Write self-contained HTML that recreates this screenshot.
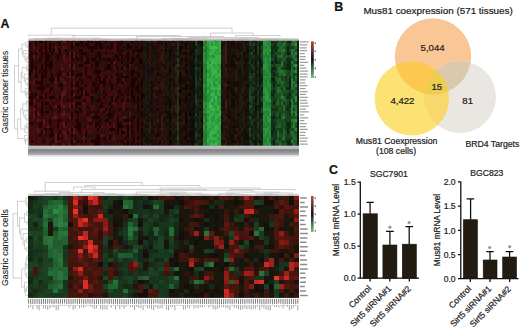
<!DOCTYPE html>
<html><head><meta charset="utf-8"><style>
html,body{margin:0;padding:0;background:#fff;}
body{width:520px;height:330px;overflow:hidden;position:relative;font-family:"Liberation Sans",sans-serif;}
svg{position:absolute;left:0;top:0;}
text{font-family:"Liberation Sans",sans-serif;stroke:#222;stroke-width:0.22px;}
</style></head><body>
<svg width="520" height="330" viewBox="0 0 520 330" font-family="Liberation Sans, sans-serif">
<rect width="520" height="330" fill="#fff"/>
<!-- panel labels -->
<text x="0.4" y="28" font-size="12.4" font-weight="bold" fill="#111">A</text>
<text x="334.3" y="11" font-size="12.4" font-weight="bold" fill="#111">B</text>
<text x="329" y="173.9" font-size="12.4" font-weight="bold" fill="#111">C</text>
<!-- side labels -->
<text transform="translate(7.5,92) rotate(-90)" text-anchor="middle" font-size="8.4" fill="#222" style="stroke-width:0.1px">Gastric cancer tissues</text>
<text transform="translate(7.5,247.6) rotate(-90)" text-anchor="middle" font-size="8.8" fill="#222" style="stroke-width:0.1px">Gastric cancer cells</text>
<!-- upper heatmap -->
<rect x="28.5" y="40.5" width="270.5" height="105" fill="#301512"/>
<clipPath id="cu"><rect x="28.5" y="40.5" width="270.5" height="105"/></clipPath>
<filter id="bl" x="0" y="0" width="1" height="1"><feGaussianBlur stdDeviation="0.7"/></filter>
<g clip-path="url(#cu)"><g shape-rendering="crispEdges" filter="url(#bl)">
<path fill="#340c0c" d="M28.5 40.50h2.0v2.97h-2.0zM28.5 63.83h2.0v2.97h-2.0zM28.5 66.75h2.0v2.97h-2.0zM28.5 119.25h2.0v2.97h-2.0zM28.5 133.83h2.0v2.97h-2.0zM30.5 43.42h2.0v2.97h-2.0zM30.5 46.33h2.0v2.97h-2.0zM30.5 49.25h2.0v2.97h-2.0zM30.5 72.58h2.0v2.97h-2.0zM30.5 104.67h2.0v2.97h-2.0zM30.5 113.42h2.0v2.97h-2.0zM30.5 136.75h2.0v2.97h-2.0zM32.5 40.50h2.0v2.97h-2.0zM32.5 49.25h2.0v2.97h-2.0zM32.5 52.17h2.0v2.97h-2.0zM32.5 119.25h2.0v2.97h-2.0zM32.5 139.67h2.0v2.97h-2.0zM34.5 49.25h2.0v2.97h-2.0zM34.5 55.08h2.0v2.97h-2.0zM34.5 78.42h2.0v2.97h-2.0zM34.5 87.17h2.0v2.97h-2.0zM34.5 98.83h2.0v2.97h-2.0zM34.5 107.58h2.0v2.97h-2.0zM34.5 119.25h2.0v2.97h-2.0zM34.5 122.17h2.0v2.97h-2.0zM34.5 133.83h2.0v2.97h-2.0zM34.5 136.75h2.0v2.97h-2.0zM34.5 139.67h2.0v2.97h-2.0zM34.5 142.58h2.0v2.97h-2.0zM36.5 40.50h2.0v2.97h-2.0zM36.5 46.33h2.0v2.97h-2.0zM36.5 84.25h2.0v2.97h-2.0zM36.5 116.33h2.0v2.97h-2.0zM36.5 133.83h2.0v2.97h-2.0zM38.5 52.17h2.0v2.97h-2.0zM38.5 55.08h2.0v2.97h-2.0zM38.5 66.75h2.0v2.97h-2.0zM38.5 98.83h2.0v2.97h-2.0zM38.5 130.92h2.0v2.97h-2.0zM40.5 43.42h2.0v2.97h-2.0zM40.5 49.25h2.0v2.97h-2.0zM40.5 60.92h2.0v2.97h-2.0zM40.5 93.00h2.0v2.97h-2.0zM40.5 116.33h2.0v2.97h-2.0zM40.5 119.25h2.0v2.97h-2.0zM42.5 40.50h2.0v2.97h-2.0zM42.5 43.42h2.0v2.97h-2.0zM42.5 52.17h2.0v2.97h-2.0zM42.5 63.83h2.0v2.97h-2.0zM42.5 66.75h2.0v2.97h-2.0zM42.5 98.83h2.0v2.97h-2.0zM42.5 101.75h2.0v2.97h-2.0zM42.5 104.67h2.0v2.97h-2.0zM42.5 116.33h2.0v2.97h-2.0zM42.5 128.00h2.0v2.97h-2.0zM42.5 133.83h2.0v2.97h-2.0zM44.5 81.33h2.0v2.97h-2.0zM44.5 87.17h2.0v2.97h-2.0zM44.5 104.67h2.0v2.97h-2.0zM44.5 107.58h2.0v2.97h-2.0zM44.5 119.25h2.0v2.97h-2.0zM44.5 122.17h2.0v2.97h-2.0zM46.5 81.33h2.0v2.97h-2.0zM46.5 113.42h2.0v2.97h-2.0zM46.5 130.92h2.0v2.97h-2.0zM48.5 52.17h2.0v2.97h-2.0zM48.5 72.58h2.0v2.97h-2.0zM48.5 75.50h2.0v2.97h-2.0zM48.5 130.92h2.0v2.97h-2.0zM50.5 40.50h2.0v2.97h-2.0zM50.5 46.33h2.0v2.97h-2.0zM50.5 55.08h2.0v2.97h-2.0zM50.5 84.25h2.0v2.97h-2.0zM50.5 90.08h2.0v2.97h-2.0zM50.5 101.75h2.0v2.97h-2.0zM50.5 119.25h2.0v2.97h-2.0zM52.5 46.33h2.0v2.97h-2.0zM52.5 72.58h2.0v2.97h-2.0zM52.5 84.25h2.0v2.97h-2.0zM52.5 107.58h2.0v2.97h-2.0zM52.5 110.50h2.0v2.97h-2.0zM52.5 119.25h2.0v2.97h-2.0zM52.5 125.08h2.0v2.97h-2.0zM52.5 130.92h2.0v2.97h-2.0zM54.5 43.42h2.0v2.97h-2.0zM54.5 58.00h2.0v2.97h-2.0zM54.5 69.67h2.0v2.97h-2.0zM54.5 72.58h2.0v2.97h-2.0zM54.5 107.58h2.0v2.97h-2.0zM56.5 43.42h2.0v2.97h-2.0zM56.5 46.33h2.0v2.97h-2.0zM56.5 63.83h2.0v2.97h-2.0zM56.5 66.75h2.0v2.97h-2.0zM56.5 84.25h2.0v2.97h-2.0zM56.5 90.08h2.0v2.97h-2.0zM56.5 93.00h2.0v2.97h-2.0zM56.5 95.92h2.0v2.97h-2.0zM56.5 101.75h2.0v2.97h-2.0zM56.5 116.33h2.0v2.97h-2.0zM56.5 128.00h2.0v2.97h-2.0zM56.5 130.92h2.0v2.97h-2.0zM56.5 139.67h2.0v2.97h-2.0zM56.5 142.58h2.0v2.97h-2.0zM58.5 46.33h2.0v2.97h-2.0zM58.5 60.92h2.0v2.97h-2.0zM58.5 78.42h2.0v2.97h-2.0zM58.5 87.17h2.0v2.97h-2.0zM58.5 90.08h2.0v2.97h-2.0zM58.5 128.00h2.0v2.97h-2.0zM60.5 46.33h2.0v2.97h-2.0zM60.5 60.92h2.0v2.97h-2.0zM60.5 72.58h2.0v2.97h-2.0zM60.5 107.58h2.0v2.97h-2.0zM60.5 110.50h2.0v2.97h-2.0zM60.5 133.83h2.0v2.97h-2.0zM60.5 139.67h2.0v2.97h-2.0zM62.5 49.25h2.0v2.97h-2.0zM62.5 75.50h2.0v2.97h-2.0zM62.5 101.75h2.0v2.97h-2.0zM64.5 55.08h2.0v2.97h-2.0zM64.5 63.83h2.0v2.97h-2.0zM64.5 69.67h2.0v2.97h-2.0zM64.5 95.92h2.0v2.97h-2.0zM64.5 98.83h2.0v2.97h-2.0zM64.5 101.75h2.0v2.97h-2.0zM64.5 116.33h2.0v2.97h-2.0zM64.5 128.00h2.0v2.97h-2.0zM64.5 139.67h2.0v2.97h-2.0zM66.5 43.42h2.0v2.97h-2.0zM66.5 58.00h2.0v2.97h-2.0zM66.5 81.33h2.0v2.97h-2.0zM66.5 110.50h2.0v2.97h-2.0zM66.5 133.83h2.0v2.97h-2.0zM68.5 49.25h2.0v2.97h-2.0zM68.5 78.42h2.0v2.97h-2.0zM68.5 87.17h2.0v2.97h-2.0zM68.5 93.00h2.0v2.97h-2.0zM68.5 133.83h2.0v2.97h-2.0zM68.5 136.75h2.0v2.97h-2.0zM70.5 60.92h2.0v2.97h-2.0zM70.5 75.50h2.0v2.97h-2.0zM70.5 78.42h2.0v2.97h-2.0zM70.5 87.17h2.0v2.97h-2.0zM70.5 95.92h2.0v2.97h-2.0zM70.5 101.75h2.0v2.97h-2.0zM70.5 107.58h2.0v2.97h-2.0zM70.5 122.17h2.0v2.97h-2.0zM72.5 90.08h2.0v2.97h-2.0zM72.5 95.92h2.0v2.97h-2.0zM72.5 107.58h2.0v2.97h-2.0zM72.5 110.50h2.0v2.97h-2.0zM72.5 122.17h2.0v2.97h-2.0zM74.5 46.33h2.0v2.97h-2.0zM74.5 52.17h2.0v2.97h-2.0zM74.5 60.92h2.0v2.97h-2.0zM74.5 66.75h2.0v2.97h-2.0zM74.5 78.42h2.0v2.97h-2.0zM74.5 98.83h2.0v2.97h-2.0zM74.5 113.42h2.0v2.97h-2.0zM74.5 116.33h2.0v2.97h-2.0zM74.5 133.83h2.0v2.97h-2.0zM74.5 139.67h2.0v2.97h-2.0zM76.5 40.50h2.0v2.97h-2.0zM76.5 46.33h2.0v2.97h-2.0zM76.5 55.08h2.0v2.97h-2.0zM76.5 69.67h2.0v2.97h-2.0zM76.5 75.50h2.0v2.97h-2.0zM76.5 87.17h2.0v2.97h-2.0zM76.5 98.83h2.0v2.97h-2.0zM76.5 133.83h2.0v2.97h-2.0zM78.5 52.17h2.0v2.97h-2.0zM78.5 60.92h2.0v2.97h-2.0zM78.5 66.75h2.0v2.97h-2.0zM78.5 75.50h2.0v2.97h-2.0zM78.5 90.08h2.0v2.97h-2.0zM78.5 98.83h2.0v2.97h-2.0zM78.5 104.67h2.0v2.97h-2.0zM78.5 110.50h2.0v2.97h-2.0zM78.5 119.25h2.0v2.97h-2.0zM78.5 133.83h2.0v2.97h-2.0zM80.5 46.33h2.0v2.97h-2.0zM80.5 66.75h2.0v2.97h-2.0zM80.5 69.67h2.0v2.97h-2.0zM80.5 75.50h2.0v2.97h-2.0zM80.5 95.92h2.0v2.97h-2.0zM80.5 116.33h2.0v2.97h-2.0zM80.5 125.08h2.0v2.97h-2.0zM80.5 142.58h2.0v2.97h-2.0zM82.5 40.50h2.0v2.97h-2.0zM82.5 81.33h2.0v2.97h-2.0zM82.5 84.25h2.0v2.97h-2.0zM82.5 116.33h2.0v2.97h-2.0zM82.5 122.17h2.0v2.97h-2.0zM82.5 142.58h2.0v2.97h-2.0zM84.5 46.33h2.0v2.97h-2.0zM84.5 58.00h2.0v2.97h-2.0zM84.5 63.83h2.0v2.97h-2.0zM84.5 75.50h2.0v2.97h-2.0zM84.5 81.33h2.0v2.97h-2.0zM84.5 98.83h2.0v2.97h-2.0zM84.5 101.75h2.0v2.97h-2.0zM84.5 104.67h2.0v2.97h-2.0zM84.5 116.33h2.0v2.97h-2.0zM84.5 125.08h2.0v2.97h-2.0zM84.5 128.00h2.0v2.97h-2.0zM84.5 136.75h2.0v2.97h-2.0zM86.5 81.33h2.0v2.97h-2.0zM86.5 130.92h2.0v2.97h-2.0zM88.5 43.42h2.0v2.97h-2.0zM88.5 58.00h2.0v2.97h-2.0zM88.5 66.75h2.0v2.97h-2.0zM88.5 78.42h2.0v2.97h-2.0zM88.5 81.33h2.0v2.97h-2.0zM88.5 87.17h2.0v2.97h-2.0zM88.5 139.67h2.0v2.97h-2.0zM90.5 52.17h2.0v2.97h-2.0zM90.5 60.92h2.0v2.97h-2.0zM90.5 69.67h2.0v2.97h-2.0zM90.5 75.50h2.0v2.97h-2.0zM90.5 107.58h2.0v2.97h-2.0zM90.5 119.25h2.0v2.97h-2.0zM90.5 122.17h2.0v2.97h-2.0zM92.5 55.08h2.0v2.97h-2.0zM92.5 60.92h2.0v2.97h-2.0zM92.5 93.00h2.0v2.97h-2.0zM92.5 119.25h2.0v2.97h-2.0zM92.5 130.92h2.0v2.97h-2.0zM94.5 75.50h2.0v2.97h-2.0zM94.5 95.92h2.0v2.97h-2.0zM94.5 104.67h2.0v2.97h-2.0zM94.5 128.00h2.0v2.97h-2.0zM96.5 66.75h2.0v2.97h-2.0zM96.5 81.33h2.0v2.97h-2.0zM96.5 104.67h2.0v2.97h-2.0zM96.5 113.42h2.0v2.97h-2.0zM96.5 125.08h2.0v2.97h-2.0zM96.5 130.92h2.0v2.97h-2.0zM98.5 63.83h2.0v2.97h-2.0zM98.5 72.58h2.0v2.97h-2.0zM98.5 84.25h2.0v2.97h-2.0zM98.5 87.17h2.0v2.97h-2.0zM98.5 107.58h2.0v2.97h-2.0zM98.5 110.50h2.0v2.97h-2.0zM98.5 113.42h2.0v2.97h-2.0zM100.5 40.50h2.0v2.97h-2.0zM100.5 60.92h2.0v2.97h-2.0zM100.5 63.83h2.0v2.97h-2.0zM100.5 72.58h2.0v2.97h-2.0zM100.5 128.00h2.0v2.97h-2.0zM102.5 40.50h2.0v2.97h-2.0zM102.5 43.42h2.0v2.97h-2.0zM102.5 46.33h2.0v2.97h-2.0zM102.5 52.17h2.0v2.97h-2.0zM102.5 60.92h2.0v2.97h-2.0zM102.5 66.75h2.0v2.97h-2.0zM102.5 75.50h2.0v2.97h-2.0zM102.5 98.83h2.0v2.97h-2.0zM102.5 101.75h2.0v2.97h-2.0zM102.5 104.67h2.0v2.97h-2.0zM102.5 116.33h2.0v2.97h-2.0zM102.5 119.25h2.0v2.97h-2.0zM104.5 49.25h2.0v2.97h-2.0zM104.5 63.83h2.0v2.97h-2.0zM104.5 69.67h2.0v2.97h-2.0zM104.5 78.42h2.0v2.97h-2.0zM104.5 90.08h2.0v2.97h-2.0zM104.5 128.00h2.0v2.97h-2.0zM104.5 142.58h2.0v2.97h-2.0zM106.5 40.50h2.0v2.97h-2.0zM106.5 55.08h2.0v2.97h-2.0zM106.5 72.58h2.0v2.97h-2.0zM106.5 84.25h2.0v2.97h-2.0zM106.5 87.17h2.0v2.97h-2.0zM106.5 95.92h2.0v2.97h-2.0zM106.5 107.58h2.0v2.97h-2.0zM106.5 130.92h2.0v2.97h-2.0zM108.5 52.17h2.0v2.97h-2.0zM108.5 72.58h2.0v2.97h-2.0zM108.5 87.17h2.0v2.97h-2.0zM108.5 104.67h2.0v2.97h-2.0zM110.5 49.25h2.0v2.97h-2.0zM110.5 55.08h2.0v2.97h-2.0zM110.5 72.58h2.0v2.97h-2.0zM110.5 81.33h2.0v2.97h-2.0zM110.5 93.00h2.0v2.97h-2.0zM110.5 101.75h2.0v2.97h-2.0zM110.5 107.58h2.0v2.97h-2.0zM110.5 125.08h2.0v2.97h-2.0zM110.5 130.92h2.0v2.97h-2.0zM110.5 136.75h2.0v2.97h-2.0zM110.5 139.67h2.0v2.97h-2.0zM112.5 52.17h2.0v2.97h-2.0zM112.5 87.17h2.0v2.97h-2.0zM112.5 93.00h2.0v2.97h-2.0zM112.5 116.33h2.0v2.97h-2.0zM114.5 58.00h2.0v2.97h-2.0zM114.5 75.50h2.0v2.97h-2.0zM114.5 81.33h2.0v2.97h-2.0zM114.5 95.92h2.0v2.97h-2.0zM114.5 119.25h2.0v2.97h-2.0zM114.5 122.17h2.0v2.97h-2.0zM114.5 139.67h2.0v2.97h-2.0zM116.5 52.17h2.0v2.97h-2.0zM116.5 84.25h2.0v2.97h-2.0zM116.5 87.17h2.0v2.97h-2.0zM116.5 98.83h2.0v2.97h-2.0zM116.5 104.67h2.0v2.97h-2.0zM116.5 107.58h2.0v2.97h-2.0zM116.5 110.50h2.0v2.97h-2.0zM116.5 113.42h2.0v2.97h-2.0zM116.5 136.75h2.0v2.97h-2.0zM116.5 142.58h2.0v2.97h-2.0zM118.5 46.33h2.0v2.97h-2.0zM118.5 63.83h2.0v2.97h-2.0zM118.5 69.67h2.0v2.97h-2.0zM118.5 116.33h2.0v2.97h-2.0zM118.5 139.67h2.0v2.97h-2.0zM120.5 63.83h2.0v2.97h-2.0zM120.5 69.67h2.0v2.97h-2.0zM120.5 107.58h2.0v2.97h-2.0zM120.5 122.17h2.0v2.97h-2.0zM120.5 133.83h2.0v2.97h-2.0zM120.5 136.75h2.0v2.97h-2.0zM122.5 60.92h2.0v2.97h-2.0zM122.5 87.17h2.0v2.97h-2.0zM122.5 98.83h2.0v2.97h-2.0zM122.5 136.75h2.0v2.97h-2.0zM124.5 58.00h2.0v2.97h-2.0zM124.5 69.67h2.0v2.97h-2.0zM124.5 81.33h2.0v2.97h-2.0zM124.5 84.25h2.0v2.97h-2.0zM124.5 93.00h2.0v2.97h-2.0zM124.5 101.75h2.0v2.97h-2.0zM124.5 133.83h2.0v2.97h-2.0zM124.5 142.58h2.0v2.97h-2.0zM126.5 101.75h2.0v2.97h-2.0zM126.5 104.67h2.0v2.97h-2.0zM126.5 122.17h2.0v2.97h-2.0zM126.5 136.75h2.0v2.97h-2.0zM128.5 49.25h2.0v2.97h-2.0zM128.5 52.17h2.0v2.97h-2.0zM128.5 55.08h2.0v2.97h-2.0zM128.5 75.50h2.0v2.97h-2.0zM128.5 78.42h2.0v2.97h-2.0zM128.5 87.17h2.0v2.97h-2.0zM128.5 116.33h2.0v2.97h-2.0zM128.5 119.25h2.0v2.97h-2.0zM128.5 128.00h2.0v2.97h-2.0zM128.5 136.75h2.0v2.97h-2.0zM128.5 142.58h2.0v2.97h-2.0zM132.5 46.33h2.0v2.97h-2.0zM132.5 63.83h2.0v2.97h-2.0zM132.5 104.67h2.0v2.97h-2.0zM134.5 72.58h2.0v2.97h-2.0zM134.5 119.25h2.0v2.97h-2.0zM134.5 122.17h2.0v2.97h-2.0zM134.5 130.92h2.0v2.97h-2.0zM138.5 46.33h2.0v2.97h-2.0zM138.5 55.08h2.0v2.97h-2.0zM138.5 69.67h2.0v2.97h-2.0zM138.5 78.42h2.0v2.97h-2.0zM138.5 101.75h2.0v2.97h-2.0zM138.5 125.08h2.0v2.97h-2.0zM138.5 128.00h2.0v2.97h-2.0zM148.5 46.33h2.0v2.97h-2.0zM148.5 49.25h2.0v2.97h-2.0zM148.5 63.83h2.0v2.97h-2.0zM148.5 90.08h2.0v2.97h-2.0zM148.5 95.92h2.0v2.97h-2.0zM154.5 69.67h2.0v2.97h-2.0zM154.5 72.58h2.0v2.97h-2.0zM154.5 107.58h2.0v2.97h-2.0zM154.5 113.42h2.0v2.97h-2.0zM154.5 128.00h2.0v2.97h-2.0zM156.5 49.25h2.0v2.97h-2.0zM156.5 78.42h2.0v2.97h-2.0zM156.5 84.25h2.0v2.97h-2.0zM156.5 136.75h2.0v2.97h-2.0zM156.5 139.67h2.0v2.97h-2.0zM158.5 46.33h2.0v2.97h-2.0zM158.5 49.25h2.0v2.97h-2.0zM158.5 58.00h2.0v2.97h-2.0zM158.5 69.67h2.0v2.97h-2.0zM158.5 84.25h2.0v2.97h-2.0zM158.5 98.83h2.0v2.97h-2.0zM158.5 104.67h2.0v2.97h-2.0zM158.5 107.58h2.0v2.97h-2.0zM160.5 69.67h2.0v2.97h-2.0zM160.5 98.83h2.0v2.97h-2.0zM160.5 130.92h2.0v2.97h-2.0zM160.5 142.58h2.0v2.97h-2.0zM164.5 55.08h2.0v2.97h-2.0zM164.5 78.42h2.0v2.97h-2.0zM164.5 93.00h2.0v2.97h-2.0zM164.5 98.83h2.0v2.97h-2.0zM164.5 128.00h2.0v2.97h-2.0zM164.5 133.83h2.0v2.97h-2.0zM164.5 139.67h2.0v2.97h-2.0zM164.5 142.58h2.0v2.97h-2.0zM174.5 136.75h2.0v2.97h-2.0zM178.5 63.83h2.0v2.97h-2.0zM178.5 122.17h2.0v2.97h-2.0zM180.5 55.08h2.0v2.97h-2.0zM180.5 66.75h2.0v2.97h-2.0zM180.5 69.67h2.0v2.97h-2.0zM180.5 101.75h2.0v2.97h-2.0zM180.5 113.42h2.0v2.97h-2.0zM180.5 116.33h2.0v2.97h-2.0zM180.5 136.75h2.0v2.97h-2.0zM200.5 49.25h2.0v2.97h-2.0zM200.5 60.92h2.0v2.97h-2.0zM200.5 98.83h2.0v2.97h-2.0zM200.5 113.42h2.0v2.97h-2.0z"/>
<path fill="#240404" d="M28.5 43.42h2.0v2.97h-2.0zM28.5 55.08h2.0v2.97h-2.0zM28.5 69.67h2.0v2.97h-2.0zM28.5 72.58h2.0v2.97h-2.0zM28.5 84.25h2.0v2.97h-2.0zM28.5 87.17h2.0v2.97h-2.0zM28.5 95.92h2.0v2.97h-2.0zM28.5 101.75h2.0v2.97h-2.0zM30.5 52.17h2.0v2.97h-2.0zM30.5 58.00h2.0v2.97h-2.0zM30.5 66.75h2.0v2.97h-2.0zM30.5 69.67h2.0v2.97h-2.0zM30.5 93.00h2.0v2.97h-2.0zM30.5 95.92h2.0v2.97h-2.0zM30.5 98.83h2.0v2.97h-2.0zM30.5 101.75h2.0v2.97h-2.0zM30.5 122.17h2.0v2.97h-2.0zM30.5 139.67h2.0v2.97h-2.0zM34.5 40.50h2.0v2.97h-2.0zM34.5 43.42h2.0v2.97h-2.0zM34.5 52.17h2.0v2.97h-2.0zM34.5 72.58h2.0v2.97h-2.0zM34.5 81.33h2.0v2.97h-2.0zM34.5 93.00h2.0v2.97h-2.0zM34.5 104.67h2.0v2.97h-2.0zM34.5 110.50h2.0v2.97h-2.0zM34.5 113.42h2.0v2.97h-2.0zM36.5 81.33h2.0v2.97h-2.0zM38.5 40.50h2.0v2.97h-2.0zM38.5 69.67h2.0v2.97h-2.0zM38.5 81.33h2.0v2.97h-2.0zM38.5 87.17h2.0v2.97h-2.0zM38.5 95.92h2.0v2.97h-2.0zM38.5 122.17h2.0v2.97h-2.0zM38.5 125.08h2.0v2.97h-2.0zM38.5 133.83h2.0v2.97h-2.0zM40.5 52.17h2.0v2.97h-2.0zM40.5 55.08h2.0v2.97h-2.0zM40.5 63.83h2.0v2.97h-2.0zM40.5 72.58h2.0v2.97h-2.0zM40.5 84.25h2.0v2.97h-2.0zM40.5 87.17h2.0v2.97h-2.0zM40.5 90.08h2.0v2.97h-2.0zM40.5 95.92h2.0v2.97h-2.0zM40.5 101.75h2.0v2.97h-2.0zM40.5 110.50h2.0v2.97h-2.0zM40.5 122.17h2.0v2.97h-2.0zM40.5 130.92h2.0v2.97h-2.0zM42.5 69.67h2.0v2.97h-2.0zM42.5 75.50h2.0v2.97h-2.0zM42.5 87.17h2.0v2.97h-2.0zM42.5 139.67h2.0v2.97h-2.0zM44.5 40.50h2.0v2.97h-2.0zM44.5 43.42h2.0v2.97h-2.0zM44.5 49.25h2.0v2.97h-2.0zM44.5 55.08h2.0v2.97h-2.0zM44.5 60.92h2.0v2.97h-2.0zM44.5 69.67h2.0v2.97h-2.0zM44.5 72.58h2.0v2.97h-2.0zM44.5 93.00h2.0v2.97h-2.0zM44.5 95.92h2.0v2.97h-2.0zM44.5 128.00h2.0v2.97h-2.0zM46.5 55.08h2.0v2.97h-2.0zM46.5 58.00h2.0v2.97h-2.0zM46.5 63.83h2.0v2.97h-2.0zM46.5 84.25h2.0v2.97h-2.0zM46.5 101.75h2.0v2.97h-2.0zM46.5 110.50h2.0v2.97h-2.0zM48.5 49.25h2.0v2.97h-2.0zM48.5 55.08h2.0v2.97h-2.0zM48.5 66.75h2.0v2.97h-2.0zM48.5 78.42h2.0v2.97h-2.0zM48.5 95.92h2.0v2.97h-2.0zM48.5 119.25h2.0v2.97h-2.0zM48.5 122.17h2.0v2.97h-2.0zM48.5 128.00h2.0v2.97h-2.0zM48.5 133.83h2.0v2.97h-2.0zM48.5 142.58h2.0v2.97h-2.0zM50.5 52.17h2.0v2.97h-2.0zM50.5 72.58h2.0v2.97h-2.0zM50.5 78.42h2.0v2.97h-2.0zM50.5 81.33h2.0v2.97h-2.0zM50.5 107.58h2.0v2.97h-2.0zM50.5 128.00h2.0v2.97h-2.0zM50.5 133.83h2.0v2.97h-2.0zM50.5 139.67h2.0v2.97h-2.0zM52.5 49.25h2.0v2.97h-2.0zM52.5 78.42h2.0v2.97h-2.0zM52.5 95.92h2.0v2.97h-2.0zM56.5 58.00h2.0v2.97h-2.0zM56.5 72.58h2.0v2.97h-2.0zM56.5 110.50h2.0v2.97h-2.0zM56.5 122.17h2.0v2.97h-2.0zM56.5 125.08h2.0v2.97h-2.0zM56.5 133.83h2.0v2.97h-2.0zM58.5 43.42h2.0v2.97h-2.0zM58.5 52.17h2.0v2.97h-2.0zM58.5 69.67h2.0v2.97h-2.0zM58.5 72.58h2.0v2.97h-2.0zM58.5 95.92h2.0v2.97h-2.0zM58.5 104.67h2.0v2.97h-2.0zM58.5 119.25h2.0v2.97h-2.0zM58.5 130.92h2.0v2.97h-2.0zM60.5 84.25h2.0v2.97h-2.0zM64.5 49.25h2.0v2.97h-2.0zM64.5 122.17h2.0v2.97h-2.0zM66.5 40.50h2.0v2.97h-2.0zM66.5 52.17h2.0v2.97h-2.0zM66.5 72.58h2.0v2.97h-2.0zM66.5 98.83h2.0v2.97h-2.0zM66.5 130.92h2.0v2.97h-2.0zM70.5 52.17h2.0v2.97h-2.0zM70.5 58.00h2.0v2.97h-2.0zM70.5 63.83h2.0v2.97h-2.0zM70.5 69.67h2.0v2.97h-2.0zM70.5 72.58h2.0v2.97h-2.0zM70.5 81.33h2.0v2.97h-2.0zM70.5 98.83h2.0v2.97h-2.0zM70.5 104.67h2.0v2.97h-2.0zM70.5 133.83h2.0v2.97h-2.0zM70.5 142.58h2.0v2.97h-2.0zM74.5 55.08h2.0v2.97h-2.0zM74.5 84.25h2.0v2.97h-2.0zM74.5 95.92h2.0v2.97h-2.0zM74.5 101.75h2.0v2.97h-2.0zM74.5 104.67h2.0v2.97h-2.0zM74.5 110.50h2.0v2.97h-2.0zM74.5 119.25h2.0v2.97h-2.0zM74.5 125.08h2.0v2.97h-2.0zM74.5 136.75h2.0v2.97h-2.0zM76.5 84.25h2.0v2.97h-2.0zM76.5 95.92h2.0v2.97h-2.0zM76.5 110.50h2.0v2.97h-2.0zM76.5 113.42h2.0v2.97h-2.0zM76.5 119.25h2.0v2.97h-2.0zM76.5 125.08h2.0v2.97h-2.0zM76.5 128.00h2.0v2.97h-2.0zM76.5 139.67h2.0v2.97h-2.0zM78.5 49.25h2.0v2.97h-2.0zM78.5 72.58h2.0v2.97h-2.0zM78.5 78.42h2.0v2.97h-2.0zM78.5 87.17h2.0v2.97h-2.0zM78.5 107.58h2.0v2.97h-2.0zM78.5 122.17h2.0v2.97h-2.0zM78.5 130.92h2.0v2.97h-2.0zM80.5 43.42h2.0v2.97h-2.0zM80.5 63.83h2.0v2.97h-2.0zM80.5 72.58h2.0v2.97h-2.0zM80.5 81.33h2.0v2.97h-2.0zM80.5 87.17h2.0v2.97h-2.0zM80.5 90.08h2.0v2.97h-2.0zM80.5 93.00h2.0v2.97h-2.0zM80.5 139.67h2.0v2.97h-2.0zM82.5 52.17h2.0v2.97h-2.0zM82.5 98.83h2.0v2.97h-2.0zM84.5 43.42h2.0v2.97h-2.0zM84.5 52.17h2.0v2.97h-2.0zM84.5 69.67h2.0v2.97h-2.0zM84.5 72.58h2.0v2.97h-2.0zM84.5 84.25h2.0v2.97h-2.0zM84.5 90.08h2.0v2.97h-2.0zM84.5 93.00h2.0v2.97h-2.0zM84.5 130.92h2.0v2.97h-2.0zM84.5 133.83h2.0v2.97h-2.0zM86.5 40.50h2.0v2.97h-2.0zM86.5 43.42h2.0v2.97h-2.0zM86.5 46.33h2.0v2.97h-2.0zM86.5 55.08h2.0v2.97h-2.0zM86.5 58.00h2.0v2.97h-2.0zM86.5 60.92h2.0v2.97h-2.0zM86.5 75.50h2.0v2.97h-2.0zM86.5 93.00h2.0v2.97h-2.0zM86.5 104.67h2.0v2.97h-2.0zM86.5 113.42h2.0v2.97h-2.0zM88.5 46.33h2.0v2.97h-2.0zM88.5 75.50h2.0v2.97h-2.0zM88.5 110.50h2.0v2.97h-2.0zM88.5 122.17h2.0v2.97h-2.0zM90.5 40.50h2.0v2.97h-2.0zM90.5 46.33h2.0v2.97h-2.0zM90.5 49.25h2.0v2.97h-2.0zM90.5 90.08h2.0v2.97h-2.0zM90.5 98.83h2.0v2.97h-2.0zM90.5 139.67h2.0v2.97h-2.0zM92.5 46.33h2.0v2.97h-2.0zM92.5 58.00h2.0v2.97h-2.0zM92.5 81.33h2.0v2.97h-2.0zM92.5 84.25h2.0v2.97h-2.0zM92.5 110.50h2.0v2.97h-2.0zM92.5 116.33h2.0v2.97h-2.0zM92.5 139.67h2.0v2.97h-2.0zM94.5 40.50h2.0v2.97h-2.0zM94.5 46.33h2.0v2.97h-2.0zM94.5 55.08h2.0v2.97h-2.0zM94.5 60.92h2.0v2.97h-2.0zM94.5 69.67h2.0v2.97h-2.0zM94.5 78.42h2.0v2.97h-2.0zM94.5 87.17h2.0v2.97h-2.0zM94.5 113.42h2.0v2.97h-2.0zM94.5 116.33h2.0v2.97h-2.0zM94.5 125.08h2.0v2.97h-2.0zM94.5 136.75h2.0v2.97h-2.0zM94.5 139.67h2.0v2.97h-2.0zM94.5 142.58h2.0v2.97h-2.0zM96.5 43.42h2.0v2.97h-2.0zM96.5 60.92h2.0v2.97h-2.0zM96.5 63.83h2.0v2.97h-2.0zM96.5 72.58h2.0v2.97h-2.0zM96.5 84.25h2.0v2.97h-2.0zM96.5 98.83h2.0v2.97h-2.0zM96.5 110.50h2.0v2.97h-2.0zM96.5 122.17h2.0v2.97h-2.0zM96.5 133.83h2.0v2.97h-2.0zM96.5 139.67h2.0v2.97h-2.0zM96.5 142.58h2.0v2.97h-2.0zM98.5 43.42h2.0v2.97h-2.0zM98.5 46.33h2.0v2.97h-2.0zM98.5 52.17h2.0v2.97h-2.0zM98.5 55.08h2.0v2.97h-2.0zM98.5 75.50h2.0v2.97h-2.0zM98.5 98.83h2.0v2.97h-2.0zM98.5 104.67h2.0v2.97h-2.0zM98.5 119.25h2.0v2.97h-2.0zM98.5 136.75h2.0v2.97h-2.0zM98.5 142.58h2.0v2.97h-2.0zM100.5 81.33h2.0v2.97h-2.0zM100.5 101.75h2.0v2.97h-2.0zM100.5 104.67h2.0v2.97h-2.0zM102.5 58.00h2.0v2.97h-2.0zM102.5 78.42h2.0v2.97h-2.0zM102.5 81.33h2.0v2.97h-2.0zM102.5 84.25h2.0v2.97h-2.0zM102.5 95.92h2.0v2.97h-2.0zM102.5 136.75h2.0v2.97h-2.0zM104.5 52.17h2.0v2.97h-2.0zM104.5 75.50h2.0v2.97h-2.0zM104.5 93.00h2.0v2.97h-2.0zM104.5 107.58h2.0v2.97h-2.0zM104.5 119.25h2.0v2.97h-2.0zM106.5 66.75h2.0v2.97h-2.0zM106.5 113.42h2.0v2.97h-2.0zM106.5 119.25h2.0v2.97h-2.0zM108.5 101.75h2.0v2.97h-2.0zM108.5 107.58h2.0v2.97h-2.0zM108.5 110.50h2.0v2.97h-2.0zM108.5 122.17h2.0v2.97h-2.0zM108.5 128.00h2.0v2.97h-2.0zM108.5 133.83h2.0v2.97h-2.0zM110.5 75.50h2.0v2.97h-2.0zM110.5 98.83h2.0v2.97h-2.0zM112.5 58.00h2.0v2.97h-2.0zM112.5 110.50h2.0v2.97h-2.0zM112.5 128.00h2.0v2.97h-2.0zM114.5 55.08h2.0v2.97h-2.0zM114.5 98.83h2.0v2.97h-2.0zM116.5 40.50h2.0v2.97h-2.0zM116.5 55.08h2.0v2.97h-2.0zM116.5 72.58h2.0v2.97h-2.0zM116.5 116.33h2.0v2.97h-2.0zM118.5 78.42h2.0v2.97h-2.0zM118.5 125.08h2.0v2.97h-2.0zM120.5 72.58h2.0v2.97h-2.0zM120.5 81.33h2.0v2.97h-2.0zM120.5 93.00h2.0v2.97h-2.0zM120.5 125.08h2.0v2.97h-2.0zM120.5 139.67h2.0v2.97h-2.0zM122.5 75.50h2.0v2.97h-2.0zM122.5 130.92h2.0v2.97h-2.0zM122.5 142.58h2.0v2.97h-2.0zM124.5 75.50h2.0v2.97h-2.0zM124.5 78.42h2.0v2.97h-2.0zM124.5 107.58h2.0v2.97h-2.0zM124.5 119.25h2.0v2.97h-2.0zM126.5 93.00h2.0v2.97h-2.0zM130.5 81.33h2.0v2.97h-2.0zM130.5 90.08h2.0v2.97h-2.0zM132.5 136.75h2.0v2.97h-2.0z"/>
<path fill="#2c0404" d="M28.5 46.33h2.0v2.97h-2.0zM36.5 87.17h2.0v2.97h-2.0zM40.5 104.67h2.0v2.97h-2.0zM52.5 101.75h2.0v2.97h-2.0zM56.5 119.25h2.0v2.97h-2.0zM58.5 142.58h2.0v2.97h-2.0zM60.5 87.17h2.0v2.97h-2.0zM60.5 136.75h2.0v2.97h-2.0z"/>
<path fill="#2c0c0c" d="M28.5 49.25h2.0v2.97h-2.0zM28.5 52.17h2.0v2.97h-2.0zM28.5 75.50h2.0v2.97h-2.0zM28.5 78.42h2.0v2.97h-2.0zM28.5 116.33h2.0v2.97h-2.0zM28.5 136.75h2.0v2.97h-2.0zM30.5 55.08h2.0v2.97h-2.0zM30.5 78.42h2.0v2.97h-2.0zM30.5 90.08h2.0v2.97h-2.0zM32.5 60.92h2.0v2.97h-2.0zM32.5 63.83h2.0v2.97h-2.0zM32.5 66.75h2.0v2.97h-2.0zM32.5 75.50h2.0v2.97h-2.0zM32.5 93.00h2.0v2.97h-2.0zM34.5 46.33h2.0v2.97h-2.0zM34.5 58.00h2.0v2.97h-2.0zM34.5 60.92h2.0v2.97h-2.0zM34.5 63.83h2.0v2.97h-2.0zM34.5 84.25h2.0v2.97h-2.0zM34.5 90.08h2.0v2.97h-2.0zM34.5 95.92h2.0v2.97h-2.0zM34.5 130.92h2.0v2.97h-2.0zM36.5 60.92h2.0v2.97h-2.0zM36.5 72.58h2.0v2.97h-2.0zM36.5 75.50h2.0v2.97h-2.0zM36.5 98.83h2.0v2.97h-2.0zM36.5 107.58h2.0v2.97h-2.0zM38.5 43.42h2.0v2.97h-2.0zM38.5 60.92h2.0v2.97h-2.0zM38.5 84.25h2.0v2.97h-2.0zM38.5 93.00h2.0v2.97h-2.0zM38.5 107.58h2.0v2.97h-2.0zM40.5 58.00h2.0v2.97h-2.0zM40.5 69.67h2.0v2.97h-2.0zM40.5 98.83h2.0v2.97h-2.0zM40.5 125.08h2.0v2.97h-2.0zM40.5 136.75h2.0v2.97h-2.0zM40.5 139.67h2.0v2.97h-2.0zM42.5 81.33h2.0v2.97h-2.0zM42.5 84.25h2.0v2.97h-2.0zM42.5 110.50h2.0v2.97h-2.0zM44.5 75.50h2.0v2.97h-2.0zM44.5 78.42h2.0v2.97h-2.0zM44.5 84.25h2.0v2.97h-2.0zM44.5 130.92h2.0v2.97h-2.0zM44.5 133.83h2.0v2.97h-2.0zM46.5 52.17h2.0v2.97h-2.0zM46.5 60.92h2.0v2.97h-2.0zM46.5 107.58h2.0v2.97h-2.0zM46.5 119.25h2.0v2.97h-2.0zM48.5 40.50h2.0v2.97h-2.0zM48.5 58.00h2.0v2.97h-2.0zM48.5 69.67h2.0v2.97h-2.0zM48.5 81.33h2.0v2.97h-2.0zM48.5 84.25h2.0v2.97h-2.0zM48.5 87.17h2.0v2.97h-2.0zM48.5 107.58h2.0v2.97h-2.0zM48.5 116.33h2.0v2.97h-2.0zM48.5 136.75h2.0v2.97h-2.0zM50.5 43.42h2.0v2.97h-2.0zM50.5 49.25h2.0v2.97h-2.0zM50.5 58.00h2.0v2.97h-2.0zM50.5 66.75h2.0v2.97h-2.0zM50.5 69.67h2.0v2.97h-2.0zM50.5 110.50h2.0v2.97h-2.0zM50.5 113.42h2.0v2.97h-2.0zM50.5 122.17h2.0v2.97h-2.0zM50.5 125.08h2.0v2.97h-2.0zM52.5 40.50h2.0v2.97h-2.0zM52.5 43.42h2.0v2.97h-2.0zM52.5 52.17h2.0v2.97h-2.0zM52.5 93.00h2.0v2.97h-2.0zM52.5 133.83h2.0v2.97h-2.0zM52.5 136.75h2.0v2.97h-2.0zM52.5 139.67h2.0v2.97h-2.0zM54.5 55.08h2.0v2.97h-2.0zM54.5 60.92h2.0v2.97h-2.0zM54.5 66.75h2.0v2.97h-2.0zM54.5 98.83h2.0v2.97h-2.0zM54.5 142.58h2.0v2.97h-2.0zM56.5 49.25h2.0v2.97h-2.0zM56.5 52.17h2.0v2.97h-2.0zM56.5 81.33h2.0v2.97h-2.0zM56.5 98.83h2.0v2.97h-2.0zM58.5 40.50h2.0v2.97h-2.0zM58.5 55.08h2.0v2.97h-2.0zM58.5 66.75h2.0v2.97h-2.0zM58.5 81.33h2.0v2.97h-2.0zM58.5 93.00h2.0v2.97h-2.0zM58.5 110.50h2.0v2.97h-2.0zM58.5 113.42h2.0v2.97h-2.0zM58.5 136.75h2.0v2.97h-2.0zM60.5 40.50h2.0v2.97h-2.0zM60.5 55.08h2.0v2.97h-2.0zM60.5 58.00h2.0v2.97h-2.0zM60.5 69.67h2.0v2.97h-2.0zM60.5 75.50h2.0v2.97h-2.0zM60.5 81.33h2.0v2.97h-2.0zM60.5 119.25h2.0v2.97h-2.0zM62.5 43.42h2.0v2.97h-2.0zM62.5 63.83h2.0v2.97h-2.0zM62.5 84.25h2.0v2.97h-2.0zM62.5 95.92h2.0v2.97h-2.0zM62.5 98.83h2.0v2.97h-2.0zM62.5 139.67h2.0v2.97h-2.0zM64.5 52.17h2.0v2.97h-2.0zM64.5 66.75h2.0v2.97h-2.0zM64.5 78.42h2.0v2.97h-2.0zM64.5 107.58h2.0v2.97h-2.0zM64.5 110.50h2.0v2.97h-2.0zM64.5 119.25h2.0v2.97h-2.0zM64.5 142.58h2.0v2.97h-2.0zM66.5 49.25h2.0v2.97h-2.0zM66.5 55.08h2.0v2.97h-2.0zM66.5 78.42h2.0v2.97h-2.0zM66.5 84.25h2.0v2.97h-2.0zM66.5 90.08h2.0v2.97h-2.0zM66.5 93.00h2.0v2.97h-2.0zM66.5 95.92h2.0v2.97h-2.0zM66.5 107.58h2.0v2.97h-2.0zM66.5 119.25h2.0v2.97h-2.0zM68.5 40.50h2.0v2.97h-2.0zM68.5 46.33h2.0v2.97h-2.0zM68.5 110.50h2.0v2.97h-2.0zM70.5 40.50h2.0v2.97h-2.0zM70.5 49.25h2.0v2.97h-2.0zM70.5 66.75h2.0v2.97h-2.0zM70.5 110.50h2.0v2.97h-2.0zM70.5 119.25h2.0v2.97h-2.0zM70.5 130.92h2.0v2.97h-2.0zM70.5 136.75h2.0v2.97h-2.0zM72.5 46.33h2.0v2.97h-2.0zM72.5 58.00h2.0v2.97h-2.0zM72.5 60.92h2.0v2.97h-2.0zM72.5 72.58h2.0v2.97h-2.0zM72.5 133.83h2.0v2.97h-2.0zM72.5 142.58h2.0v2.97h-2.0zM74.5 49.25h2.0v2.97h-2.0zM74.5 58.00h2.0v2.97h-2.0zM74.5 63.83h2.0v2.97h-2.0zM74.5 69.67h2.0v2.97h-2.0zM74.5 72.58h2.0v2.97h-2.0zM74.5 81.33h2.0v2.97h-2.0zM74.5 93.00h2.0v2.97h-2.0zM74.5 107.58h2.0v2.97h-2.0zM74.5 142.58h2.0v2.97h-2.0zM76.5 52.17h2.0v2.97h-2.0zM76.5 63.83h2.0v2.97h-2.0zM76.5 104.67h2.0v2.97h-2.0zM76.5 116.33h2.0v2.97h-2.0zM78.5 43.42h2.0v2.97h-2.0zM78.5 46.33h2.0v2.97h-2.0zM78.5 55.08h2.0v2.97h-2.0zM78.5 58.00h2.0v2.97h-2.0zM78.5 69.67h2.0v2.97h-2.0zM78.5 84.25h2.0v2.97h-2.0zM78.5 93.00h2.0v2.97h-2.0zM78.5 116.33h2.0v2.97h-2.0zM78.5 136.75h2.0v2.97h-2.0zM78.5 139.67h2.0v2.97h-2.0zM80.5 60.92h2.0v2.97h-2.0zM80.5 78.42h2.0v2.97h-2.0zM80.5 104.67h2.0v2.97h-2.0zM80.5 107.58h2.0v2.97h-2.0zM80.5 119.25h2.0v2.97h-2.0zM80.5 133.83h2.0v2.97h-2.0zM82.5 43.42h2.0v2.97h-2.0zM82.5 60.92h2.0v2.97h-2.0zM82.5 63.83h2.0v2.97h-2.0zM82.5 78.42h2.0v2.97h-2.0zM82.5 87.17h2.0v2.97h-2.0zM82.5 119.25h2.0v2.97h-2.0zM82.5 125.08h2.0v2.97h-2.0zM84.5 40.50h2.0v2.97h-2.0zM84.5 49.25h2.0v2.97h-2.0zM84.5 55.08h2.0v2.97h-2.0zM84.5 110.50h2.0v2.97h-2.0zM84.5 122.17h2.0v2.97h-2.0zM86.5 52.17h2.0v2.97h-2.0zM86.5 107.58h2.0v2.97h-2.0zM86.5 110.50h2.0v2.97h-2.0zM86.5 133.83h2.0v2.97h-2.0zM86.5 136.75h2.0v2.97h-2.0zM86.5 142.58h2.0v2.97h-2.0zM88.5 40.50h2.0v2.97h-2.0zM88.5 49.25h2.0v2.97h-2.0zM88.5 52.17h2.0v2.97h-2.0zM88.5 60.92h2.0v2.97h-2.0zM88.5 95.92h2.0v2.97h-2.0zM88.5 107.58h2.0v2.97h-2.0zM88.5 113.42h2.0v2.97h-2.0zM88.5 133.83h2.0v2.97h-2.0zM90.5 55.08h2.0v2.97h-2.0zM90.5 78.42h2.0v2.97h-2.0zM90.5 81.33h2.0v2.97h-2.0zM90.5 84.25h2.0v2.97h-2.0zM90.5 101.75h2.0v2.97h-2.0zM90.5 110.50h2.0v2.97h-2.0zM90.5 116.33h2.0v2.97h-2.0zM90.5 133.83h2.0v2.97h-2.0zM90.5 136.75h2.0v2.97h-2.0zM92.5 49.25h2.0v2.97h-2.0zM92.5 66.75h2.0v2.97h-2.0zM92.5 72.58h2.0v2.97h-2.0zM92.5 87.17h2.0v2.97h-2.0zM92.5 90.08h2.0v2.97h-2.0zM92.5 98.83h2.0v2.97h-2.0zM92.5 101.75h2.0v2.97h-2.0zM92.5 133.83h2.0v2.97h-2.0zM92.5 142.58h2.0v2.97h-2.0zM94.5 49.25h2.0v2.97h-2.0zM94.5 52.17h2.0v2.97h-2.0zM94.5 72.58h2.0v2.97h-2.0zM94.5 84.25h2.0v2.97h-2.0zM94.5 93.00h2.0v2.97h-2.0zM94.5 98.83h2.0v2.97h-2.0zM94.5 101.75h2.0v2.97h-2.0zM94.5 107.58h2.0v2.97h-2.0zM94.5 110.50h2.0v2.97h-2.0zM94.5 119.25h2.0v2.97h-2.0zM94.5 130.92h2.0v2.97h-2.0zM94.5 133.83h2.0v2.97h-2.0zM96.5 46.33h2.0v2.97h-2.0zM96.5 49.25h2.0v2.97h-2.0zM96.5 58.00h2.0v2.97h-2.0zM96.5 78.42h2.0v2.97h-2.0zM96.5 90.08h2.0v2.97h-2.0zM96.5 95.92h2.0v2.97h-2.0zM96.5 101.75h2.0v2.97h-2.0zM96.5 119.25h2.0v2.97h-2.0zM98.5 49.25h2.0v2.97h-2.0zM98.5 60.92h2.0v2.97h-2.0zM98.5 66.75h2.0v2.97h-2.0zM98.5 90.08h2.0v2.97h-2.0zM98.5 93.00h2.0v2.97h-2.0zM98.5 95.92h2.0v2.97h-2.0zM98.5 116.33h2.0v2.97h-2.0zM98.5 122.17h2.0v2.97h-2.0zM98.5 139.67h2.0v2.97h-2.0zM100.5 52.17h2.0v2.97h-2.0zM100.5 55.08h2.0v2.97h-2.0zM100.5 58.00h2.0v2.97h-2.0zM100.5 93.00h2.0v2.97h-2.0zM100.5 113.42h2.0v2.97h-2.0zM100.5 116.33h2.0v2.97h-2.0zM100.5 119.25h2.0v2.97h-2.0zM100.5 122.17h2.0v2.97h-2.0zM100.5 130.92h2.0v2.97h-2.0zM100.5 139.67h2.0v2.97h-2.0zM102.5 63.83h2.0v2.97h-2.0zM102.5 69.67h2.0v2.97h-2.0zM102.5 87.17h2.0v2.97h-2.0zM102.5 93.00h2.0v2.97h-2.0zM102.5 128.00h2.0v2.97h-2.0zM102.5 130.92h2.0v2.97h-2.0zM104.5 43.42h2.0v2.97h-2.0zM104.5 46.33h2.0v2.97h-2.0zM104.5 58.00h2.0v2.97h-2.0zM104.5 60.92h2.0v2.97h-2.0zM104.5 72.58h2.0v2.97h-2.0zM104.5 84.25h2.0v2.97h-2.0zM104.5 87.17h2.0v2.97h-2.0zM104.5 95.92h2.0v2.97h-2.0zM104.5 98.83h2.0v2.97h-2.0zM104.5 101.75h2.0v2.97h-2.0zM104.5 113.42h2.0v2.97h-2.0zM104.5 116.33h2.0v2.97h-2.0zM104.5 122.17h2.0v2.97h-2.0zM104.5 133.83h2.0v2.97h-2.0zM106.5 60.92h2.0v2.97h-2.0zM106.5 101.75h2.0v2.97h-2.0zM106.5 116.33h2.0v2.97h-2.0zM106.5 142.58h2.0v2.97h-2.0zM108.5 43.42h2.0v2.97h-2.0zM108.5 49.25h2.0v2.97h-2.0zM108.5 60.92h2.0v2.97h-2.0zM108.5 78.42h2.0v2.97h-2.0zM108.5 84.25h2.0v2.97h-2.0zM108.5 95.92h2.0v2.97h-2.0zM108.5 98.83h2.0v2.97h-2.0zM110.5 40.50h2.0v2.97h-2.0zM110.5 52.17h2.0v2.97h-2.0zM110.5 58.00h2.0v2.97h-2.0zM110.5 63.83h2.0v2.97h-2.0zM110.5 66.75h2.0v2.97h-2.0zM110.5 90.08h2.0v2.97h-2.0zM110.5 110.50h2.0v2.97h-2.0zM110.5 119.25h2.0v2.97h-2.0zM110.5 122.17h2.0v2.97h-2.0zM110.5 142.58h2.0v2.97h-2.0zM112.5 40.50h2.0v2.97h-2.0zM112.5 55.08h2.0v2.97h-2.0zM112.5 69.67h2.0v2.97h-2.0zM112.5 84.25h2.0v2.97h-2.0zM112.5 107.58h2.0v2.97h-2.0zM112.5 113.42h2.0v2.97h-2.0zM112.5 142.58h2.0v2.97h-2.0zM114.5 52.17h2.0v2.97h-2.0zM114.5 87.17h2.0v2.97h-2.0zM114.5 107.58h2.0v2.97h-2.0zM114.5 128.00h2.0v2.97h-2.0zM114.5 130.92h2.0v2.97h-2.0zM114.5 133.83h2.0v2.97h-2.0zM116.5 60.92h2.0v2.97h-2.0zM116.5 63.83h2.0v2.97h-2.0zM116.5 69.67h2.0v2.97h-2.0zM116.5 93.00h2.0v2.97h-2.0zM116.5 133.83h2.0v2.97h-2.0zM118.5 49.25h2.0v2.97h-2.0zM118.5 60.92h2.0v2.97h-2.0zM118.5 72.58h2.0v2.97h-2.0zM118.5 75.50h2.0v2.97h-2.0zM118.5 95.92h2.0v2.97h-2.0zM118.5 136.75h2.0v2.97h-2.0zM120.5 52.17h2.0v2.97h-2.0zM120.5 95.92h2.0v2.97h-2.0zM120.5 110.50h2.0v2.97h-2.0zM120.5 113.42h2.0v2.97h-2.0zM120.5 119.25h2.0v2.97h-2.0zM122.5 40.50h2.0v2.97h-2.0zM122.5 43.42h2.0v2.97h-2.0zM122.5 49.25h2.0v2.97h-2.0zM122.5 55.08h2.0v2.97h-2.0zM122.5 63.83h2.0v2.97h-2.0zM122.5 84.25h2.0v2.97h-2.0zM122.5 90.08h2.0v2.97h-2.0zM122.5 93.00h2.0v2.97h-2.0zM122.5 95.92h2.0v2.97h-2.0zM122.5 113.42h2.0v2.97h-2.0zM122.5 125.08h2.0v2.97h-2.0zM122.5 139.67h2.0v2.97h-2.0zM124.5 43.42h2.0v2.97h-2.0zM124.5 49.25h2.0v2.97h-2.0zM124.5 87.17h2.0v2.97h-2.0zM124.5 113.42h2.0v2.97h-2.0zM124.5 125.08h2.0v2.97h-2.0zM126.5 40.50h2.0v2.97h-2.0zM126.5 49.25h2.0v2.97h-2.0zM126.5 78.42h2.0v2.97h-2.0zM126.5 81.33h2.0v2.97h-2.0zM126.5 84.25h2.0v2.97h-2.0zM126.5 90.08h2.0v2.97h-2.0zM126.5 95.92h2.0v2.97h-2.0zM126.5 116.33h2.0v2.97h-2.0zM128.5 81.33h2.0v2.97h-2.0zM128.5 107.58h2.0v2.97h-2.0zM128.5 139.67h2.0v2.97h-2.0zM130.5 43.42h2.0v2.97h-2.0zM130.5 49.25h2.0v2.97h-2.0zM130.5 63.83h2.0v2.97h-2.0zM130.5 66.75h2.0v2.97h-2.0zM130.5 98.83h2.0v2.97h-2.0zM130.5 104.67h2.0v2.97h-2.0zM130.5 110.50h2.0v2.97h-2.0zM130.5 113.42h2.0v2.97h-2.0zM130.5 116.33h2.0v2.97h-2.0zM130.5 136.75h2.0v2.97h-2.0zM132.5 55.08h2.0v2.97h-2.0zM132.5 60.92h2.0v2.97h-2.0zM132.5 101.75h2.0v2.97h-2.0zM132.5 107.58h2.0v2.97h-2.0zM132.5 110.50h2.0v2.97h-2.0zM132.5 113.42h2.0v2.97h-2.0zM132.5 119.25h2.0v2.97h-2.0zM132.5 125.08h2.0v2.97h-2.0zM132.5 128.00h2.0v2.97h-2.0zM132.5 142.58h2.0v2.97h-2.0zM134.5 40.50h2.0v2.97h-2.0zM134.5 43.42h2.0v2.97h-2.0zM134.5 58.00h2.0v2.97h-2.0zM134.5 60.92h2.0v2.97h-2.0zM134.5 84.25h2.0v2.97h-2.0zM134.5 90.08h2.0v2.97h-2.0zM134.5 93.00h2.0v2.97h-2.0zM134.5 113.42h2.0v2.97h-2.0zM134.5 116.33h2.0v2.97h-2.0zM134.5 142.58h2.0v2.97h-2.0zM136.5 46.33h2.0v2.97h-2.0zM136.5 66.75h2.0v2.97h-2.0zM136.5 78.42h2.0v2.97h-2.0zM136.5 113.42h2.0v2.97h-2.0zM136.5 139.67h2.0v2.97h-2.0zM138.5 40.50h2.0v2.97h-2.0zM138.5 43.42h2.0v2.97h-2.0zM138.5 72.58h2.0v2.97h-2.0zM138.5 87.17h2.0v2.97h-2.0zM138.5 95.92h2.0v2.97h-2.0zM138.5 104.67h2.0v2.97h-2.0zM138.5 107.58h2.0v2.97h-2.0zM138.5 119.25h2.0v2.97h-2.0zM138.5 122.17h2.0v2.97h-2.0zM138.5 130.92h2.0v2.97h-2.0zM138.5 136.75h2.0v2.97h-2.0zM140.5 52.17h2.0v2.97h-2.0zM140.5 72.58h2.0v2.97h-2.0zM140.5 107.58h2.0v2.97h-2.0zM148.5 52.17h2.0v2.97h-2.0zM148.5 58.00h2.0v2.97h-2.0zM148.5 66.75h2.0v2.97h-2.0zM148.5 69.67h2.0v2.97h-2.0zM148.5 81.33h2.0v2.97h-2.0zM148.5 93.00h2.0v2.97h-2.0zM148.5 98.83h2.0v2.97h-2.0zM148.5 104.67h2.0v2.97h-2.0zM148.5 116.33h2.0v2.97h-2.0zM148.5 119.25h2.0v2.97h-2.0zM148.5 136.75h2.0v2.97h-2.0zM154.5 43.42h2.0v2.97h-2.0zM154.5 46.33h2.0v2.97h-2.0zM154.5 81.33h2.0v2.97h-2.0zM154.5 84.25h2.0v2.97h-2.0zM154.5 101.75h2.0v2.97h-2.0zM154.5 110.50h2.0v2.97h-2.0zM154.5 119.25h2.0v2.97h-2.0zM154.5 122.17h2.0v2.97h-2.0zM154.5 125.08h2.0v2.97h-2.0zM156.5 52.17h2.0v2.97h-2.0zM156.5 60.92h2.0v2.97h-2.0zM156.5 90.08h2.0v2.97h-2.0zM156.5 95.92h2.0v2.97h-2.0zM156.5 104.67h2.0v2.97h-2.0zM156.5 113.42h2.0v2.97h-2.0zM156.5 116.33h2.0v2.97h-2.0zM156.5 122.17h2.0v2.97h-2.0zM158.5 43.42h2.0v2.97h-2.0zM158.5 55.08h2.0v2.97h-2.0zM158.5 60.92h2.0v2.97h-2.0zM158.5 78.42h2.0v2.97h-2.0zM158.5 93.00h2.0v2.97h-2.0zM158.5 95.92h2.0v2.97h-2.0zM158.5 101.75h2.0v2.97h-2.0zM158.5 122.17h2.0v2.97h-2.0zM158.5 128.00h2.0v2.97h-2.0zM160.5 40.50h2.0v2.97h-2.0zM160.5 60.92h2.0v2.97h-2.0zM160.5 72.58h2.0v2.97h-2.0zM160.5 75.50h2.0v2.97h-2.0zM160.5 78.42h2.0v2.97h-2.0zM160.5 93.00h2.0v2.97h-2.0zM160.5 95.92h2.0v2.97h-2.0zM160.5 101.75h2.0v2.97h-2.0zM160.5 110.50h2.0v2.97h-2.0zM160.5 113.42h2.0v2.97h-2.0zM164.5 40.50h2.0v2.97h-2.0zM164.5 58.00h2.0v2.97h-2.0zM164.5 60.92h2.0v2.97h-2.0zM164.5 63.83h2.0v2.97h-2.0zM164.5 72.58h2.0v2.97h-2.0zM164.5 90.08h2.0v2.97h-2.0zM164.5 113.42h2.0v2.97h-2.0zM164.5 122.17h2.0v2.97h-2.0zM164.5 130.92h2.0v2.97h-2.0zM164.5 136.75h2.0v2.97h-2.0zM168.5 46.33h2.0v2.97h-2.0zM174.5 40.50h2.0v2.97h-2.0zM174.5 49.25h2.0v2.97h-2.0zM174.5 55.08h2.0v2.97h-2.0zM174.5 58.00h2.0v2.97h-2.0zM174.5 93.00h2.0v2.97h-2.0zM174.5 116.33h2.0v2.97h-2.0zM174.5 125.08h2.0v2.97h-2.0zM174.5 130.92h2.0v2.97h-2.0zM178.5 43.42h2.0v2.97h-2.0zM178.5 58.00h2.0v2.97h-2.0zM178.5 69.67h2.0v2.97h-2.0zM178.5 93.00h2.0v2.97h-2.0zM178.5 104.67h2.0v2.97h-2.0zM178.5 107.58h2.0v2.97h-2.0zM178.5 116.33h2.0v2.97h-2.0zM178.5 133.83h2.0v2.97h-2.0zM178.5 142.58h2.0v2.97h-2.0zM180.5 43.42h2.0v2.97h-2.0zM180.5 49.25h2.0v2.97h-2.0zM180.5 72.58h2.0v2.97h-2.0zM180.5 93.00h2.0v2.97h-2.0zM180.5 95.92h2.0v2.97h-2.0zM180.5 122.17h2.0v2.97h-2.0zM180.5 125.08h2.0v2.97h-2.0zM180.5 142.58h2.0v2.97h-2.0zM188.5 40.50h2.0v2.97h-2.0zM188.5 49.25h2.0v2.97h-2.0zM188.5 95.92h2.0v2.97h-2.0zM188.5 116.33h2.0v2.97h-2.0zM188.5 128.00h2.0v2.97h-2.0zM188.5 136.75h2.0v2.97h-2.0zM200.5 46.33h2.0v2.97h-2.0zM200.5 55.08h2.0v2.97h-2.0zM200.5 63.83h2.0v2.97h-2.0zM200.5 72.58h2.0v2.97h-2.0zM200.5 78.42h2.0v2.97h-2.0zM200.5 104.67h2.0v2.97h-2.0zM200.5 110.50h2.0v2.97h-2.0zM200.5 125.08h2.0v2.97h-2.0zM200.5 139.67h2.0v2.97h-2.0zM220.5 75.50h2.0v2.97h-2.0zM220.5 113.42h2.0v2.97h-2.0zM224.5 90.08h2.0v2.97h-2.0zM224.5 93.00h2.0v2.97h-2.0zM226.5 43.42h2.0v2.97h-2.0zM226.5 66.75h2.0v2.97h-2.0zM226.5 75.50h2.0v2.97h-2.0zM226.5 84.25h2.0v2.97h-2.0zM226.5 125.08h2.0v2.97h-2.0zM228.5 66.75h2.0v2.97h-2.0zM228.5 95.92h2.0v2.97h-2.0zM234.5 43.42h2.0v2.97h-2.0zM238.5 75.50h2.0v2.97h-2.0zM238.5 93.00h2.0v2.97h-2.0zM238.5 116.33h2.0v2.97h-2.0zM238.5 136.75h2.0v2.97h-2.0z"/>
<path fill="#3c0c0c" d="M28.5 58.00h2.0v2.97h-2.0zM28.5 93.00h2.0v2.97h-2.0zM28.5 98.83h2.0v2.97h-2.0zM28.5 104.67h2.0v2.97h-2.0zM28.5 128.00h2.0v2.97h-2.0zM30.5 40.50h2.0v2.97h-2.0zM30.5 75.50h2.0v2.97h-2.0zM30.5 81.33h2.0v2.97h-2.0zM30.5 116.33h2.0v2.97h-2.0zM30.5 125.08h2.0v2.97h-2.0zM30.5 130.92h2.0v2.97h-2.0zM30.5 133.83h2.0v2.97h-2.0zM30.5 142.58h2.0v2.97h-2.0zM32.5 87.17h2.0v2.97h-2.0zM32.5 122.17h2.0v2.97h-2.0zM32.5 125.08h2.0v2.97h-2.0zM32.5 128.00h2.0v2.97h-2.0zM32.5 133.83h2.0v2.97h-2.0zM34.5 101.75h2.0v2.97h-2.0zM34.5 116.33h2.0v2.97h-2.0zM34.5 125.08h2.0v2.97h-2.0zM36.5 43.42h2.0v2.97h-2.0zM36.5 63.83h2.0v2.97h-2.0zM36.5 78.42h2.0v2.97h-2.0zM36.5 122.17h2.0v2.97h-2.0zM36.5 136.75h2.0v2.97h-2.0zM36.5 142.58h2.0v2.97h-2.0zM38.5 46.33h2.0v2.97h-2.0zM38.5 63.83h2.0v2.97h-2.0zM38.5 116.33h2.0v2.97h-2.0zM40.5 128.00h2.0v2.97h-2.0zM40.5 133.83h2.0v2.97h-2.0zM40.5 142.58h2.0v2.97h-2.0zM42.5 46.33h2.0v2.97h-2.0zM42.5 60.92h2.0v2.97h-2.0zM42.5 107.58h2.0v2.97h-2.0zM42.5 113.42h2.0v2.97h-2.0zM42.5 136.75h2.0v2.97h-2.0zM42.5 142.58h2.0v2.97h-2.0zM44.5 90.08h2.0v2.97h-2.0zM44.5 98.83h2.0v2.97h-2.0zM44.5 113.42h2.0v2.97h-2.0zM44.5 116.33h2.0v2.97h-2.0zM44.5 125.08h2.0v2.97h-2.0zM44.5 136.75h2.0v2.97h-2.0zM44.5 139.67h2.0v2.97h-2.0zM44.5 142.58h2.0v2.97h-2.0zM46.5 40.50h2.0v2.97h-2.0zM46.5 46.33h2.0v2.97h-2.0zM46.5 49.25h2.0v2.97h-2.0zM46.5 69.67h2.0v2.97h-2.0zM46.5 72.58h2.0v2.97h-2.0zM46.5 75.50h2.0v2.97h-2.0zM46.5 78.42h2.0v2.97h-2.0zM46.5 93.00h2.0v2.97h-2.0zM46.5 95.92h2.0v2.97h-2.0zM46.5 128.00h2.0v2.97h-2.0zM46.5 133.83h2.0v2.97h-2.0zM48.5 93.00h2.0v2.97h-2.0zM48.5 98.83h2.0v2.97h-2.0zM48.5 101.75h2.0v2.97h-2.0zM48.5 110.50h2.0v2.97h-2.0zM48.5 113.42h2.0v2.97h-2.0zM48.5 125.08h2.0v2.97h-2.0zM48.5 139.67h2.0v2.97h-2.0zM50.5 93.00h2.0v2.97h-2.0zM50.5 98.83h2.0v2.97h-2.0zM50.5 104.67h2.0v2.97h-2.0zM50.5 136.75h2.0v2.97h-2.0zM52.5 63.83h2.0v2.97h-2.0zM52.5 75.50h2.0v2.97h-2.0zM52.5 90.08h2.0v2.97h-2.0zM52.5 104.67h2.0v2.97h-2.0zM52.5 128.00h2.0v2.97h-2.0zM54.5 52.17h2.0v2.97h-2.0zM54.5 63.83h2.0v2.97h-2.0zM54.5 93.00h2.0v2.97h-2.0zM54.5 95.92h2.0v2.97h-2.0zM54.5 101.75h2.0v2.97h-2.0zM54.5 119.25h2.0v2.97h-2.0zM54.5 122.17h2.0v2.97h-2.0zM54.5 125.08h2.0v2.97h-2.0zM56.5 60.92h2.0v2.97h-2.0zM56.5 69.67h2.0v2.97h-2.0zM56.5 87.17h2.0v2.97h-2.0zM56.5 107.58h2.0v2.97h-2.0zM56.5 113.42h2.0v2.97h-2.0zM58.5 58.00h2.0v2.97h-2.0zM58.5 63.83h2.0v2.97h-2.0zM58.5 98.83h2.0v2.97h-2.0zM58.5 116.33h2.0v2.97h-2.0zM58.5 125.08h2.0v2.97h-2.0zM60.5 52.17h2.0v2.97h-2.0zM60.5 90.08h2.0v2.97h-2.0zM60.5 125.08h2.0v2.97h-2.0zM60.5 128.00h2.0v2.97h-2.0zM60.5 130.92h2.0v2.97h-2.0zM60.5 142.58h2.0v2.97h-2.0zM62.5 52.17h2.0v2.97h-2.0zM62.5 69.67h2.0v2.97h-2.0zM62.5 78.42h2.0v2.97h-2.0zM62.5 107.58h2.0v2.97h-2.0zM62.5 119.25h2.0v2.97h-2.0zM62.5 128.00h2.0v2.97h-2.0zM62.5 136.75h2.0v2.97h-2.0zM64.5 43.42h2.0v2.97h-2.0zM64.5 72.58h2.0v2.97h-2.0zM66.5 46.33h2.0v2.97h-2.0zM66.5 60.92h2.0v2.97h-2.0zM66.5 63.83h2.0v2.97h-2.0zM66.5 69.67h2.0v2.97h-2.0zM66.5 87.17h2.0v2.97h-2.0zM66.5 104.67h2.0v2.97h-2.0zM66.5 116.33h2.0v2.97h-2.0zM66.5 125.08h2.0v2.97h-2.0zM68.5 43.42h2.0v2.97h-2.0zM68.5 60.92h2.0v2.97h-2.0zM68.5 69.67h2.0v2.97h-2.0zM68.5 95.92h2.0v2.97h-2.0zM68.5 98.83h2.0v2.97h-2.0zM68.5 107.58h2.0v2.97h-2.0zM68.5 119.25h2.0v2.97h-2.0zM68.5 125.08h2.0v2.97h-2.0zM70.5 125.08h2.0v2.97h-2.0zM72.5 49.25h2.0v2.97h-2.0zM72.5 69.67h2.0v2.97h-2.0zM72.5 78.42h2.0v2.97h-2.0zM72.5 98.83h2.0v2.97h-2.0zM72.5 125.08h2.0v2.97h-2.0zM74.5 40.50h2.0v2.97h-2.0zM74.5 87.17h2.0v2.97h-2.0zM74.5 90.08h2.0v2.97h-2.0zM74.5 122.17h2.0v2.97h-2.0zM74.5 128.00h2.0v2.97h-2.0zM74.5 130.92h2.0v2.97h-2.0zM76.5 49.25h2.0v2.97h-2.0zM76.5 60.92h2.0v2.97h-2.0zM76.5 66.75h2.0v2.97h-2.0zM76.5 78.42h2.0v2.97h-2.0zM76.5 93.00h2.0v2.97h-2.0zM76.5 107.58h2.0v2.97h-2.0zM76.5 130.92h2.0v2.97h-2.0zM76.5 136.75h2.0v2.97h-2.0zM76.5 142.58h2.0v2.97h-2.0zM78.5 81.33h2.0v2.97h-2.0zM78.5 113.42h2.0v2.97h-2.0zM78.5 142.58h2.0v2.97h-2.0zM80.5 98.83h2.0v2.97h-2.0zM80.5 101.75h2.0v2.97h-2.0zM80.5 113.42h2.0v2.97h-2.0zM80.5 122.17h2.0v2.97h-2.0zM80.5 130.92h2.0v2.97h-2.0zM82.5 55.08h2.0v2.97h-2.0zM82.5 69.67h2.0v2.97h-2.0zM82.5 128.00h2.0v2.97h-2.0zM84.5 78.42h2.0v2.97h-2.0zM84.5 87.17h2.0v2.97h-2.0zM84.5 95.92h2.0v2.97h-2.0zM84.5 107.58h2.0v2.97h-2.0zM84.5 113.42h2.0v2.97h-2.0zM84.5 119.25h2.0v2.97h-2.0zM84.5 142.58h2.0v2.97h-2.0zM86.5 63.83h2.0v2.97h-2.0zM86.5 66.75h2.0v2.97h-2.0zM86.5 69.67h2.0v2.97h-2.0zM86.5 78.42h2.0v2.97h-2.0zM88.5 55.08h2.0v2.97h-2.0zM88.5 72.58h2.0v2.97h-2.0zM88.5 93.00h2.0v2.97h-2.0zM88.5 125.08h2.0v2.97h-2.0zM88.5 128.00h2.0v2.97h-2.0zM88.5 136.75h2.0v2.97h-2.0zM90.5 43.42h2.0v2.97h-2.0zM90.5 66.75h2.0v2.97h-2.0zM90.5 72.58h2.0v2.97h-2.0zM90.5 87.17h2.0v2.97h-2.0zM90.5 125.08h2.0v2.97h-2.0zM90.5 128.00h2.0v2.97h-2.0zM90.5 130.92h2.0v2.97h-2.0zM92.5 40.50h2.0v2.97h-2.0zM92.5 43.42h2.0v2.97h-2.0zM92.5 52.17h2.0v2.97h-2.0zM92.5 75.50h2.0v2.97h-2.0zM92.5 136.75h2.0v2.97h-2.0zM98.5 101.75h2.0v2.97h-2.0zM98.5 128.00h2.0v2.97h-2.0zM98.5 133.83h2.0v2.97h-2.0zM100.5 49.25h2.0v2.97h-2.0zM100.5 66.75h2.0v2.97h-2.0zM100.5 69.67h2.0v2.97h-2.0zM100.5 98.83h2.0v2.97h-2.0zM102.5 49.25h2.0v2.97h-2.0zM102.5 55.08h2.0v2.97h-2.0zM102.5 72.58h2.0v2.97h-2.0zM102.5 107.58h2.0v2.97h-2.0zM102.5 113.42h2.0v2.97h-2.0zM102.5 122.17h2.0v2.97h-2.0zM102.5 139.67h2.0v2.97h-2.0zM102.5 142.58h2.0v2.97h-2.0zM104.5 55.08h2.0v2.97h-2.0zM104.5 104.67h2.0v2.97h-2.0zM104.5 110.50h2.0v2.97h-2.0zM104.5 125.08h2.0v2.97h-2.0zM104.5 130.92h2.0v2.97h-2.0zM106.5 43.42h2.0v2.97h-2.0zM106.5 49.25h2.0v2.97h-2.0zM106.5 52.17h2.0v2.97h-2.0zM106.5 75.50h2.0v2.97h-2.0zM106.5 78.42h2.0v2.97h-2.0zM106.5 90.08h2.0v2.97h-2.0zM106.5 93.00h2.0v2.97h-2.0zM106.5 98.83h2.0v2.97h-2.0zM106.5 104.67h2.0v2.97h-2.0zM106.5 128.00h2.0v2.97h-2.0zM106.5 139.67h2.0v2.97h-2.0zM108.5 55.08h2.0v2.97h-2.0zM108.5 69.67h2.0v2.97h-2.0zM108.5 75.50h2.0v2.97h-2.0zM108.5 90.08h2.0v2.97h-2.0zM108.5 119.25h2.0v2.97h-2.0zM108.5 139.67h2.0v2.97h-2.0zM110.5 78.42h2.0v2.97h-2.0zM112.5 63.83h2.0v2.97h-2.0zM112.5 72.58h2.0v2.97h-2.0zM112.5 81.33h2.0v2.97h-2.0zM112.5 98.83h2.0v2.97h-2.0zM112.5 119.25h2.0v2.97h-2.0zM112.5 139.67h2.0v2.97h-2.0zM114.5 40.50h2.0v2.97h-2.0zM114.5 43.42h2.0v2.97h-2.0zM114.5 46.33h2.0v2.97h-2.0zM114.5 60.92h2.0v2.97h-2.0zM114.5 66.75h2.0v2.97h-2.0zM114.5 78.42h2.0v2.97h-2.0zM114.5 90.08h2.0v2.97h-2.0zM114.5 110.50h2.0v2.97h-2.0zM114.5 125.08h2.0v2.97h-2.0zM114.5 136.75h2.0v2.97h-2.0zM114.5 142.58h2.0v2.97h-2.0zM118.5 40.50h2.0v2.97h-2.0zM118.5 55.08h2.0v2.97h-2.0zM118.5 66.75h2.0v2.97h-2.0zM118.5 81.33h2.0v2.97h-2.0zM118.5 98.83h2.0v2.97h-2.0zM118.5 101.75h2.0v2.97h-2.0zM118.5 104.67h2.0v2.97h-2.0zM118.5 110.50h2.0v2.97h-2.0zM118.5 113.42h2.0v2.97h-2.0zM118.5 128.00h2.0v2.97h-2.0zM118.5 133.83h2.0v2.97h-2.0zM118.5 142.58h2.0v2.97h-2.0zM120.5 78.42h2.0v2.97h-2.0zM120.5 84.25h2.0v2.97h-2.0zM120.5 87.17h2.0v2.97h-2.0zM120.5 90.08h2.0v2.97h-2.0zM120.5 101.75h2.0v2.97h-2.0zM120.5 104.67h2.0v2.97h-2.0zM120.5 116.33h2.0v2.97h-2.0zM120.5 142.58h2.0v2.97h-2.0zM122.5 81.33h2.0v2.97h-2.0zM124.5 40.50h2.0v2.97h-2.0zM124.5 52.17h2.0v2.97h-2.0zM124.5 66.75h2.0v2.97h-2.0zM124.5 95.92h2.0v2.97h-2.0zM124.5 98.83h2.0v2.97h-2.0zM124.5 110.50h2.0v2.97h-2.0zM124.5 116.33h2.0v2.97h-2.0zM128.5 40.50h2.0v2.97h-2.0zM128.5 58.00h2.0v2.97h-2.0zM128.5 66.75h2.0v2.97h-2.0zM128.5 93.00h2.0v2.97h-2.0zM128.5 101.75h2.0v2.97h-2.0zM128.5 125.08h2.0v2.97h-2.0zM134.5 52.17h2.0v2.97h-2.0zM134.5 81.33h2.0v2.97h-2.0zM134.5 95.92h2.0v2.97h-2.0zM134.5 107.58h2.0v2.97h-2.0zM134.5 125.08h2.0v2.97h-2.0zM134.5 128.00h2.0v2.97h-2.0zM134.5 133.83h2.0v2.97h-2.0zM134.5 136.75h2.0v2.97h-2.0zM134.5 139.67h2.0v2.97h-2.0zM138.5 139.67h2.0v2.97h-2.0z"/>
<path fill="#440c0c" d="M28.5 60.92h2.0v2.97h-2.0zM28.5 81.33h2.0v2.97h-2.0zM28.5 113.42h2.0v2.97h-2.0zM28.5 125.08h2.0v2.97h-2.0zM28.5 130.92h2.0v2.97h-2.0zM30.5 84.25h2.0v2.97h-2.0zM30.5 87.17h2.0v2.97h-2.0zM30.5 107.58h2.0v2.97h-2.0zM30.5 110.50h2.0v2.97h-2.0zM30.5 119.25h2.0v2.97h-2.0zM30.5 128.00h2.0v2.97h-2.0zM32.5 58.00h2.0v2.97h-2.0zM32.5 90.08h2.0v2.97h-2.0zM32.5 104.67h2.0v2.97h-2.0zM32.5 110.50h2.0v2.97h-2.0zM32.5 136.75h2.0v2.97h-2.0zM34.5 128.00h2.0v2.97h-2.0zM36.5 52.17h2.0v2.97h-2.0zM36.5 90.08h2.0v2.97h-2.0zM36.5 125.08h2.0v2.97h-2.0zM36.5 139.67h2.0v2.97h-2.0zM38.5 75.50h2.0v2.97h-2.0zM38.5 90.08h2.0v2.97h-2.0zM38.5 119.25h2.0v2.97h-2.0zM38.5 128.00h2.0v2.97h-2.0zM38.5 139.67h2.0v2.97h-2.0zM42.5 55.08h2.0v2.97h-2.0zM42.5 58.00h2.0v2.97h-2.0zM42.5 78.42h2.0v2.97h-2.0zM42.5 95.92h2.0v2.97h-2.0zM42.5 125.08h2.0v2.97h-2.0zM46.5 43.42h2.0v2.97h-2.0zM46.5 66.75h2.0v2.97h-2.0zM46.5 87.17h2.0v2.97h-2.0zM46.5 90.08h2.0v2.97h-2.0zM46.5 98.83h2.0v2.97h-2.0zM46.5 104.67h2.0v2.97h-2.0zM46.5 116.33h2.0v2.97h-2.0zM46.5 136.75h2.0v2.97h-2.0zM46.5 142.58h2.0v2.97h-2.0zM50.5 116.33h2.0v2.97h-2.0zM50.5 142.58h2.0v2.97h-2.0zM52.5 55.08h2.0v2.97h-2.0zM52.5 58.00h2.0v2.97h-2.0zM52.5 60.92h2.0v2.97h-2.0zM52.5 66.75h2.0v2.97h-2.0zM52.5 81.33h2.0v2.97h-2.0zM52.5 87.17h2.0v2.97h-2.0zM52.5 113.42h2.0v2.97h-2.0zM52.5 122.17h2.0v2.97h-2.0zM54.5 40.50h2.0v2.97h-2.0zM54.5 75.50h2.0v2.97h-2.0zM54.5 84.25h2.0v2.97h-2.0zM54.5 87.17h2.0v2.97h-2.0zM54.5 90.08h2.0v2.97h-2.0zM54.5 128.00h2.0v2.97h-2.0zM54.5 130.92h2.0v2.97h-2.0zM58.5 75.50h2.0v2.97h-2.0zM58.5 101.75h2.0v2.97h-2.0zM58.5 122.17h2.0v2.97h-2.0zM58.5 133.83h2.0v2.97h-2.0zM58.5 139.67h2.0v2.97h-2.0zM60.5 43.42h2.0v2.97h-2.0zM60.5 63.83h2.0v2.97h-2.0zM62.5 60.92h2.0v2.97h-2.0zM62.5 66.75h2.0v2.97h-2.0zM62.5 87.17h2.0v2.97h-2.0zM62.5 116.33h2.0v2.97h-2.0zM62.5 133.83h2.0v2.97h-2.0zM64.5 84.25h2.0v2.97h-2.0zM64.5 93.00h2.0v2.97h-2.0zM64.5 125.08h2.0v2.97h-2.0zM66.5 66.75h2.0v2.97h-2.0zM66.5 75.50h2.0v2.97h-2.0zM66.5 101.75h2.0v2.97h-2.0zM66.5 122.17h2.0v2.97h-2.0zM66.5 136.75h2.0v2.97h-2.0zM68.5 66.75h2.0v2.97h-2.0zM68.5 90.08h2.0v2.97h-2.0zM68.5 113.42h2.0v2.97h-2.0zM68.5 122.17h2.0v2.97h-2.0zM68.5 139.67h2.0v2.97h-2.0zM72.5 40.50h2.0v2.97h-2.0zM72.5 113.42h2.0v2.97h-2.0zM72.5 119.25h2.0v2.97h-2.0zM80.5 84.25h2.0v2.97h-2.0zM80.5 128.00h2.0v2.97h-2.0zM80.5 136.75h2.0v2.97h-2.0zM82.5 66.75h2.0v2.97h-2.0zM82.5 72.58h2.0v2.97h-2.0zM82.5 107.58h2.0v2.97h-2.0zM82.5 113.42h2.0v2.97h-2.0zM86.5 49.25h2.0v2.97h-2.0zM86.5 72.58h2.0v2.97h-2.0zM86.5 84.25h2.0v2.97h-2.0zM86.5 87.17h2.0v2.97h-2.0zM86.5 122.17h2.0v2.97h-2.0zM86.5 128.00h2.0v2.97h-2.0zM86.5 139.67h2.0v2.97h-2.0zM88.5 69.67h2.0v2.97h-2.0zM88.5 84.25h2.0v2.97h-2.0zM88.5 90.08h2.0v2.97h-2.0zM90.5 93.00h2.0v2.97h-2.0zM90.5 104.67h2.0v2.97h-2.0zM90.5 113.42h2.0v2.97h-2.0zM90.5 142.58h2.0v2.97h-2.0zM92.5 63.83h2.0v2.97h-2.0zM92.5 78.42h2.0v2.97h-2.0zM92.5 107.58h2.0v2.97h-2.0zM92.5 125.08h2.0v2.97h-2.0zM92.5 128.00h2.0v2.97h-2.0zM100.5 78.42h2.0v2.97h-2.0zM100.5 84.25h2.0v2.97h-2.0zM100.5 90.08h2.0v2.97h-2.0zM100.5 95.92h2.0v2.97h-2.0zM100.5 110.50h2.0v2.97h-2.0zM102.5 125.08h2.0v2.97h-2.0zM102.5 133.83h2.0v2.97h-2.0zM106.5 69.67h2.0v2.97h-2.0zM106.5 81.33h2.0v2.97h-2.0zM106.5 110.50h2.0v2.97h-2.0zM106.5 122.17h2.0v2.97h-2.0zM106.5 133.83h2.0v2.97h-2.0zM106.5 136.75h2.0v2.97h-2.0zM108.5 93.00h2.0v2.97h-2.0zM108.5 125.08h2.0v2.97h-2.0zM108.5 130.92h2.0v2.97h-2.0zM112.5 43.42h2.0v2.97h-2.0zM112.5 46.33h2.0v2.97h-2.0zM112.5 49.25h2.0v2.97h-2.0zM112.5 66.75h2.0v2.97h-2.0zM112.5 78.42h2.0v2.97h-2.0zM112.5 95.92h2.0v2.97h-2.0zM112.5 104.67h2.0v2.97h-2.0zM114.5 49.25h2.0v2.97h-2.0zM114.5 69.67h2.0v2.97h-2.0zM114.5 93.00h2.0v2.97h-2.0zM114.5 101.75h2.0v2.97h-2.0zM114.5 104.67h2.0v2.97h-2.0zM114.5 113.42h2.0v2.97h-2.0zM114.5 116.33h2.0v2.97h-2.0zM118.5 84.25h2.0v2.97h-2.0zM118.5 119.25h2.0v2.97h-2.0zM118.5 130.92h2.0v2.97h-2.0zM122.5 52.17h2.0v2.97h-2.0zM122.5 122.17h2.0v2.97h-2.0zM122.5 133.83h2.0v2.97h-2.0zM124.5 122.17h2.0v2.97h-2.0zM124.5 128.00h2.0v2.97h-2.0zM124.5 130.92h2.0v2.97h-2.0zM124.5 139.67h2.0v2.97h-2.0zM128.5 104.67h2.0v2.97h-2.0zM128.5 133.83h2.0v2.97h-2.0z"/>
<path fill="#4c0c0c" d="M28.5 90.08h2.0v2.97h-2.0zM28.5 107.58h2.0v2.97h-2.0zM28.5 110.50h2.0v2.97h-2.0zM28.5 139.67h2.0v2.97h-2.0zM32.5 43.42h2.0v2.97h-2.0zM32.5 72.58h2.0v2.97h-2.0zM32.5 84.25h2.0v2.97h-2.0zM32.5 101.75h2.0v2.97h-2.0zM32.5 130.92h2.0v2.97h-2.0zM36.5 49.25h2.0v2.97h-2.0zM36.5 55.08h2.0v2.97h-2.0zM36.5 58.00h2.0v2.97h-2.0zM36.5 66.75h2.0v2.97h-2.0zM36.5 69.67h2.0v2.97h-2.0zM36.5 93.00h2.0v2.97h-2.0zM36.5 101.75h2.0v2.97h-2.0zM36.5 104.67h2.0v2.97h-2.0zM38.5 72.58h2.0v2.97h-2.0zM38.5 78.42h2.0v2.97h-2.0zM38.5 101.75h2.0v2.97h-2.0zM38.5 104.67h2.0v2.97h-2.0zM38.5 113.42h2.0v2.97h-2.0zM38.5 142.58h2.0v2.97h-2.0zM42.5 49.25h2.0v2.97h-2.0zM42.5 90.08h2.0v2.97h-2.0zM42.5 93.00h2.0v2.97h-2.0zM46.5 122.17h2.0v2.97h-2.0zM46.5 139.67h2.0v2.97h-2.0zM52.5 69.67h2.0v2.97h-2.0zM52.5 98.83h2.0v2.97h-2.0zM52.5 142.58h2.0v2.97h-2.0zM54.5 110.50h2.0v2.97h-2.0zM60.5 98.83h2.0v2.97h-2.0zM60.5 116.33h2.0v2.97h-2.0zM60.5 122.17h2.0v2.97h-2.0zM64.5 40.50h2.0v2.97h-2.0zM64.5 46.33h2.0v2.97h-2.0zM64.5 58.00h2.0v2.97h-2.0zM64.5 60.92h2.0v2.97h-2.0zM64.5 75.50h2.0v2.97h-2.0zM64.5 81.33h2.0v2.97h-2.0zM64.5 87.17h2.0v2.97h-2.0zM64.5 90.08h2.0v2.97h-2.0zM64.5 104.67h2.0v2.97h-2.0zM64.5 113.42h2.0v2.97h-2.0zM66.5 113.42h2.0v2.97h-2.0zM66.5 128.00h2.0v2.97h-2.0zM66.5 139.67h2.0v2.97h-2.0zM66.5 142.58h2.0v2.97h-2.0zM68.5 55.08h2.0v2.97h-2.0zM68.5 81.33h2.0v2.97h-2.0zM68.5 84.25h2.0v2.97h-2.0zM72.5 84.25h2.0v2.97h-2.0zM72.5 116.33h2.0v2.97h-2.0zM72.5 136.75h2.0v2.97h-2.0zM82.5 49.25h2.0v2.97h-2.0zM82.5 75.50h2.0v2.97h-2.0zM82.5 95.92h2.0v2.97h-2.0zM82.5 104.67h2.0v2.97h-2.0zM82.5 133.83h2.0v2.97h-2.0zM82.5 139.67h2.0v2.97h-2.0zM86.5 90.08h2.0v2.97h-2.0zM86.5 95.92h2.0v2.97h-2.0zM86.5 98.83h2.0v2.97h-2.0zM86.5 101.75h2.0v2.97h-2.0zM86.5 116.33h2.0v2.97h-2.0zM86.5 119.25h2.0v2.97h-2.0zM86.5 125.08h2.0v2.97h-2.0zM88.5 63.83h2.0v2.97h-2.0zM88.5 98.83h2.0v2.97h-2.0zM88.5 104.67h2.0v2.97h-2.0zM88.5 116.33h2.0v2.97h-2.0zM88.5 130.92h2.0v2.97h-2.0zM88.5 142.58h2.0v2.97h-2.0zM92.5 104.67h2.0v2.97h-2.0zM92.5 113.42h2.0v2.97h-2.0zM92.5 122.17h2.0v2.97h-2.0zM100.5 75.50h2.0v2.97h-2.0zM100.5 87.17h2.0v2.97h-2.0zM100.5 125.08h2.0v2.97h-2.0zM100.5 136.75h2.0v2.97h-2.0zM100.5 142.58h2.0v2.97h-2.0zM106.5 125.08h2.0v2.97h-2.0zM112.5 90.08h2.0v2.97h-2.0zM112.5 122.17h2.0v2.97h-2.0zM112.5 130.92h2.0v2.97h-2.0zM112.5 133.83h2.0v2.97h-2.0z"/>
<path fill="#2c0c04" d="M28.5 122.17h2.0v2.97h-2.0zM32.5 95.92h2.0v2.97h-2.0zM34.5 69.67h2.0v2.97h-2.0zM38.5 110.50h2.0v2.97h-2.0zM42.5 72.58h2.0v2.97h-2.0z"/>
<path fill="#54140c" d="M28.5 142.58h2.0v2.97h-2.0zM36.5 95.92h2.0v2.97h-2.0zM36.5 110.50h2.0v2.97h-2.0zM36.5 130.92h2.0v2.97h-2.0zM46.5 125.08h2.0v2.97h-2.0zM52.5 116.33h2.0v2.97h-2.0z"/>
<path fill="#1c0404" d="M30.5 60.92h2.0v2.97h-2.0zM30.5 63.83h2.0v2.97h-2.0zM34.5 66.75h2.0v2.97h-2.0zM34.5 75.50h2.0v2.97h-2.0zM38.5 49.25h2.0v2.97h-2.0zM38.5 58.00h2.0v2.97h-2.0zM40.5 40.50h2.0v2.97h-2.0zM40.5 46.33h2.0v2.97h-2.0zM40.5 66.75h2.0v2.97h-2.0zM40.5 75.50h2.0v2.97h-2.0zM40.5 78.42h2.0v2.97h-2.0zM40.5 81.33h2.0v2.97h-2.0zM40.5 107.58h2.0v2.97h-2.0zM40.5 113.42h2.0v2.97h-2.0zM44.5 46.33h2.0v2.97h-2.0zM44.5 58.00h2.0v2.97h-2.0zM44.5 63.83h2.0v2.97h-2.0zM44.5 66.75h2.0v2.97h-2.0zM44.5 101.75h2.0v2.97h-2.0zM44.5 110.50h2.0v2.97h-2.0zM48.5 43.42h2.0v2.97h-2.0zM48.5 46.33h2.0v2.97h-2.0zM48.5 60.92h2.0v2.97h-2.0zM48.5 63.83h2.0v2.97h-2.0zM48.5 90.08h2.0v2.97h-2.0zM48.5 104.67h2.0v2.97h-2.0zM50.5 60.92h2.0v2.97h-2.0zM50.5 63.83h2.0v2.97h-2.0zM50.5 75.50h2.0v2.97h-2.0zM50.5 87.17h2.0v2.97h-2.0zM50.5 95.92h2.0v2.97h-2.0zM50.5 130.92h2.0v2.97h-2.0zM56.5 40.50h2.0v2.97h-2.0zM56.5 55.08h2.0v2.97h-2.0zM56.5 75.50h2.0v2.97h-2.0zM56.5 78.42h2.0v2.97h-2.0zM56.5 104.67h2.0v2.97h-2.0zM56.5 136.75h2.0v2.97h-2.0zM58.5 49.25h2.0v2.97h-2.0zM58.5 84.25h2.0v2.97h-2.0zM58.5 107.58h2.0v2.97h-2.0zM70.5 43.42h2.0v2.97h-2.0zM70.5 46.33h2.0v2.97h-2.0zM70.5 55.08h2.0v2.97h-2.0zM70.5 84.25h2.0v2.97h-2.0zM70.5 90.08h2.0v2.97h-2.0zM70.5 93.00h2.0v2.97h-2.0zM70.5 113.42h2.0v2.97h-2.0zM70.5 116.33h2.0v2.97h-2.0zM70.5 128.00h2.0v2.97h-2.0zM70.5 139.67h2.0v2.97h-2.0zM74.5 43.42h2.0v2.97h-2.0zM74.5 75.50h2.0v2.97h-2.0zM76.5 43.42h2.0v2.97h-2.0zM76.5 58.00h2.0v2.97h-2.0zM76.5 72.58h2.0v2.97h-2.0zM76.5 81.33h2.0v2.97h-2.0zM76.5 90.08h2.0v2.97h-2.0zM76.5 101.75h2.0v2.97h-2.0zM76.5 122.17h2.0v2.97h-2.0zM78.5 40.50h2.0v2.97h-2.0zM78.5 63.83h2.0v2.97h-2.0zM78.5 95.92h2.0v2.97h-2.0zM78.5 101.75h2.0v2.97h-2.0zM78.5 125.08h2.0v2.97h-2.0zM78.5 128.00h2.0v2.97h-2.0zM80.5 40.50h2.0v2.97h-2.0zM80.5 49.25h2.0v2.97h-2.0zM80.5 52.17h2.0v2.97h-2.0zM80.5 58.00h2.0v2.97h-2.0zM80.5 110.50h2.0v2.97h-2.0zM84.5 60.92h2.0v2.97h-2.0zM84.5 66.75h2.0v2.97h-2.0zM84.5 139.67h2.0v2.97h-2.0zM90.5 58.00h2.0v2.97h-2.0zM90.5 63.83h2.0v2.97h-2.0zM90.5 95.92h2.0v2.97h-2.0zM94.5 63.83h2.0v2.97h-2.0zM94.5 90.08h2.0v2.97h-2.0zM94.5 122.17h2.0v2.97h-2.0zM96.5 52.17h2.0v2.97h-2.0zM96.5 75.50h2.0v2.97h-2.0zM96.5 87.17h2.0v2.97h-2.0zM96.5 116.33h2.0v2.97h-2.0zM96.5 128.00h2.0v2.97h-2.0zM96.5 136.75h2.0v2.97h-2.0zM98.5 40.50h2.0v2.97h-2.0zM98.5 58.00h2.0v2.97h-2.0zM98.5 69.67h2.0v2.97h-2.0zM98.5 78.42h2.0v2.97h-2.0zM98.5 81.33h2.0v2.97h-2.0zM98.5 125.08h2.0v2.97h-2.0zM100.5 46.33h2.0v2.97h-2.0zM102.5 90.08h2.0v2.97h-2.0zM102.5 110.50h2.0v2.97h-2.0zM104.5 40.50h2.0v2.97h-2.0zM104.5 66.75h2.0v2.97h-2.0zM106.5 46.33h2.0v2.97h-2.0zM106.5 58.00h2.0v2.97h-2.0zM106.5 63.83h2.0v2.97h-2.0zM108.5 58.00h2.0v2.97h-2.0zM108.5 63.83h2.0v2.97h-2.0zM108.5 66.75h2.0v2.97h-2.0zM108.5 81.33h2.0v2.97h-2.0zM108.5 113.42h2.0v2.97h-2.0zM108.5 116.33h2.0v2.97h-2.0zM108.5 136.75h2.0v2.97h-2.0zM110.5 43.42h2.0v2.97h-2.0zM110.5 46.33h2.0v2.97h-2.0zM110.5 60.92h2.0v2.97h-2.0zM110.5 84.25h2.0v2.97h-2.0zM110.5 87.17h2.0v2.97h-2.0zM110.5 95.92h2.0v2.97h-2.0zM110.5 104.67h2.0v2.97h-2.0zM110.5 113.42h2.0v2.97h-2.0zM110.5 128.00h2.0v2.97h-2.0zM116.5 46.33h2.0v2.97h-2.0zM116.5 58.00h2.0v2.97h-2.0zM116.5 66.75h2.0v2.97h-2.0zM116.5 95.92h2.0v2.97h-2.0zM116.5 119.25h2.0v2.97h-2.0zM116.5 122.17h2.0v2.97h-2.0zM116.5 125.08h2.0v2.97h-2.0zM116.5 128.00h2.0v2.97h-2.0zM116.5 130.92h2.0v2.97h-2.0zM118.5 43.42h2.0v2.97h-2.0zM118.5 52.17h2.0v2.97h-2.0zM118.5 90.08h2.0v2.97h-2.0zM118.5 107.58h2.0v2.97h-2.0zM118.5 122.17h2.0v2.97h-2.0zM120.5 40.50h2.0v2.97h-2.0zM120.5 49.25h2.0v2.97h-2.0zM120.5 55.08h2.0v2.97h-2.0zM120.5 60.92h2.0v2.97h-2.0zM120.5 66.75h2.0v2.97h-2.0zM120.5 75.50h2.0v2.97h-2.0zM120.5 98.83h2.0v2.97h-2.0zM120.5 130.92h2.0v2.97h-2.0zM124.5 136.75h2.0v2.97h-2.0zM126.5 43.42h2.0v2.97h-2.0zM126.5 46.33h2.0v2.97h-2.0zM126.5 52.17h2.0v2.97h-2.0zM126.5 55.08h2.0v2.97h-2.0zM126.5 58.00h2.0v2.97h-2.0zM126.5 75.50h2.0v2.97h-2.0zM126.5 87.17h2.0v2.97h-2.0zM126.5 98.83h2.0v2.97h-2.0zM126.5 119.25h2.0v2.97h-2.0zM126.5 125.08h2.0v2.97h-2.0zM126.5 128.00h2.0v2.97h-2.0zM126.5 130.92h2.0v2.97h-2.0zM126.5 133.83h2.0v2.97h-2.0zM126.5 139.67h2.0v2.97h-2.0zM126.5 142.58h2.0v2.97h-2.0zM128.5 46.33h2.0v2.97h-2.0zM130.5 40.50h2.0v2.97h-2.0zM130.5 60.92h2.0v2.97h-2.0zM130.5 69.67h2.0v2.97h-2.0zM130.5 72.58h2.0v2.97h-2.0zM130.5 78.42h2.0v2.97h-2.0zM130.5 87.17h2.0v2.97h-2.0zM130.5 125.08h2.0v2.97h-2.0zM130.5 130.92h2.0v2.97h-2.0zM130.5 142.58h2.0v2.97h-2.0zM132.5 49.25h2.0v2.97h-2.0zM132.5 58.00h2.0v2.97h-2.0zM132.5 69.67h2.0v2.97h-2.0zM132.5 78.42h2.0v2.97h-2.0zM132.5 81.33h2.0v2.97h-2.0zM132.5 84.25h2.0v2.97h-2.0zM132.5 95.92h2.0v2.97h-2.0zM132.5 98.83h2.0v2.97h-2.0zM132.5 116.33h2.0v2.97h-2.0zM132.5 139.67h2.0v2.97h-2.0zM134.5 46.33h2.0v2.97h-2.0zM134.5 78.42h2.0v2.97h-2.0zM134.5 87.17h2.0v2.97h-2.0zM136.5 72.58h2.0v2.97h-2.0zM136.5 84.25h2.0v2.97h-2.0zM136.5 87.17h2.0v2.97h-2.0zM136.5 90.08h2.0v2.97h-2.0zM136.5 95.92h2.0v2.97h-2.0zM136.5 98.83h2.0v2.97h-2.0zM136.5 104.67h2.0v2.97h-2.0zM136.5 107.58h2.0v2.97h-2.0zM136.5 119.25h2.0v2.97h-2.0zM136.5 122.17h2.0v2.97h-2.0zM136.5 125.08h2.0v2.97h-2.0zM136.5 142.58h2.0v2.97h-2.0zM138.5 49.25h2.0v2.97h-2.0zM138.5 60.92h2.0v2.97h-2.0zM138.5 110.50h2.0v2.97h-2.0zM140.5 49.25h2.0v2.97h-2.0zM140.5 84.25h2.0v2.97h-2.0zM140.5 104.67h2.0v2.97h-2.0zM140.5 122.17h2.0v2.97h-2.0zM140.5 130.92h2.0v2.97h-2.0zM156.5 72.58h2.0v2.97h-2.0zM156.5 107.58h2.0v2.97h-2.0zM156.5 133.83h2.0v2.97h-2.0zM158.5 90.08h2.0v2.97h-2.0zM158.5 125.08h2.0v2.97h-2.0zM158.5 139.67h2.0v2.97h-2.0zM158.5 142.58h2.0v2.97h-2.0zM164.5 43.42h2.0v2.97h-2.0zM164.5 49.25h2.0v2.97h-2.0zM164.5 101.75h2.0v2.97h-2.0zM164.5 110.50h2.0v2.97h-2.0zM168.5 52.17h2.0v2.97h-2.0zM168.5 101.75h2.0v2.97h-2.0zM168.5 119.25h2.0v2.97h-2.0zM168.5 130.92h2.0v2.97h-2.0zM168.5 139.67h2.0v2.97h-2.0zM178.5 46.33h2.0v2.97h-2.0zM178.5 78.42h2.0v2.97h-2.0zM178.5 90.08h2.0v2.97h-2.0zM178.5 98.83h2.0v2.97h-2.0zM178.5 101.75h2.0v2.97h-2.0zM178.5 110.50h2.0v2.97h-2.0zM180.5 40.50h2.0v2.97h-2.0zM180.5 46.33h2.0v2.97h-2.0zM180.5 58.00h2.0v2.97h-2.0zM184.5 52.17h2.0v2.97h-2.0zM184.5 87.17h2.0v2.97h-2.0zM184.5 95.92h2.0v2.97h-2.0zM184.5 128.00h2.0v2.97h-2.0zM184.5 133.83h2.0v2.97h-2.0zM188.5 52.17h2.0v2.97h-2.0zM188.5 87.17h2.0v2.97h-2.0zM188.5 93.00h2.0v2.97h-2.0zM188.5 110.50h2.0v2.97h-2.0zM188.5 130.92h2.0v2.97h-2.0zM200.5 40.50h2.0v2.97h-2.0zM200.5 43.42h2.0v2.97h-2.0zM200.5 69.67h2.0v2.97h-2.0zM200.5 133.83h2.0v2.97h-2.0z"/>
<path fill="#541414" d="M32.5 46.33h2.0v2.97h-2.0zM32.5 55.08h2.0v2.97h-2.0zM32.5 69.67h2.0v2.97h-2.0zM54.5 46.33h2.0v2.97h-2.0zM54.5 81.33h2.0v2.97h-2.0zM60.5 66.75h2.0v2.97h-2.0zM60.5 78.42h2.0v2.97h-2.0zM60.5 93.00h2.0v2.97h-2.0zM60.5 95.92h2.0v2.97h-2.0zM60.5 104.67h2.0v2.97h-2.0zM62.5 55.08h2.0v2.97h-2.0zM62.5 58.00h2.0v2.97h-2.0zM62.5 125.08h2.0v2.97h-2.0zM64.5 133.83h2.0v2.97h-2.0zM68.5 72.58h2.0v2.97h-2.0zM68.5 104.67h2.0v2.97h-2.0zM68.5 116.33h2.0v2.97h-2.0zM72.5 43.42h2.0v2.97h-2.0zM72.5 55.08h2.0v2.97h-2.0zM72.5 63.83h2.0v2.97h-2.0zM72.5 87.17h2.0v2.97h-2.0zM72.5 93.00h2.0v2.97h-2.0zM72.5 128.00h2.0v2.97h-2.0zM72.5 139.67h2.0v2.97h-2.0zM82.5 58.00h2.0v2.97h-2.0zM82.5 90.08h2.0v2.97h-2.0zM82.5 101.75h2.0v2.97h-2.0zM82.5 110.50h2.0v2.97h-2.0zM82.5 130.92h2.0v2.97h-2.0zM82.5 136.75h2.0v2.97h-2.0zM88.5 119.25h2.0v2.97h-2.0z"/>
<path fill="#540c0c" d="M32.5 78.42h2.0v2.97h-2.0zM38.5 136.75h2.0v2.97h-2.0zM54.5 113.42h2.0v2.97h-2.0zM68.5 101.75h2.0v2.97h-2.0zM68.5 130.92h2.0v2.97h-2.0zM68.5 142.58h2.0v2.97h-2.0z"/>
<path fill="#5c1414" d="M32.5 81.33h2.0v2.97h-2.0zM32.5 98.83h2.0v2.97h-2.0zM32.5 107.58h2.0v2.97h-2.0zM32.5 113.42h2.0v2.97h-2.0zM32.5 116.33h2.0v2.97h-2.0zM32.5 142.58h2.0v2.97h-2.0zM36.5 113.42h2.0v2.97h-2.0zM36.5 119.25h2.0v2.97h-2.0zM36.5 128.00h2.0v2.97h-2.0zM42.5 119.25h2.0v2.97h-2.0zM42.5 122.17h2.0v2.97h-2.0zM42.5 130.92h2.0v2.97h-2.0zM54.5 49.25h2.0v2.97h-2.0zM54.5 78.42h2.0v2.97h-2.0zM54.5 136.75h2.0v2.97h-2.0zM60.5 101.75h2.0v2.97h-2.0zM60.5 113.42h2.0v2.97h-2.0zM62.5 40.50h2.0v2.97h-2.0zM62.5 46.33h2.0v2.97h-2.0zM62.5 72.58h2.0v2.97h-2.0zM62.5 81.33h2.0v2.97h-2.0zM62.5 90.08h2.0v2.97h-2.0zM62.5 93.00h2.0v2.97h-2.0zM62.5 110.50h2.0v2.97h-2.0zM62.5 130.92h2.0v2.97h-2.0zM62.5 142.58h2.0v2.97h-2.0zM64.5 130.92h2.0v2.97h-2.0zM64.5 136.75h2.0v2.97h-2.0zM68.5 52.17h2.0v2.97h-2.0zM68.5 58.00h2.0v2.97h-2.0zM68.5 63.83h2.0v2.97h-2.0zM68.5 75.50h2.0v2.97h-2.0zM68.5 128.00h2.0v2.97h-2.0zM72.5 66.75h2.0v2.97h-2.0zM72.5 75.50h2.0v2.97h-2.0zM72.5 81.33h2.0v2.97h-2.0zM72.5 101.75h2.0v2.97h-2.0zM72.5 104.67h2.0v2.97h-2.0zM72.5 130.92h2.0v2.97h-2.0z"/>
<path fill="#140404" d="M44.5 52.17h2.0v2.97h-2.0zM94.5 43.42h2.0v2.97h-2.0zM96.5 69.67h2.0v2.97h-2.0zM116.5 49.25h2.0v2.97h-2.0zM116.5 78.42h2.0v2.97h-2.0zM116.5 81.33h2.0v2.97h-2.0zM126.5 63.83h2.0v2.97h-2.0zM130.5 58.00h2.0v2.97h-2.0zM130.5 84.25h2.0v2.97h-2.0zM130.5 93.00h2.0v2.97h-2.0zM130.5 95.92h2.0v2.97h-2.0zM130.5 119.25h2.0v2.97h-2.0zM136.5 49.25h2.0v2.97h-2.0zM136.5 55.08h2.0v2.97h-2.0zM136.5 128.00h2.0v2.97h-2.0zM136.5 136.75h2.0v2.97h-2.0zM138.5 58.00h2.0v2.97h-2.0zM140.5 46.33h2.0v2.97h-2.0zM140.5 60.92h2.0v2.97h-2.0zM140.5 81.33h2.0v2.97h-2.0zM140.5 93.00h2.0v2.97h-2.0zM140.5 95.92h2.0v2.97h-2.0zM140.5 113.42h2.0v2.97h-2.0zM140.5 128.00h2.0v2.97h-2.0zM140.5 142.58h2.0v2.97h-2.0zM168.5 49.25h2.0v2.97h-2.0zM168.5 55.08h2.0v2.97h-2.0zM168.5 66.75h2.0v2.97h-2.0zM168.5 69.67h2.0v2.97h-2.0zM168.5 84.25h2.0v2.97h-2.0zM168.5 98.83h2.0v2.97h-2.0zM168.5 104.67h2.0v2.97h-2.0zM168.5 113.42h2.0v2.97h-2.0zM168.5 116.33h2.0v2.97h-2.0zM168.5 133.83h2.0v2.97h-2.0zM168.5 142.58h2.0v2.97h-2.0zM178.5 49.25h2.0v2.97h-2.0zM178.5 72.58h2.0v2.97h-2.0zM178.5 75.50h2.0v2.97h-2.0zM178.5 81.33h2.0v2.97h-2.0zM178.5 113.42h2.0v2.97h-2.0zM184.5 43.42h2.0v2.97h-2.0zM184.5 46.33h2.0v2.97h-2.0zM184.5 58.00h2.0v2.97h-2.0zM184.5 63.83h2.0v2.97h-2.0zM184.5 69.67h2.0v2.97h-2.0zM184.5 75.50h2.0v2.97h-2.0zM184.5 84.25h2.0v2.97h-2.0zM184.5 98.83h2.0v2.97h-2.0zM184.5 110.50h2.0v2.97h-2.0zM184.5 113.42h2.0v2.97h-2.0zM184.5 116.33h2.0v2.97h-2.0zM184.5 119.25h2.0v2.97h-2.0zM184.5 122.17h2.0v2.97h-2.0zM184.5 136.75h2.0v2.97h-2.0zM188.5 113.42h2.0v2.97h-2.0zM188.5 133.83h2.0v2.97h-2.0zM200.5 75.50h2.0v2.97h-2.0zM200.5 119.25h2.0v2.97h-2.0zM226.5 40.50h2.0v2.97h-2.0zM226.5 81.33h2.0v2.97h-2.0zM226.5 87.17h2.0v2.97h-2.0zM228.5 116.33h2.0v2.97h-2.0z"/>
<path fill="#641414" d="M54.5 104.67h2.0v2.97h-2.0zM54.5 116.33h2.0v2.97h-2.0zM54.5 133.83h2.0v2.97h-2.0zM54.5 139.67h2.0v2.97h-2.0zM62.5 104.67h2.0v2.97h-2.0zM62.5 113.42h2.0v2.97h-2.0z"/>
<path fill="#4c1414" d="M60.5 49.25h2.0v2.97h-2.0zM72.5 52.17h2.0v2.97h-2.0zM82.5 93.00h2.0v2.97h-2.0zM100.5 107.58h2.0v2.97h-2.0zM100.5 133.83h2.0v2.97h-2.0zM112.5 60.92h2.0v2.97h-2.0zM112.5 75.50h2.0v2.97h-2.0zM112.5 101.75h2.0v2.97h-2.0zM112.5 125.08h2.0v2.97h-2.0zM112.5 136.75h2.0v2.97h-2.0zM122.5 72.58h2.0v2.97h-2.0zM122.5 101.75h2.0v2.97h-2.0zM122.5 104.67h2.0v2.97h-2.0zM122.5 107.58h2.0v2.97h-2.0zM122.5 116.33h2.0v2.97h-2.0zM122.5 128.00h2.0v2.97h-2.0zM128.5 113.42h2.0v2.97h-2.0zM128.5 122.17h2.0v2.97h-2.0zM128.5 130.92h2.0v2.97h-2.0z"/>
<path fill="#6c1414" d="M62.5 122.17h2.0v2.97h-2.0z"/>
<path fill="#240c0c" d="M80.5 55.08h2.0v2.97h-2.0zM82.5 46.33h2.0v2.97h-2.0zM88.5 101.75h2.0v2.97h-2.0zM92.5 69.67h2.0v2.97h-2.0zM92.5 95.92h2.0v2.97h-2.0zM94.5 58.00h2.0v2.97h-2.0zM94.5 66.75h2.0v2.97h-2.0zM94.5 81.33h2.0v2.97h-2.0zM96.5 40.50h2.0v2.97h-2.0zM96.5 55.08h2.0v2.97h-2.0zM96.5 93.00h2.0v2.97h-2.0zM96.5 107.58h2.0v2.97h-2.0zM98.5 130.92h2.0v2.97h-2.0zM100.5 43.42h2.0v2.97h-2.0zM104.5 81.33h2.0v2.97h-2.0zM104.5 136.75h2.0v2.97h-2.0zM104.5 139.67h2.0v2.97h-2.0zM108.5 40.50h2.0v2.97h-2.0zM108.5 46.33h2.0v2.97h-2.0zM108.5 142.58h2.0v2.97h-2.0zM110.5 69.67h2.0v2.97h-2.0zM110.5 116.33h2.0v2.97h-2.0zM110.5 133.83h2.0v2.97h-2.0zM114.5 63.83h2.0v2.97h-2.0zM114.5 72.58h2.0v2.97h-2.0zM114.5 84.25h2.0v2.97h-2.0zM116.5 43.42h2.0v2.97h-2.0zM116.5 75.50h2.0v2.97h-2.0zM116.5 90.08h2.0v2.97h-2.0zM116.5 101.75h2.0v2.97h-2.0zM116.5 139.67h2.0v2.97h-2.0zM118.5 58.00h2.0v2.97h-2.0zM118.5 87.17h2.0v2.97h-2.0zM118.5 93.00h2.0v2.97h-2.0zM120.5 43.42h2.0v2.97h-2.0zM120.5 46.33h2.0v2.97h-2.0zM120.5 58.00h2.0v2.97h-2.0zM120.5 128.00h2.0v2.97h-2.0zM122.5 46.33h2.0v2.97h-2.0zM122.5 58.00h2.0v2.97h-2.0zM122.5 69.67h2.0v2.97h-2.0zM122.5 110.50h2.0v2.97h-2.0zM122.5 119.25h2.0v2.97h-2.0zM124.5 46.33h2.0v2.97h-2.0zM124.5 55.08h2.0v2.97h-2.0zM124.5 60.92h2.0v2.97h-2.0zM124.5 63.83h2.0v2.97h-2.0zM124.5 72.58h2.0v2.97h-2.0zM124.5 90.08h2.0v2.97h-2.0zM124.5 104.67h2.0v2.97h-2.0zM126.5 60.92h2.0v2.97h-2.0zM126.5 66.75h2.0v2.97h-2.0zM126.5 69.67h2.0v2.97h-2.0zM126.5 72.58h2.0v2.97h-2.0zM126.5 107.58h2.0v2.97h-2.0zM126.5 110.50h2.0v2.97h-2.0zM126.5 113.42h2.0v2.97h-2.0zM128.5 43.42h2.0v2.97h-2.0zM128.5 60.92h2.0v2.97h-2.0zM128.5 69.67h2.0v2.97h-2.0zM128.5 72.58h2.0v2.97h-2.0zM128.5 84.25h2.0v2.97h-2.0zM128.5 90.08h2.0v2.97h-2.0zM128.5 98.83h2.0v2.97h-2.0zM130.5 46.33h2.0v2.97h-2.0zM130.5 52.17h2.0v2.97h-2.0zM130.5 55.08h2.0v2.97h-2.0zM130.5 75.50h2.0v2.97h-2.0zM130.5 101.75h2.0v2.97h-2.0zM130.5 107.58h2.0v2.97h-2.0zM130.5 122.17h2.0v2.97h-2.0zM130.5 128.00h2.0v2.97h-2.0zM130.5 139.67h2.0v2.97h-2.0zM132.5 40.50h2.0v2.97h-2.0zM132.5 43.42h2.0v2.97h-2.0zM132.5 66.75h2.0v2.97h-2.0zM132.5 72.58h2.0v2.97h-2.0zM132.5 75.50h2.0v2.97h-2.0zM132.5 90.08h2.0v2.97h-2.0zM132.5 122.17h2.0v2.97h-2.0zM132.5 130.92h2.0v2.97h-2.0zM132.5 133.83h2.0v2.97h-2.0zM134.5 49.25h2.0v2.97h-2.0zM134.5 55.08h2.0v2.97h-2.0zM134.5 63.83h2.0v2.97h-2.0zM134.5 69.67h2.0v2.97h-2.0zM134.5 75.50h2.0v2.97h-2.0zM134.5 101.75h2.0v2.97h-2.0zM134.5 110.50h2.0v2.97h-2.0zM136.5 40.50h2.0v2.97h-2.0zM136.5 43.42h2.0v2.97h-2.0zM136.5 52.17h2.0v2.97h-2.0zM136.5 58.00h2.0v2.97h-2.0zM136.5 60.92h2.0v2.97h-2.0zM136.5 69.67h2.0v2.97h-2.0zM136.5 75.50h2.0v2.97h-2.0zM136.5 81.33h2.0v2.97h-2.0zM136.5 93.00h2.0v2.97h-2.0zM136.5 101.75h2.0v2.97h-2.0zM136.5 110.50h2.0v2.97h-2.0zM136.5 130.92h2.0v2.97h-2.0zM136.5 133.83h2.0v2.97h-2.0zM138.5 52.17h2.0v2.97h-2.0zM138.5 63.83h2.0v2.97h-2.0zM138.5 66.75h2.0v2.97h-2.0zM138.5 75.50h2.0v2.97h-2.0zM138.5 81.33h2.0v2.97h-2.0zM138.5 84.25h2.0v2.97h-2.0zM138.5 90.08h2.0v2.97h-2.0zM138.5 93.00h2.0v2.97h-2.0zM138.5 98.83h2.0v2.97h-2.0zM138.5 113.42h2.0v2.97h-2.0zM138.5 116.33h2.0v2.97h-2.0zM138.5 133.83h2.0v2.97h-2.0zM138.5 142.58h2.0v2.97h-2.0zM140.5 43.42h2.0v2.97h-2.0zM140.5 55.08h2.0v2.97h-2.0zM140.5 63.83h2.0v2.97h-2.0zM140.5 66.75h2.0v2.97h-2.0zM140.5 69.67h2.0v2.97h-2.0zM140.5 75.50h2.0v2.97h-2.0zM140.5 110.50h2.0v2.97h-2.0zM140.5 119.25h2.0v2.97h-2.0zM140.5 125.08h2.0v2.97h-2.0zM140.5 133.83h2.0v2.97h-2.0zM140.5 139.67h2.0v2.97h-2.0zM148.5 43.42h2.0v2.97h-2.0zM148.5 72.58h2.0v2.97h-2.0zM148.5 75.50h2.0v2.97h-2.0zM148.5 87.17h2.0v2.97h-2.0zM148.5 107.58h2.0v2.97h-2.0zM148.5 110.50h2.0v2.97h-2.0zM148.5 133.83h2.0v2.97h-2.0zM154.5 49.25h2.0v2.97h-2.0zM154.5 55.08h2.0v2.97h-2.0zM154.5 58.00h2.0v2.97h-2.0zM154.5 60.92h2.0v2.97h-2.0zM154.5 63.83h2.0v2.97h-2.0zM154.5 75.50h2.0v2.97h-2.0zM154.5 78.42h2.0v2.97h-2.0zM154.5 90.08h2.0v2.97h-2.0zM154.5 93.00h2.0v2.97h-2.0zM154.5 104.67h2.0v2.97h-2.0zM154.5 136.75h2.0v2.97h-2.0zM154.5 139.67h2.0v2.97h-2.0zM154.5 142.58h2.0v2.97h-2.0zM156.5 43.42h2.0v2.97h-2.0zM156.5 58.00h2.0v2.97h-2.0zM156.5 63.83h2.0v2.97h-2.0zM156.5 98.83h2.0v2.97h-2.0zM156.5 125.08h2.0v2.97h-2.0zM156.5 128.00h2.0v2.97h-2.0zM156.5 142.58h2.0v2.97h-2.0zM158.5 63.83h2.0v2.97h-2.0zM158.5 72.58h2.0v2.97h-2.0zM158.5 75.50h2.0v2.97h-2.0zM158.5 81.33h2.0v2.97h-2.0zM158.5 110.50h2.0v2.97h-2.0zM158.5 113.42h2.0v2.97h-2.0zM158.5 119.25h2.0v2.97h-2.0zM158.5 133.83h2.0v2.97h-2.0zM160.5 43.42h2.0v2.97h-2.0zM160.5 63.83h2.0v2.97h-2.0zM160.5 90.08h2.0v2.97h-2.0zM160.5 104.67h2.0v2.97h-2.0zM160.5 107.58h2.0v2.97h-2.0zM164.5 46.33h2.0v2.97h-2.0zM164.5 52.17h2.0v2.97h-2.0zM164.5 81.33h2.0v2.97h-2.0zM164.5 107.58h2.0v2.97h-2.0zM164.5 119.25h2.0v2.97h-2.0zM164.5 125.08h2.0v2.97h-2.0zM168.5 40.50h2.0v2.97h-2.0zM168.5 43.42h2.0v2.97h-2.0zM168.5 60.92h2.0v2.97h-2.0zM168.5 63.83h2.0v2.97h-2.0zM168.5 72.58h2.0v2.97h-2.0zM168.5 75.50h2.0v2.97h-2.0zM168.5 87.17h2.0v2.97h-2.0zM168.5 93.00h2.0v2.97h-2.0zM168.5 95.92h2.0v2.97h-2.0zM168.5 107.58h2.0v2.97h-2.0zM174.5 43.42h2.0v2.97h-2.0zM174.5 46.33h2.0v2.97h-2.0zM174.5 60.92h2.0v2.97h-2.0zM174.5 72.58h2.0v2.97h-2.0zM174.5 84.25h2.0v2.97h-2.0zM174.5 95.92h2.0v2.97h-2.0zM174.5 98.83h2.0v2.97h-2.0zM174.5 113.42h2.0v2.97h-2.0zM174.5 133.83h2.0v2.97h-2.0zM174.5 139.67h2.0v2.97h-2.0zM178.5 40.50h2.0v2.97h-2.0zM178.5 52.17h2.0v2.97h-2.0zM178.5 55.08h2.0v2.97h-2.0zM178.5 84.25h2.0v2.97h-2.0zM178.5 87.17h2.0v2.97h-2.0zM178.5 125.08h2.0v2.97h-2.0zM178.5 128.00h2.0v2.97h-2.0zM178.5 136.75h2.0v2.97h-2.0zM180.5 52.17h2.0v2.97h-2.0zM180.5 60.92h2.0v2.97h-2.0zM180.5 63.83h2.0v2.97h-2.0zM180.5 84.25h2.0v2.97h-2.0zM180.5 107.58h2.0v2.97h-2.0zM180.5 130.92h2.0v2.97h-2.0zM180.5 133.83h2.0v2.97h-2.0zM184.5 49.25h2.0v2.97h-2.0zM184.5 55.08h2.0v2.97h-2.0zM184.5 72.58h2.0v2.97h-2.0zM184.5 78.42h2.0v2.97h-2.0zM184.5 93.00h2.0v2.97h-2.0zM184.5 101.75h2.0v2.97h-2.0zM184.5 104.67h2.0v2.97h-2.0zM184.5 107.58h2.0v2.97h-2.0zM184.5 139.67h2.0v2.97h-2.0zM184.5 142.58h2.0v2.97h-2.0zM188.5 43.42h2.0v2.97h-2.0zM188.5 46.33h2.0v2.97h-2.0zM188.5 55.08h2.0v2.97h-2.0zM188.5 58.00h2.0v2.97h-2.0zM188.5 63.83h2.0v2.97h-2.0zM188.5 69.67h2.0v2.97h-2.0zM188.5 72.58h2.0v2.97h-2.0zM188.5 75.50h2.0v2.97h-2.0zM188.5 81.33h2.0v2.97h-2.0zM188.5 84.25h2.0v2.97h-2.0zM188.5 90.08h2.0v2.97h-2.0zM188.5 101.75h2.0v2.97h-2.0zM188.5 104.67h2.0v2.97h-2.0zM188.5 119.25h2.0v2.97h-2.0zM188.5 122.17h2.0v2.97h-2.0zM188.5 125.08h2.0v2.97h-2.0zM188.5 142.58h2.0v2.97h-2.0zM200.5 52.17h2.0v2.97h-2.0zM200.5 87.17h2.0v2.97h-2.0zM200.5 93.00h2.0v2.97h-2.0zM200.5 101.75h2.0v2.97h-2.0zM200.5 116.33h2.0v2.97h-2.0zM200.5 122.17h2.0v2.97h-2.0zM200.5 130.92h2.0v2.97h-2.0zM200.5 136.75h2.0v2.97h-2.0zM200.5 142.58h2.0v2.97h-2.0zM220.5 52.17h2.0v2.97h-2.0zM220.5 63.83h2.0v2.97h-2.0zM220.5 72.58h2.0v2.97h-2.0zM220.5 87.17h2.0v2.97h-2.0zM220.5 93.00h2.0v2.97h-2.0zM220.5 116.33h2.0v2.97h-2.0zM220.5 130.92h2.0v2.97h-2.0zM220.5 139.67h2.0v2.97h-2.0zM224.5 63.83h2.0v2.97h-2.0zM224.5 78.42h2.0v2.97h-2.0zM224.5 95.92h2.0v2.97h-2.0zM224.5 113.42h2.0v2.97h-2.0zM224.5 122.17h2.0v2.97h-2.0zM224.5 128.00h2.0v2.97h-2.0zM224.5 133.83h2.0v2.97h-2.0zM226.5 52.17h2.0v2.97h-2.0zM226.5 60.92h2.0v2.97h-2.0zM226.5 78.42h2.0v2.97h-2.0zM226.5 90.08h2.0v2.97h-2.0zM226.5 98.83h2.0v2.97h-2.0zM226.5 101.75h2.0v2.97h-2.0zM226.5 104.67h2.0v2.97h-2.0zM226.5 110.50h2.0v2.97h-2.0zM226.5 113.42h2.0v2.97h-2.0zM226.5 139.67h2.0v2.97h-2.0zM228.5 40.50h2.0v2.97h-2.0zM228.5 43.42h2.0v2.97h-2.0zM228.5 46.33h2.0v2.97h-2.0zM228.5 49.25h2.0v2.97h-2.0zM228.5 69.67h2.0v2.97h-2.0zM228.5 72.58h2.0v2.97h-2.0zM228.5 78.42h2.0v2.97h-2.0zM228.5 87.17h2.0v2.97h-2.0zM228.5 90.08h2.0v2.97h-2.0zM228.5 104.67h2.0v2.97h-2.0zM228.5 107.58h2.0v2.97h-2.0zM228.5 122.17h2.0v2.97h-2.0zM228.5 125.08h2.0v2.97h-2.0zM228.5 136.75h2.0v2.97h-2.0zM234.5 58.00h2.0v2.97h-2.0zM234.5 63.83h2.0v2.97h-2.0zM234.5 66.75h2.0v2.97h-2.0zM234.5 98.83h2.0v2.97h-2.0zM234.5 104.67h2.0v2.97h-2.0zM234.5 119.25h2.0v2.97h-2.0zM238.5 46.33h2.0v2.97h-2.0zM238.5 58.00h2.0v2.97h-2.0zM238.5 78.42h2.0v2.97h-2.0zM238.5 81.33h2.0v2.97h-2.0zM238.5 84.25h2.0v2.97h-2.0zM238.5 87.17h2.0v2.97h-2.0zM238.5 90.08h2.0v2.97h-2.0zM238.5 122.17h2.0v2.97h-2.0zM238.5 133.83h2.0v2.97h-2.0zM242.5 40.50h2.0v2.97h-2.0zM242.5 58.00h2.0v2.97h-2.0zM242.5 66.75h2.0v2.97h-2.0zM242.5 78.42h2.0v2.97h-2.0zM242.5 95.92h2.0v2.97h-2.0zM242.5 107.58h2.0v2.97h-2.0zM242.5 128.00h2.0v2.97h-2.0zM242.5 139.67h2.0v2.97h-2.0z"/>
<path fill="#441414" d="M122.5 66.75h2.0v2.97h-2.0zM122.5 78.42h2.0v2.97h-2.0zM128.5 63.83h2.0v2.97h-2.0zM128.5 95.92h2.0v2.97h-2.0zM128.5 110.50h2.0v2.97h-2.0zM148.5 122.17h2.0v2.97h-2.0zM148.5 128.00h2.0v2.97h-2.0zM160.5 116.33h2.0v2.97h-2.0zM160.5 125.08h2.0v2.97h-2.0zM160.5 128.00h2.0v2.97h-2.0zM174.5 66.75h2.0v2.97h-2.0zM174.5 78.42h2.0v2.97h-2.0zM174.5 87.17h2.0v2.97h-2.0zM174.5 90.08h2.0v2.97h-2.0zM174.5 104.67h2.0v2.97h-2.0zM174.5 110.50h2.0v2.97h-2.0z"/>
<path fill="#240c04" d="M130.5 133.83h2.0v2.97h-2.0zM132.5 87.17h2.0v2.97h-2.0zM132.5 93.00h2.0v2.97h-2.0zM134.5 98.83h2.0v2.97h-2.0zM136.5 116.33h2.0v2.97h-2.0z"/>
<path fill="#1c0c0c" d="M132.5 52.17h2.0v2.97h-2.0zM220.5 43.42h2.0v2.97h-2.0zM220.5 84.25h2.0v2.97h-2.0zM220.5 95.92h2.0v2.97h-2.0zM220.5 101.75h2.0v2.97h-2.0zM220.5 122.17h2.0v2.97h-2.0zM220.5 125.08h2.0v2.97h-2.0zM226.5 93.00h2.0v2.97h-2.0zM226.5 107.58h2.0v2.97h-2.0zM228.5 58.00h2.0v2.97h-2.0zM234.5 139.67h2.0v2.97h-2.0zM242.5 55.08h2.0v2.97h-2.0zM242.5 93.00h2.0v2.97h-2.0zM242.5 104.67h2.0v2.97h-2.0z"/>
<path fill="#3c1414" d="M134.5 66.75h2.0v2.97h-2.0zM224.5 66.75h2.0v2.97h-2.0zM224.5 69.67h2.0v2.97h-2.0zM224.5 110.50h2.0v2.97h-2.0z"/>
<path fill="#44140c" d="M134.5 104.67h2.0v2.97h-2.0z"/>
<path fill="#1c0c04" d="M136.5 63.83h2.0v2.97h-2.0zM140.5 40.50h2.0v2.97h-2.0zM140.5 58.00h2.0v2.97h-2.0zM140.5 78.42h2.0v2.97h-2.0zM140.5 87.17h2.0v2.97h-2.0zM140.5 90.08h2.0v2.97h-2.0zM140.5 98.83h2.0v2.97h-2.0zM140.5 101.75h2.0v2.97h-2.0zM140.5 116.33h2.0v2.97h-2.0zM140.5 136.75h2.0v2.97h-2.0zM148.5 101.75h2.0v2.97h-2.0zM148.5 139.67h2.0v2.97h-2.0zM154.5 52.17h2.0v2.97h-2.0zM154.5 66.75h2.0v2.97h-2.0zM154.5 98.83h2.0v2.97h-2.0zM154.5 116.33h2.0v2.97h-2.0zM154.5 133.83h2.0v2.97h-2.0zM156.5 40.50h2.0v2.97h-2.0zM156.5 46.33h2.0v2.97h-2.0zM156.5 55.08h2.0v2.97h-2.0zM156.5 66.75h2.0v2.97h-2.0zM156.5 69.67h2.0v2.97h-2.0zM156.5 81.33h2.0v2.97h-2.0zM156.5 93.00h2.0v2.97h-2.0zM156.5 101.75h2.0v2.97h-2.0zM156.5 130.92h2.0v2.97h-2.0zM158.5 40.50h2.0v2.97h-2.0zM158.5 52.17h2.0v2.97h-2.0zM158.5 66.75h2.0v2.97h-2.0zM158.5 87.17h2.0v2.97h-2.0zM158.5 116.33h2.0v2.97h-2.0zM158.5 130.92h2.0v2.97h-2.0zM160.5 49.25h2.0v2.97h-2.0zM160.5 136.75h2.0v2.97h-2.0zM164.5 66.75h2.0v2.97h-2.0zM164.5 75.50h2.0v2.97h-2.0zM164.5 84.25h2.0v2.97h-2.0zM164.5 95.92h2.0v2.97h-2.0zM164.5 104.67h2.0v2.97h-2.0zM164.5 116.33h2.0v2.97h-2.0zM168.5 58.00h2.0v2.97h-2.0zM168.5 78.42h2.0v2.97h-2.0zM168.5 81.33h2.0v2.97h-2.0zM168.5 90.08h2.0v2.97h-2.0zM168.5 110.50h2.0v2.97h-2.0zM168.5 122.17h2.0v2.97h-2.0zM168.5 125.08h2.0v2.97h-2.0zM168.5 128.00h2.0v2.97h-2.0zM168.5 136.75h2.0v2.97h-2.0zM178.5 60.92h2.0v2.97h-2.0zM178.5 66.75h2.0v2.97h-2.0zM178.5 95.92h2.0v2.97h-2.0zM178.5 119.25h2.0v2.97h-2.0zM178.5 130.92h2.0v2.97h-2.0zM178.5 139.67h2.0v2.97h-2.0zM180.5 75.50h2.0v2.97h-2.0zM180.5 78.42h2.0v2.97h-2.0zM180.5 81.33h2.0v2.97h-2.0zM180.5 87.17h2.0v2.97h-2.0zM180.5 90.08h2.0v2.97h-2.0zM180.5 98.83h2.0v2.97h-2.0zM180.5 104.67h2.0v2.97h-2.0zM180.5 110.50h2.0v2.97h-2.0zM180.5 119.25h2.0v2.97h-2.0zM180.5 128.00h2.0v2.97h-2.0zM180.5 139.67h2.0v2.97h-2.0zM184.5 40.50h2.0v2.97h-2.0zM184.5 60.92h2.0v2.97h-2.0zM184.5 66.75h2.0v2.97h-2.0zM184.5 81.33h2.0v2.97h-2.0zM184.5 90.08h2.0v2.97h-2.0zM184.5 125.08h2.0v2.97h-2.0zM184.5 130.92h2.0v2.97h-2.0zM188.5 60.92h2.0v2.97h-2.0zM188.5 66.75h2.0v2.97h-2.0zM188.5 78.42h2.0v2.97h-2.0zM188.5 98.83h2.0v2.97h-2.0zM188.5 107.58h2.0v2.97h-2.0zM188.5 139.67h2.0v2.97h-2.0zM200.5 58.00h2.0v2.97h-2.0zM200.5 66.75h2.0v2.97h-2.0zM200.5 81.33h2.0v2.97h-2.0zM200.5 84.25h2.0v2.97h-2.0zM200.5 90.08h2.0v2.97h-2.0zM200.5 95.92h2.0v2.97h-2.0zM200.5 107.58h2.0v2.97h-2.0zM200.5 128.00h2.0v2.97h-2.0zM220.5 46.33h2.0v2.97h-2.0zM220.5 66.75h2.0v2.97h-2.0zM220.5 107.58h2.0v2.97h-2.0zM220.5 128.00h2.0v2.97h-2.0zM226.5 49.25h2.0v2.97h-2.0zM226.5 55.08h2.0v2.97h-2.0zM226.5 58.00h2.0v2.97h-2.0zM226.5 63.83h2.0v2.97h-2.0zM226.5 69.67h2.0v2.97h-2.0zM226.5 116.33h2.0v2.97h-2.0zM226.5 130.92h2.0v2.97h-2.0zM228.5 52.17h2.0v2.97h-2.0zM228.5 55.08h2.0v2.97h-2.0zM228.5 60.92h2.0v2.97h-2.0zM228.5 63.83h2.0v2.97h-2.0zM228.5 75.50h2.0v2.97h-2.0zM228.5 81.33h2.0v2.97h-2.0zM228.5 84.25h2.0v2.97h-2.0zM228.5 113.42h2.0v2.97h-2.0zM228.5 128.00h2.0v2.97h-2.0zM228.5 130.92h2.0v2.97h-2.0zM228.5 133.83h2.0v2.97h-2.0zM228.5 142.58h2.0v2.97h-2.0zM234.5 46.33h2.0v2.97h-2.0zM234.5 55.08h2.0v2.97h-2.0zM234.5 81.33h2.0v2.97h-2.0zM234.5 84.25h2.0v2.97h-2.0zM234.5 93.00h2.0v2.97h-2.0zM234.5 95.92h2.0v2.97h-2.0zM234.5 122.17h2.0v2.97h-2.0zM234.5 125.08h2.0v2.97h-2.0zM234.5 130.92h2.0v2.97h-2.0zM238.5 43.42h2.0v2.97h-2.0zM238.5 49.25h2.0v2.97h-2.0zM238.5 55.08h2.0v2.97h-2.0zM238.5 72.58h2.0v2.97h-2.0zM238.5 128.00h2.0v2.97h-2.0zM238.5 139.67h2.0v2.97h-2.0zM238.5 142.58h2.0v2.97h-2.0zM242.5 52.17h2.0v2.97h-2.0zM242.5 63.83h2.0v2.97h-2.0zM242.5 75.50h2.0v2.97h-2.0zM242.5 98.83h2.0v2.97h-2.0zM242.5 130.92h2.0v2.97h-2.0zM242.5 133.83h2.0v2.97h-2.0zM242.5 136.75h2.0v2.97h-2.0zM242.5 142.58h2.0v2.97h-2.0z"/>
<path fill="#1c140c" d="M142.5 40.50h2.0v2.97h-2.0zM142.5 43.42h2.0v2.97h-2.0zM142.5 49.25h2.0v2.97h-2.0zM142.5 52.17h2.0v2.97h-2.0zM142.5 58.00h2.0v2.97h-2.0zM142.5 81.33h2.0v2.97h-2.0zM142.5 87.17h2.0v2.97h-2.0zM142.5 122.17h2.0v2.97h-2.0zM142.5 139.67h2.0v2.97h-2.0zM144.5 40.50h2.0v2.97h-2.0zM144.5 75.50h2.0v2.97h-2.0zM144.5 98.83h2.0v2.97h-2.0zM144.5 122.17h2.0v2.97h-2.0zM144.5 128.00h2.0v2.97h-2.0zM146.5 58.00h2.0v2.97h-2.0zM146.5 66.75h2.0v2.97h-2.0zM146.5 95.92h2.0v2.97h-2.0zM146.5 122.17h2.0v2.97h-2.0zM146.5 130.92h2.0v2.97h-2.0zM146.5 139.67h2.0v2.97h-2.0zM150.5 58.00h2.0v2.97h-2.0zM150.5 72.58h2.0v2.97h-2.0zM150.5 110.50h2.0v2.97h-2.0zM150.5 133.83h2.0v2.97h-2.0zM152.5 43.42h2.0v2.97h-2.0zM152.5 119.25h2.0v2.97h-2.0zM152.5 142.58h2.0v2.97h-2.0zM162.5 58.00h2.0v2.97h-2.0zM162.5 72.58h2.0v2.97h-2.0zM162.5 81.33h2.0v2.97h-2.0zM162.5 87.17h2.0v2.97h-2.0zM162.5 95.92h2.0v2.97h-2.0zM166.5 75.50h2.0v2.97h-2.0zM166.5 81.33h2.0v2.97h-2.0zM166.5 107.58h2.0v2.97h-2.0zM166.5 125.08h2.0v2.97h-2.0zM166.5 142.58h2.0v2.97h-2.0zM170.5 60.92h2.0v2.97h-2.0zM170.5 66.75h2.0v2.97h-2.0zM170.5 69.67h2.0v2.97h-2.0zM170.5 81.33h2.0v2.97h-2.0zM170.5 125.08h2.0v2.97h-2.0zM170.5 133.83h2.0v2.97h-2.0zM172.5 75.50h2.0v2.97h-2.0zM172.5 95.92h2.0v2.97h-2.0zM172.5 107.58h2.0v2.97h-2.0zM172.5 116.33h2.0v2.97h-2.0zM182.5 40.50h2.0v2.97h-2.0zM182.5 46.33h2.0v2.97h-2.0zM182.5 139.67h2.0v2.97h-2.0zM186.5 46.33h2.0v2.97h-2.0zM186.5 55.08h2.0v2.97h-2.0zM186.5 113.42h2.0v2.97h-2.0zM186.5 122.17h2.0v2.97h-2.0zM186.5 128.00h2.0v2.97h-2.0zM186.5 142.58h2.0v2.97h-2.0zM222.5 60.92h2.0v2.97h-2.0zM222.5 72.58h2.0v2.97h-2.0zM222.5 107.58h2.0v2.97h-2.0zM222.5 122.17h2.0v2.97h-2.0zM230.5 49.25h2.0v2.97h-2.0zM230.5 72.58h2.0v2.97h-2.0zM230.5 75.50h2.0v2.97h-2.0zM230.5 107.58h2.0v2.97h-2.0zM230.5 113.42h2.0v2.97h-2.0zM230.5 116.33h2.0v2.97h-2.0zM232.5 58.00h2.0v2.97h-2.0zM232.5 72.58h2.0v2.97h-2.0zM232.5 87.17h2.0v2.97h-2.0zM236.5 63.83h2.0v2.97h-2.0zM236.5 72.58h2.0v2.97h-2.0zM236.5 75.50h2.0v2.97h-2.0zM236.5 87.17h2.0v2.97h-2.0zM236.5 116.33h2.0v2.97h-2.0zM236.5 130.92h2.0v2.97h-2.0zM244.5 55.08h2.0v2.97h-2.0zM244.5 87.17h2.0v2.97h-2.0zM244.5 93.00h2.0v2.97h-2.0zM244.5 98.83h2.0v2.97h-2.0zM244.5 101.75h2.0v2.97h-2.0zM244.5 116.33h2.0v2.97h-2.0zM246.5 40.50h2.0v2.97h-2.0zM246.5 43.42h2.0v2.97h-2.0zM246.5 66.75h2.0v2.97h-2.0zM246.5 116.33h2.0v2.97h-2.0zM246.5 128.00h2.0v2.97h-2.0zM254.5 55.08h2.0v2.97h-2.0zM254.5 69.67h2.0v2.97h-2.0zM254.5 81.33h2.0v2.97h-2.0zM254.5 125.08h2.0v2.97h-2.0zM254.5 133.83h2.0v2.97h-2.0z"/>
<path fill="#14140c" d="M142.5 46.33h2.0v2.97h-2.0zM142.5 60.92h2.0v2.97h-2.0zM142.5 101.75h2.0v2.97h-2.0zM142.5 107.58h2.0v2.97h-2.0zM142.5 113.42h2.0v2.97h-2.0zM142.5 125.08h2.0v2.97h-2.0zM142.5 128.00h2.0v2.97h-2.0zM142.5 130.92h2.0v2.97h-2.0zM144.5 46.33h2.0v2.97h-2.0zM144.5 58.00h2.0v2.97h-2.0zM144.5 66.75h2.0v2.97h-2.0zM144.5 81.33h2.0v2.97h-2.0zM144.5 84.25h2.0v2.97h-2.0zM144.5 90.08h2.0v2.97h-2.0zM144.5 93.00h2.0v2.97h-2.0zM144.5 104.67h2.0v2.97h-2.0zM144.5 110.50h2.0v2.97h-2.0zM144.5 119.25h2.0v2.97h-2.0zM144.5 130.92h2.0v2.97h-2.0zM144.5 133.83h2.0v2.97h-2.0zM146.5 40.50h2.0v2.97h-2.0zM146.5 60.92h2.0v2.97h-2.0zM146.5 81.33h2.0v2.97h-2.0zM146.5 93.00h2.0v2.97h-2.0zM146.5 98.83h2.0v2.97h-2.0zM146.5 110.50h2.0v2.97h-2.0zM146.5 116.33h2.0v2.97h-2.0zM146.5 133.83h2.0v2.97h-2.0zM150.5 40.50h2.0v2.97h-2.0zM150.5 49.25h2.0v2.97h-2.0zM150.5 52.17h2.0v2.97h-2.0zM150.5 63.83h2.0v2.97h-2.0zM150.5 75.50h2.0v2.97h-2.0zM150.5 78.42h2.0v2.97h-2.0zM150.5 104.67h2.0v2.97h-2.0zM150.5 113.42h2.0v2.97h-2.0zM150.5 116.33h2.0v2.97h-2.0zM150.5 125.08h2.0v2.97h-2.0zM150.5 136.75h2.0v2.97h-2.0zM152.5 72.58h2.0v2.97h-2.0zM152.5 81.33h2.0v2.97h-2.0zM152.5 90.08h2.0v2.97h-2.0zM152.5 107.58h2.0v2.97h-2.0zM152.5 116.33h2.0v2.97h-2.0zM152.5 139.67h2.0v2.97h-2.0zM162.5 40.50h2.0v2.97h-2.0zM162.5 55.08h2.0v2.97h-2.0zM162.5 66.75h2.0v2.97h-2.0zM162.5 101.75h2.0v2.97h-2.0zM162.5 116.33h2.0v2.97h-2.0zM162.5 125.08h2.0v2.97h-2.0zM162.5 133.83h2.0v2.97h-2.0zM166.5 46.33h2.0v2.97h-2.0zM166.5 60.92h2.0v2.97h-2.0zM166.5 101.75h2.0v2.97h-2.0zM166.5 128.00h2.0v2.97h-2.0zM166.5 133.83h2.0v2.97h-2.0zM170.5 40.50h2.0v2.97h-2.0zM170.5 55.08h2.0v2.97h-2.0zM170.5 58.00h2.0v2.97h-2.0zM170.5 63.83h2.0v2.97h-2.0zM170.5 98.83h2.0v2.97h-2.0zM170.5 101.75h2.0v2.97h-2.0zM170.5 116.33h2.0v2.97h-2.0zM170.5 130.92h2.0v2.97h-2.0zM170.5 136.75h2.0v2.97h-2.0zM170.5 142.58h2.0v2.97h-2.0zM172.5 40.50h2.0v2.97h-2.0zM172.5 46.33h2.0v2.97h-2.0zM172.5 49.25h2.0v2.97h-2.0zM172.5 58.00h2.0v2.97h-2.0zM172.5 69.67h2.0v2.97h-2.0zM172.5 72.58h2.0v2.97h-2.0zM172.5 78.42h2.0v2.97h-2.0zM172.5 87.17h2.0v2.97h-2.0zM172.5 90.08h2.0v2.97h-2.0zM172.5 101.75h2.0v2.97h-2.0zM172.5 122.17h2.0v2.97h-2.0zM172.5 128.00h2.0v2.97h-2.0zM172.5 136.75h2.0v2.97h-2.0zM172.5 142.58h2.0v2.97h-2.0zM182.5 43.42h2.0v2.97h-2.0zM182.5 58.00h2.0v2.97h-2.0zM182.5 75.50h2.0v2.97h-2.0zM182.5 110.50h2.0v2.97h-2.0zM186.5 40.50h2.0v2.97h-2.0zM186.5 43.42h2.0v2.97h-2.0zM186.5 58.00h2.0v2.97h-2.0zM186.5 63.83h2.0v2.97h-2.0zM186.5 75.50h2.0v2.97h-2.0zM186.5 87.17h2.0v2.97h-2.0zM186.5 95.92h2.0v2.97h-2.0zM186.5 130.92h2.0v2.97h-2.0zM190.5 40.50h2.0v2.97h-2.0zM190.5 43.42h2.0v2.97h-2.0zM190.5 46.33h2.0v2.97h-2.0zM190.5 55.08h2.0v2.97h-2.0zM190.5 58.00h2.0v2.97h-2.0zM190.5 75.50h2.0v2.97h-2.0zM190.5 90.08h2.0v2.97h-2.0zM190.5 93.00h2.0v2.97h-2.0zM190.5 101.75h2.0v2.97h-2.0zM190.5 104.67h2.0v2.97h-2.0zM192.5 52.17h2.0v2.97h-2.0zM192.5 60.92h2.0v2.97h-2.0zM192.5 69.67h2.0v2.97h-2.0zM192.5 98.83h2.0v2.97h-2.0zM192.5 110.50h2.0v2.97h-2.0zM192.5 116.33h2.0v2.97h-2.0zM222.5 43.42h2.0v2.97h-2.0zM222.5 69.67h2.0v2.97h-2.0zM222.5 78.42h2.0v2.97h-2.0zM222.5 81.33h2.0v2.97h-2.0zM222.5 101.75h2.0v2.97h-2.0zM222.5 128.00h2.0v2.97h-2.0zM230.5 52.17h2.0v2.97h-2.0zM230.5 66.75h2.0v2.97h-2.0zM230.5 78.42h2.0v2.97h-2.0zM230.5 84.25h2.0v2.97h-2.0zM230.5 110.50h2.0v2.97h-2.0zM230.5 122.17h2.0v2.97h-2.0zM230.5 128.00h2.0v2.97h-2.0zM230.5 130.92h2.0v2.97h-2.0zM230.5 142.58h2.0v2.97h-2.0zM232.5 46.33h2.0v2.97h-2.0zM232.5 49.25h2.0v2.97h-2.0zM232.5 69.67h2.0v2.97h-2.0zM232.5 78.42h2.0v2.97h-2.0zM232.5 95.92h2.0v2.97h-2.0zM232.5 107.58h2.0v2.97h-2.0zM232.5 110.50h2.0v2.97h-2.0zM232.5 113.42h2.0v2.97h-2.0zM232.5 122.17h2.0v2.97h-2.0zM232.5 133.83h2.0v2.97h-2.0zM232.5 136.75h2.0v2.97h-2.0zM232.5 142.58h2.0v2.97h-2.0zM236.5 43.42h2.0v2.97h-2.0zM236.5 69.67h2.0v2.97h-2.0zM236.5 93.00h2.0v2.97h-2.0zM236.5 110.50h2.0v2.97h-2.0zM236.5 122.17h2.0v2.97h-2.0zM236.5 133.83h2.0v2.97h-2.0zM244.5 43.42h2.0v2.97h-2.0zM244.5 49.25h2.0v2.97h-2.0zM244.5 69.67h2.0v2.97h-2.0zM244.5 75.50h2.0v2.97h-2.0zM244.5 104.67h2.0v2.97h-2.0zM244.5 122.17h2.0v2.97h-2.0zM244.5 125.08h2.0v2.97h-2.0zM244.5 128.00h2.0v2.97h-2.0zM246.5 63.83h2.0v2.97h-2.0zM246.5 78.42h2.0v2.97h-2.0zM246.5 81.33h2.0v2.97h-2.0zM246.5 95.92h2.0v2.97h-2.0zM246.5 110.50h2.0v2.97h-2.0zM246.5 113.42h2.0v2.97h-2.0zM246.5 119.25h2.0v2.97h-2.0zM246.5 139.67h2.0v2.97h-2.0zM254.5 52.17h2.0v2.97h-2.0zM254.5 72.58h2.0v2.97h-2.0zM254.5 75.50h2.0v2.97h-2.0zM254.5 95.92h2.0v2.97h-2.0zM254.5 110.50h2.0v2.97h-2.0zM254.5 113.42h2.0v2.97h-2.0zM254.5 122.17h2.0v2.97h-2.0zM254.5 136.75h2.0v2.97h-2.0z"/>
<path fill="#241c14" d="M142.5 55.08h2.0v2.97h-2.0zM142.5 119.25h2.0v2.97h-2.0zM142.5 142.58h2.0v2.97h-2.0zM144.5 52.17h2.0v2.97h-2.0zM144.5 55.08h2.0v2.97h-2.0zM144.5 60.92h2.0v2.97h-2.0zM144.5 72.58h2.0v2.97h-2.0zM144.5 78.42h2.0v2.97h-2.0zM144.5 95.92h2.0v2.97h-2.0zM144.5 116.33h2.0v2.97h-2.0zM144.5 142.58h2.0v2.97h-2.0zM152.5 60.92h2.0v2.97h-2.0zM152.5 87.17h2.0v2.97h-2.0zM152.5 93.00h2.0v2.97h-2.0zM152.5 122.17h2.0v2.97h-2.0zM162.5 46.33h2.0v2.97h-2.0zM162.5 60.92h2.0v2.97h-2.0zM162.5 104.67h2.0v2.97h-2.0zM162.5 113.42h2.0v2.97h-2.0zM166.5 66.75h2.0v2.97h-2.0zM166.5 90.08h2.0v2.97h-2.0zM170.5 43.42h2.0v2.97h-2.0zM170.5 72.58h2.0v2.97h-2.0zM170.5 75.50h2.0v2.97h-2.0zM170.5 87.17h2.0v2.97h-2.0zM170.5 107.58h2.0v2.97h-2.0zM170.5 110.50h2.0v2.97h-2.0zM172.5 43.42h2.0v2.97h-2.0zM172.5 98.83h2.0v2.97h-2.0zM172.5 104.67h2.0v2.97h-2.0zM172.5 119.25h2.0v2.97h-2.0zM182.5 72.58h2.0v2.97h-2.0zM182.5 84.25h2.0v2.97h-2.0zM182.5 90.08h2.0v2.97h-2.0zM182.5 113.42h2.0v2.97h-2.0zM182.5 122.17h2.0v2.97h-2.0zM222.5 49.25h2.0v2.97h-2.0zM222.5 58.00h2.0v2.97h-2.0zM222.5 63.83h2.0v2.97h-2.0zM222.5 66.75h2.0v2.97h-2.0zM222.5 75.50h2.0v2.97h-2.0zM222.5 84.25h2.0v2.97h-2.0zM222.5 95.92h2.0v2.97h-2.0zM222.5 113.42h2.0v2.97h-2.0zM222.5 130.92h2.0v2.97h-2.0zM222.5 133.83h2.0v2.97h-2.0zM222.5 136.75h2.0v2.97h-2.0zM236.5 128.00h2.0v2.97h-2.0zM254.5 43.42h2.0v2.97h-2.0zM254.5 87.17h2.0v2.97h-2.0zM254.5 116.33h2.0v2.97h-2.0z"/>
<path fill="#140c0c" d="M142.5 63.83h2.0v2.97h-2.0zM142.5 66.75h2.0v2.97h-2.0zM142.5 72.58h2.0v2.97h-2.0zM142.5 75.50h2.0v2.97h-2.0zM142.5 78.42h2.0v2.97h-2.0zM142.5 110.50h2.0v2.97h-2.0zM142.5 116.33h2.0v2.97h-2.0zM144.5 49.25h2.0v2.97h-2.0zM144.5 107.58h2.0v2.97h-2.0zM144.5 113.42h2.0v2.97h-2.0zM144.5 125.08h2.0v2.97h-2.0zM144.5 136.75h2.0v2.97h-2.0zM144.5 139.67h2.0v2.97h-2.0zM146.5 43.42h2.0v2.97h-2.0zM146.5 46.33h2.0v2.97h-2.0zM146.5 49.25h2.0v2.97h-2.0zM146.5 52.17h2.0v2.97h-2.0zM146.5 63.83h2.0v2.97h-2.0zM146.5 72.58h2.0v2.97h-2.0zM146.5 78.42h2.0v2.97h-2.0zM146.5 90.08h2.0v2.97h-2.0zM146.5 104.67h2.0v2.97h-2.0zM146.5 113.42h2.0v2.97h-2.0zM146.5 119.25h2.0v2.97h-2.0zM146.5 125.08h2.0v2.97h-2.0zM146.5 136.75h2.0v2.97h-2.0zM146.5 142.58h2.0v2.97h-2.0zM150.5 43.42h2.0v2.97h-2.0zM150.5 46.33h2.0v2.97h-2.0zM150.5 60.92h2.0v2.97h-2.0zM150.5 93.00h2.0v2.97h-2.0zM150.5 95.92h2.0v2.97h-2.0zM150.5 101.75h2.0v2.97h-2.0zM150.5 122.17h2.0v2.97h-2.0zM150.5 128.00h2.0v2.97h-2.0zM150.5 139.67h2.0v2.97h-2.0zM152.5 49.25h2.0v2.97h-2.0zM152.5 52.17h2.0v2.97h-2.0zM152.5 58.00h2.0v2.97h-2.0zM152.5 66.75h2.0v2.97h-2.0zM152.5 84.25h2.0v2.97h-2.0zM152.5 125.08h2.0v2.97h-2.0zM162.5 63.83h2.0v2.97h-2.0zM162.5 75.50h2.0v2.97h-2.0zM162.5 98.83h2.0v2.97h-2.0zM162.5 110.50h2.0v2.97h-2.0zM162.5 119.25h2.0v2.97h-2.0zM162.5 139.67h2.0v2.97h-2.0zM166.5 40.50h2.0v2.97h-2.0zM166.5 58.00h2.0v2.97h-2.0zM166.5 78.42h2.0v2.97h-2.0zM166.5 87.17h2.0v2.97h-2.0zM166.5 95.92h2.0v2.97h-2.0zM166.5 98.83h2.0v2.97h-2.0zM166.5 110.50h2.0v2.97h-2.0zM166.5 116.33h2.0v2.97h-2.0zM166.5 122.17h2.0v2.97h-2.0zM166.5 136.75h2.0v2.97h-2.0zM170.5 49.25h2.0v2.97h-2.0zM172.5 52.17h2.0v2.97h-2.0zM172.5 55.08h2.0v2.97h-2.0zM172.5 60.92h2.0v2.97h-2.0zM172.5 81.33h2.0v2.97h-2.0zM172.5 113.42h2.0v2.97h-2.0zM182.5 52.17h2.0v2.97h-2.0zM182.5 66.75h2.0v2.97h-2.0zM182.5 81.33h2.0v2.97h-2.0zM182.5 93.00h2.0v2.97h-2.0zM182.5 98.83h2.0v2.97h-2.0zM182.5 101.75h2.0v2.97h-2.0zM182.5 107.58h2.0v2.97h-2.0zM182.5 128.00h2.0v2.97h-2.0zM182.5 142.58h2.0v2.97h-2.0zM186.5 60.92h2.0v2.97h-2.0zM186.5 69.67h2.0v2.97h-2.0zM186.5 72.58h2.0v2.97h-2.0zM186.5 93.00h2.0v2.97h-2.0zM186.5 98.83h2.0v2.97h-2.0zM186.5 101.75h2.0v2.97h-2.0zM186.5 104.67h2.0v2.97h-2.0zM186.5 125.08h2.0v2.97h-2.0zM186.5 133.83h2.0v2.97h-2.0zM190.5 78.42h2.0v2.97h-2.0zM190.5 81.33h2.0v2.97h-2.0zM190.5 95.92h2.0v2.97h-2.0zM190.5 98.83h2.0v2.97h-2.0zM190.5 110.50h2.0v2.97h-2.0zM190.5 116.33h2.0v2.97h-2.0zM190.5 136.75h2.0v2.97h-2.0zM192.5 40.50h2.0v2.97h-2.0zM192.5 58.00h2.0v2.97h-2.0zM192.5 72.58h2.0v2.97h-2.0zM192.5 87.17h2.0v2.97h-2.0zM192.5 95.92h2.0v2.97h-2.0zM192.5 107.58h2.0v2.97h-2.0zM192.5 119.25h2.0v2.97h-2.0zM192.5 125.08h2.0v2.97h-2.0zM192.5 133.83h2.0v2.97h-2.0zM192.5 139.67h2.0v2.97h-2.0zM192.5 142.58h2.0v2.97h-2.0zM222.5 40.50h2.0v2.97h-2.0zM222.5 98.83h2.0v2.97h-2.0zM222.5 104.67h2.0v2.97h-2.0zM222.5 139.67h2.0v2.97h-2.0zM230.5 46.33h2.0v2.97h-2.0zM230.5 55.08h2.0v2.97h-2.0zM230.5 69.67h2.0v2.97h-2.0zM230.5 81.33h2.0v2.97h-2.0zM230.5 93.00h2.0v2.97h-2.0zM230.5 95.92h2.0v2.97h-2.0zM230.5 119.25h2.0v2.97h-2.0zM230.5 125.08h2.0v2.97h-2.0zM232.5 40.50h2.0v2.97h-2.0zM232.5 52.17h2.0v2.97h-2.0zM232.5 60.92h2.0v2.97h-2.0zM232.5 75.50h2.0v2.97h-2.0zM232.5 90.08h2.0v2.97h-2.0zM232.5 104.67h2.0v2.97h-2.0zM232.5 116.33h2.0v2.97h-2.0zM232.5 128.00h2.0v2.97h-2.0zM232.5 130.92h2.0v2.97h-2.0zM236.5 40.50h2.0v2.97h-2.0zM236.5 90.08h2.0v2.97h-2.0zM236.5 113.42h2.0v2.97h-2.0zM236.5 119.25h2.0v2.97h-2.0zM244.5 52.17h2.0v2.97h-2.0zM244.5 63.83h2.0v2.97h-2.0zM244.5 66.75h2.0v2.97h-2.0zM244.5 72.58h2.0v2.97h-2.0zM244.5 84.25h2.0v2.97h-2.0zM244.5 107.58h2.0v2.97h-2.0zM244.5 142.58h2.0v2.97h-2.0zM246.5 46.33h2.0v2.97h-2.0zM246.5 58.00h2.0v2.97h-2.0zM246.5 69.67h2.0v2.97h-2.0zM246.5 75.50h2.0v2.97h-2.0zM246.5 87.17h2.0v2.97h-2.0zM246.5 93.00h2.0v2.97h-2.0zM246.5 101.75h2.0v2.97h-2.0zM246.5 104.67h2.0v2.97h-2.0zM246.5 107.58h2.0v2.97h-2.0zM246.5 133.83h2.0v2.97h-2.0zM254.5 40.50h2.0v2.97h-2.0zM254.5 46.33h2.0v2.97h-2.0zM254.5 49.25h2.0v2.97h-2.0zM254.5 63.83h2.0v2.97h-2.0zM254.5 66.75h2.0v2.97h-2.0zM254.5 90.08h2.0v2.97h-2.0zM254.5 104.67h2.0v2.97h-2.0zM254.5 139.67h2.0v2.97h-2.0zM254.5 142.58h2.0v2.97h-2.0z"/>
<path fill="#1c1414" d="M142.5 69.67h2.0v2.97h-2.0zM142.5 104.67h2.0v2.97h-2.0zM144.5 43.42h2.0v2.97h-2.0zM144.5 69.67h2.0v2.97h-2.0zM146.5 75.50h2.0v2.97h-2.0zM146.5 84.25h2.0v2.97h-2.0zM146.5 87.17h2.0v2.97h-2.0zM152.5 69.67h2.0v2.97h-2.0zM152.5 95.92h2.0v2.97h-2.0zM152.5 98.83h2.0v2.97h-2.0zM152.5 104.67h2.0v2.97h-2.0zM152.5 113.42h2.0v2.97h-2.0zM152.5 133.83h2.0v2.97h-2.0zM162.5 49.25h2.0v2.97h-2.0zM162.5 90.08h2.0v2.97h-2.0zM162.5 93.00h2.0v2.97h-2.0zM162.5 107.58h2.0v2.97h-2.0zM162.5 122.17h2.0v2.97h-2.0zM162.5 128.00h2.0v2.97h-2.0zM162.5 130.92h2.0v2.97h-2.0zM162.5 142.58h2.0v2.97h-2.0zM166.5 43.42h2.0v2.97h-2.0zM166.5 49.25h2.0v2.97h-2.0zM166.5 52.17h2.0v2.97h-2.0zM166.5 63.83h2.0v2.97h-2.0zM166.5 69.67h2.0v2.97h-2.0zM166.5 93.00h2.0v2.97h-2.0zM166.5 130.92h2.0v2.97h-2.0zM170.5 52.17h2.0v2.97h-2.0zM170.5 93.00h2.0v2.97h-2.0zM170.5 95.92h2.0v2.97h-2.0zM170.5 113.42h2.0v2.97h-2.0zM170.5 128.00h2.0v2.97h-2.0zM172.5 93.00h2.0v2.97h-2.0zM172.5 125.08h2.0v2.97h-2.0zM182.5 95.92h2.0v2.97h-2.0zM182.5 104.67h2.0v2.97h-2.0zM182.5 116.33h2.0v2.97h-2.0zM182.5 133.83h2.0v2.97h-2.0zM186.5 52.17h2.0v2.97h-2.0zM186.5 90.08h2.0v2.97h-2.0zM186.5 110.50h2.0v2.97h-2.0zM186.5 116.33h2.0v2.97h-2.0zM222.5 87.17h2.0v2.97h-2.0zM222.5 90.08h2.0v2.97h-2.0zM222.5 110.50h2.0v2.97h-2.0zM222.5 119.25h2.0v2.97h-2.0zM222.5 125.08h2.0v2.97h-2.0zM236.5 49.25h2.0v2.97h-2.0zM236.5 66.75h2.0v2.97h-2.0zM236.5 78.42h2.0v2.97h-2.0zM236.5 98.83h2.0v2.97h-2.0zM236.5 104.67h2.0v2.97h-2.0zM236.5 107.58h2.0v2.97h-2.0zM236.5 139.67h2.0v2.97h-2.0zM244.5 46.33h2.0v2.97h-2.0zM244.5 81.33h2.0v2.97h-2.0zM244.5 139.67h2.0v2.97h-2.0zM246.5 55.08h2.0v2.97h-2.0zM246.5 72.58h2.0v2.97h-2.0zM246.5 90.08h2.0v2.97h-2.0zM246.5 98.83h2.0v2.97h-2.0zM246.5 130.92h2.0v2.97h-2.0z"/>
<path fill="#1c1c14" d="M142.5 84.25h2.0v2.97h-2.0zM142.5 90.08h2.0v2.97h-2.0zM142.5 98.83h2.0v2.97h-2.0zM142.5 136.75h2.0v2.97h-2.0zM144.5 63.83h2.0v2.97h-2.0zM144.5 87.17h2.0v2.97h-2.0zM144.5 101.75h2.0v2.97h-2.0zM146.5 101.75h2.0v2.97h-2.0zM146.5 107.58h2.0v2.97h-2.0zM146.5 128.00h2.0v2.97h-2.0zM152.5 40.50h2.0v2.97h-2.0zM152.5 55.08h2.0v2.97h-2.0zM152.5 63.83h2.0v2.97h-2.0zM152.5 75.50h2.0v2.97h-2.0zM152.5 78.42h2.0v2.97h-2.0zM152.5 101.75h2.0v2.97h-2.0zM152.5 128.00h2.0v2.97h-2.0zM152.5 136.75h2.0v2.97h-2.0zM162.5 43.42h2.0v2.97h-2.0zM162.5 52.17h2.0v2.97h-2.0zM162.5 69.67h2.0v2.97h-2.0zM162.5 78.42h2.0v2.97h-2.0zM162.5 84.25h2.0v2.97h-2.0zM162.5 136.75h2.0v2.97h-2.0zM166.5 55.08h2.0v2.97h-2.0zM166.5 84.25h2.0v2.97h-2.0zM166.5 104.67h2.0v2.97h-2.0zM166.5 119.25h2.0v2.97h-2.0zM166.5 139.67h2.0v2.97h-2.0zM170.5 84.25h2.0v2.97h-2.0zM170.5 90.08h2.0v2.97h-2.0zM170.5 104.67h2.0v2.97h-2.0zM170.5 119.25h2.0v2.97h-2.0zM170.5 122.17h2.0v2.97h-2.0zM172.5 66.75h2.0v2.97h-2.0zM172.5 130.92h2.0v2.97h-2.0zM172.5 139.67h2.0v2.97h-2.0zM182.5 49.25h2.0v2.97h-2.0zM182.5 55.08h2.0v2.97h-2.0zM182.5 60.92h2.0v2.97h-2.0zM182.5 63.83h2.0v2.97h-2.0zM182.5 69.67h2.0v2.97h-2.0zM182.5 119.25h2.0v2.97h-2.0zM182.5 130.92h2.0v2.97h-2.0zM186.5 49.25h2.0v2.97h-2.0zM186.5 66.75h2.0v2.97h-2.0zM186.5 81.33h2.0v2.97h-2.0zM186.5 136.75h2.0v2.97h-2.0zM222.5 46.33h2.0v2.97h-2.0zM222.5 52.17h2.0v2.97h-2.0zM222.5 55.08h2.0v2.97h-2.0zM222.5 93.00h2.0v2.97h-2.0zM222.5 116.33h2.0v2.97h-2.0zM222.5 142.58h2.0v2.97h-2.0zM236.5 52.17h2.0v2.97h-2.0zM236.5 55.08h2.0v2.97h-2.0zM236.5 60.92h2.0v2.97h-2.0zM236.5 142.58h2.0v2.97h-2.0zM246.5 60.92h2.0v2.97h-2.0zM246.5 122.17h2.0v2.97h-2.0zM254.5 58.00h2.0v2.97h-2.0zM254.5 78.42h2.0v2.97h-2.0zM254.5 84.25h2.0v2.97h-2.0zM254.5 93.00h2.0v2.97h-2.0zM254.5 101.75h2.0v2.97h-2.0zM254.5 119.25h2.0v2.97h-2.0zM254.5 128.00h2.0v2.97h-2.0zM254.5 130.92h2.0v2.97h-2.0z"/>
<path fill="#0c0c0c" d="M142.5 93.00h2.0v2.97h-2.0zM142.5 95.92h2.0v2.97h-2.0zM142.5 133.83h2.0v2.97h-2.0zM146.5 55.08h2.0v2.97h-2.0zM146.5 69.67h2.0v2.97h-2.0zM150.5 55.08h2.0v2.97h-2.0zM150.5 66.75h2.0v2.97h-2.0zM150.5 87.17h2.0v2.97h-2.0zM150.5 90.08h2.0v2.97h-2.0zM150.5 107.58h2.0v2.97h-2.0zM150.5 119.25h2.0v2.97h-2.0zM152.5 46.33h2.0v2.97h-2.0zM152.5 110.50h2.0v2.97h-2.0zM152.5 130.92h2.0v2.97h-2.0zM166.5 72.58h2.0v2.97h-2.0zM166.5 113.42h2.0v2.97h-2.0zM170.5 46.33h2.0v2.97h-2.0zM170.5 78.42h2.0v2.97h-2.0zM170.5 139.67h2.0v2.97h-2.0zM172.5 63.83h2.0v2.97h-2.0zM172.5 84.25h2.0v2.97h-2.0zM172.5 110.50h2.0v2.97h-2.0zM172.5 133.83h2.0v2.97h-2.0zM182.5 78.42h2.0v2.97h-2.0zM182.5 87.17h2.0v2.97h-2.0zM182.5 125.08h2.0v2.97h-2.0zM182.5 136.75h2.0v2.97h-2.0zM186.5 78.42h2.0v2.97h-2.0zM186.5 107.58h2.0v2.97h-2.0zM186.5 119.25h2.0v2.97h-2.0zM190.5 52.17h2.0v2.97h-2.0zM190.5 66.75h2.0v2.97h-2.0zM190.5 72.58h2.0v2.97h-2.0zM190.5 87.17h2.0v2.97h-2.0zM190.5 113.42h2.0v2.97h-2.0zM190.5 122.17h2.0v2.97h-2.0zM190.5 125.08h2.0v2.97h-2.0zM190.5 128.00h2.0v2.97h-2.0zM192.5 46.33h2.0v2.97h-2.0zM192.5 66.75h2.0v2.97h-2.0zM192.5 75.50h2.0v2.97h-2.0zM192.5 81.33h2.0v2.97h-2.0zM192.5 84.25h2.0v2.97h-2.0zM192.5 93.00h2.0v2.97h-2.0zM192.5 101.75h2.0v2.97h-2.0zM192.5 104.67h2.0v2.97h-2.0zM192.5 122.17h2.0v2.97h-2.0zM192.5 128.00h2.0v2.97h-2.0zM192.5 136.75h2.0v2.97h-2.0zM230.5 43.42h2.0v2.97h-2.0zM230.5 98.83h2.0v2.97h-2.0zM230.5 101.75h2.0v2.97h-2.0zM230.5 139.67h2.0v2.97h-2.0zM232.5 66.75h2.0v2.97h-2.0zM232.5 81.33h2.0v2.97h-2.0zM232.5 84.25h2.0v2.97h-2.0zM232.5 101.75h2.0v2.97h-2.0zM232.5 139.67h2.0v2.97h-2.0zM236.5 46.33h2.0v2.97h-2.0zM236.5 58.00h2.0v2.97h-2.0zM236.5 81.33h2.0v2.97h-2.0zM236.5 84.25h2.0v2.97h-2.0zM236.5 95.92h2.0v2.97h-2.0zM236.5 101.75h2.0v2.97h-2.0zM236.5 125.08h2.0v2.97h-2.0zM236.5 136.75h2.0v2.97h-2.0zM244.5 40.50h2.0v2.97h-2.0zM244.5 58.00h2.0v2.97h-2.0zM244.5 60.92h2.0v2.97h-2.0zM244.5 78.42h2.0v2.97h-2.0zM244.5 95.92h2.0v2.97h-2.0zM244.5 113.42h2.0v2.97h-2.0zM244.5 119.25h2.0v2.97h-2.0zM244.5 130.92h2.0v2.97h-2.0zM244.5 133.83h2.0v2.97h-2.0zM244.5 136.75h2.0v2.97h-2.0zM246.5 49.25h2.0v2.97h-2.0zM246.5 52.17h2.0v2.97h-2.0zM246.5 84.25h2.0v2.97h-2.0zM246.5 125.08h2.0v2.97h-2.0zM246.5 136.75h2.0v2.97h-2.0zM246.5 142.58h2.0v2.97h-2.0zM254.5 60.92h2.0v2.97h-2.0zM254.5 98.83h2.0v2.97h-2.0zM254.5 107.58h2.0v2.97h-2.0z"/>
<path fill="#3c140c" d="M148.5 40.50h2.0v2.97h-2.0zM148.5 55.08h2.0v2.97h-2.0zM148.5 78.42h2.0v2.97h-2.0zM148.5 113.42h2.0v2.97h-2.0zM148.5 125.08h2.0v2.97h-2.0zM148.5 130.92h2.0v2.97h-2.0zM148.5 142.58h2.0v2.97h-2.0zM154.5 40.50h2.0v2.97h-2.0zM154.5 87.17h2.0v2.97h-2.0zM156.5 75.50h2.0v2.97h-2.0zM156.5 87.17h2.0v2.97h-2.0zM156.5 119.25h2.0v2.97h-2.0zM160.5 46.33h2.0v2.97h-2.0zM160.5 52.17h2.0v2.97h-2.0zM160.5 55.08h2.0v2.97h-2.0zM160.5 58.00h2.0v2.97h-2.0zM160.5 84.25h2.0v2.97h-2.0zM160.5 87.17h2.0v2.97h-2.0zM160.5 119.25h2.0v2.97h-2.0zM160.5 122.17h2.0v2.97h-2.0zM160.5 133.83h2.0v2.97h-2.0zM174.5 52.17h2.0v2.97h-2.0zM174.5 63.83h2.0v2.97h-2.0zM174.5 69.67h2.0v2.97h-2.0zM174.5 75.50h2.0v2.97h-2.0zM174.5 81.33h2.0v2.97h-2.0zM174.5 107.58h2.0v2.97h-2.0zM174.5 119.25h2.0v2.97h-2.0zM174.5 122.17h2.0v2.97h-2.0zM174.5 128.00h2.0v2.97h-2.0zM174.5 142.58h2.0v2.97h-2.0zM224.5 58.00h2.0v2.97h-2.0zM224.5 72.58h2.0v2.97h-2.0zM224.5 81.33h2.0v2.97h-2.0zM224.5 98.83h2.0v2.97h-2.0zM224.5 125.08h2.0v2.97h-2.0zM234.5 60.92h2.0v2.97h-2.0zM234.5 87.17h2.0v2.97h-2.0zM234.5 133.83h2.0v2.97h-2.0z"/>
<path fill="#34140c" d="M148.5 60.92h2.0v2.97h-2.0zM148.5 84.25h2.0v2.97h-2.0zM154.5 95.92h2.0v2.97h-2.0zM154.5 130.92h2.0v2.97h-2.0zM156.5 110.50h2.0v2.97h-2.0zM158.5 136.75h2.0v2.97h-2.0zM160.5 66.75h2.0v2.97h-2.0zM160.5 81.33h2.0v2.97h-2.0zM160.5 139.67h2.0v2.97h-2.0zM164.5 69.67h2.0v2.97h-2.0zM164.5 87.17h2.0v2.97h-2.0zM174.5 101.75h2.0v2.97h-2.0zM220.5 40.50h2.0v2.97h-2.0zM220.5 49.25h2.0v2.97h-2.0zM220.5 55.08h2.0v2.97h-2.0zM220.5 90.08h2.0v2.97h-2.0zM220.5 110.50h2.0v2.97h-2.0zM220.5 119.25h2.0v2.97h-2.0zM224.5 43.42h2.0v2.97h-2.0zM224.5 136.75h2.0v2.97h-2.0zM224.5 139.67h2.0v2.97h-2.0zM234.5 40.50h2.0v2.97h-2.0zM234.5 49.25h2.0v2.97h-2.0zM234.5 69.67h2.0v2.97h-2.0zM234.5 72.58h2.0v2.97h-2.0zM234.5 78.42h2.0v2.97h-2.0zM234.5 90.08h2.0v2.97h-2.0zM234.5 101.75h2.0v2.97h-2.0zM234.5 110.50h2.0v2.97h-2.0zM234.5 116.33h2.0v2.97h-2.0zM234.5 128.00h2.0v2.97h-2.0zM234.5 136.75h2.0v2.97h-2.0zM234.5 142.58h2.0v2.97h-2.0zM238.5 60.92h2.0v2.97h-2.0zM238.5 95.92h2.0v2.97h-2.0zM238.5 130.92h2.0v2.97h-2.0zM242.5 43.42h2.0v2.97h-2.0zM242.5 49.25h2.0v2.97h-2.0zM242.5 60.92h2.0v2.97h-2.0zM242.5 72.58h2.0v2.97h-2.0zM242.5 90.08h2.0v2.97h-2.0zM242.5 110.50h2.0v2.97h-2.0z"/>
<path fill="#0c0c04" d="M150.5 69.67h2.0v2.97h-2.0zM150.5 81.33h2.0v2.97h-2.0zM150.5 84.25h2.0v2.97h-2.0zM150.5 98.83h2.0v2.97h-2.0zM150.5 130.92h2.0v2.97h-2.0zM150.5 142.58h2.0v2.97h-2.0zM186.5 84.25h2.0v2.97h-2.0zM186.5 139.67h2.0v2.97h-2.0zM190.5 49.25h2.0v2.97h-2.0zM190.5 60.92h2.0v2.97h-2.0zM190.5 63.83h2.0v2.97h-2.0zM190.5 69.67h2.0v2.97h-2.0zM190.5 84.25h2.0v2.97h-2.0zM190.5 107.58h2.0v2.97h-2.0zM190.5 119.25h2.0v2.97h-2.0zM190.5 130.92h2.0v2.97h-2.0zM190.5 133.83h2.0v2.97h-2.0zM190.5 139.67h2.0v2.97h-2.0zM190.5 142.58h2.0v2.97h-2.0zM192.5 43.42h2.0v2.97h-2.0zM192.5 49.25h2.0v2.97h-2.0zM192.5 55.08h2.0v2.97h-2.0zM192.5 63.83h2.0v2.97h-2.0zM192.5 78.42h2.0v2.97h-2.0zM192.5 90.08h2.0v2.97h-2.0zM192.5 113.42h2.0v2.97h-2.0zM192.5 130.92h2.0v2.97h-2.0zM230.5 40.50h2.0v2.97h-2.0zM230.5 58.00h2.0v2.97h-2.0zM230.5 60.92h2.0v2.97h-2.0zM230.5 63.83h2.0v2.97h-2.0zM230.5 87.17h2.0v2.97h-2.0zM230.5 90.08h2.0v2.97h-2.0zM230.5 104.67h2.0v2.97h-2.0zM230.5 133.83h2.0v2.97h-2.0zM230.5 136.75h2.0v2.97h-2.0zM232.5 43.42h2.0v2.97h-2.0zM232.5 55.08h2.0v2.97h-2.0zM232.5 63.83h2.0v2.97h-2.0zM232.5 93.00h2.0v2.97h-2.0zM232.5 98.83h2.0v2.97h-2.0zM232.5 119.25h2.0v2.97h-2.0zM232.5 125.08h2.0v2.97h-2.0zM244.5 90.08h2.0v2.97h-2.0zM244.5 110.50h2.0v2.97h-2.0z"/>
<path fill="#142c14" d="M176.5 40.50h2.0v2.97h-2.0zM176.5 49.25h2.0v2.97h-2.0zM176.5 75.50h2.0v2.97h-2.0zM176.5 113.42h2.0v2.97h-2.0zM176.5 119.25h2.0v2.97h-2.0zM176.5 130.92h2.0v2.97h-2.0zM176.5 142.58h2.0v2.97h-2.0zM194.5 60.92h2.0v2.97h-2.0zM194.5 87.17h2.0v2.97h-2.0zM196.5 46.33h2.0v2.97h-2.0zM196.5 49.25h2.0v2.97h-2.0zM196.5 52.17h2.0v2.97h-2.0zM196.5 66.75h2.0v2.97h-2.0zM196.5 81.33h2.0v2.97h-2.0zM196.5 98.83h2.0v2.97h-2.0zM196.5 101.75h2.0v2.97h-2.0zM196.5 104.67h2.0v2.97h-2.0zM196.5 133.83h2.0v2.97h-2.0zM196.5 139.67h2.0v2.97h-2.0zM198.5 60.92h2.0v2.97h-2.0zM198.5 66.75h2.0v2.97h-2.0zM198.5 69.67h2.0v2.97h-2.0zM198.5 116.33h2.0v2.97h-2.0zM198.5 122.17h2.0v2.97h-2.0zM198.5 125.08h2.0v2.97h-2.0zM198.5 133.83h2.0v2.97h-2.0zM240.5 52.17h2.0v2.97h-2.0zM240.5 66.75h2.0v2.97h-2.0zM240.5 128.00h2.0v2.97h-2.0zM248.5 58.00h2.0v2.97h-2.0zM248.5 84.25h2.0v2.97h-2.0zM248.5 110.50h2.0v2.97h-2.0zM248.5 119.25h2.0v2.97h-2.0zM248.5 125.08h2.0v2.97h-2.0zM248.5 142.58h2.0v2.97h-2.0zM250.5 46.33h2.0v2.97h-2.0zM250.5 72.58h2.0v2.97h-2.0zM250.5 107.58h2.0v2.97h-2.0zM250.5 133.83h2.0v2.97h-2.0zM252.5 40.50h2.0v2.97h-2.0zM252.5 60.92h2.0v2.97h-2.0zM252.5 63.83h2.0v2.97h-2.0zM252.5 69.67h2.0v2.97h-2.0zM252.5 90.08h2.0v2.97h-2.0zM252.5 130.92h2.0v2.97h-2.0zM252.5 133.83h2.0v2.97h-2.0zM256.5 78.42h2.0v2.97h-2.0zM256.5 95.92h2.0v2.97h-2.0zM256.5 107.58h2.0v2.97h-2.0zM256.5 130.92h2.0v2.97h-2.0zM256.5 139.67h2.0v2.97h-2.0zM258.5 40.50h2.0v2.97h-2.0zM258.5 87.17h2.0v2.97h-2.0zM258.5 119.25h2.0v2.97h-2.0zM258.5 136.75h2.0v2.97h-2.0zM260.5 40.50h2.0v2.97h-2.0zM260.5 43.42h2.0v2.97h-2.0zM260.5 72.58h2.0v2.97h-2.0zM260.5 90.08h2.0v2.97h-2.0zM260.5 93.00h2.0v2.97h-2.0zM260.5 116.33h2.0v2.97h-2.0zM260.5 122.17h2.0v2.97h-2.0zM260.5 130.92h2.0v2.97h-2.0zM270.5 46.33h2.0v2.97h-2.0zM270.5 66.75h2.0v2.97h-2.0zM270.5 75.50h2.0v2.97h-2.0zM270.5 107.58h2.0v2.97h-2.0zM270.5 119.25h2.0v2.97h-2.0zM270.5 122.17h2.0v2.97h-2.0zM270.5 125.08h2.0v2.97h-2.0zM270.5 128.00h2.0v2.97h-2.0zM272.5 113.42h2.0v2.97h-2.0zM274.5 55.08h2.0v2.97h-2.0zM274.5 66.75h2.0v2.97h-2.0zM274.5 130.92h2.0v2.97h-2.0zM284.5 66.75h2.0v2.97h-2.0zM286.5 104.67h2.0v2.97h-2.0zM288.5 52.17h2.0v2.97h-2.0zM288.5 58.00h2.0v2.97h-2.0zM288.5 60.92h2.0v2.97h-2.0zM288.5 87.17h2.0v2.97h-2.0zM288.5 104.67h2.0v2.97h-2.0zM288.5 125.08h2.0v2.97h-2.0zM298.5 49.25h0.5v2.97h-0.5zM298.5 66.75h0.5v2.97h-0.5zM298.5 72.58h0.5v2.97h-0.5zM298.5 84.25h0.5v2.97h-0.5zM298.5 98.83h0.5v2.97h-0.5zM298.5 116.33h0.5v2.97h-0.5zM298.5 122.17h0.5v2.97h-0.5z"/>
<path fill="#14341c" d="M176.5 43.42h2.0v2.97h-2.0zM176.5 52.17h2.0v2.97h-2.0zM176.5 139.67h2.0v2.97h-2.0zM194.5 72.58h2.0v2.97h-2.0zM194.5 75.50h2.0v2.97h-2.0zM194.5 136.75h2.0v2.97h-2.0zM198.5 78.42h2.0v2.97h-2.0zM250.5 78.42h2.0v2.97h-2.0zM252.5 49.25h2.0v2.97h-2.0zM252.5 107.58h2.0v2.97h-2.0zM252.5 136.75h2.0v2.97h-2.0zM256.5 43.42h2.0v2.97h-2.0zM256.5 63.83h2.0v2.97h-2.0zM260.5 125.08h2.0v2.97h-2.0zM270.5 90.08h2.0v2.97h-2.0zM272.5 40.50h2.0v2.97h-2.0zM272.5 75.50h2.0v2.97h-2.0zM272.5 93.00h2.0v2.97h-2.0zM272.5 95.92h2.0v2.97h-2.0zM272.5 98.83h2.0v2.97h-2.0zM272.5 119.25h2.0v2.97h-2.0zM272.5 136.75h2.0v2.97h-2.0zM274.5 72.58h2.0v2.97h-2.0zM274.5 133.83h2.0v2.97h-2.0zM274.5 136.75h2.0v2.97h-2.0zM276.5 40.50h2.0v2.97h-2.0zM284.5 78.42h2.0v2.97h-2.0zM284.5 119.25h2.0v2.97h-2.0zM284.5 136.75h2.0v2.97h-2.0zM286.5 81.33h2.0v2.97h-2.0zM288.5 43.42h2.0v2.97h-2.0zM288.5 110.50h2.0v2.97h-2.0zM288.5 119.25h2.0v2.97h-2.0zM288.5 136.75h2.0v2.97h-2.0z"/>
<path fill="#1c341c" d="M176.5 46.33h2.0v2.97h-2.0zM176.5 60.92h2.0v2.97h-2.0zM176.5 69.67h2.0v2.97h-2.0zM176.5 98.83h2.0v2.97h-2.0zM176.5 101.75h2.0v2.97h-2.0zM176.5 104.67h2.0v2.97h-2.0zM176.5 110.50h2.0v2.97h-2.0zM194.5 49.25h2.0v2.97h-2.0zM194.5 81.33h2.0v2.97h-2.0zM194.5 93.00h2.0v2.97h-2.0zM194.5 95.92h2.0v2.97h-2.0zM194.5 125.08h2.0v2.97h-2.0zM194.5 130.92h2.0v2.97h-2.0zM248.5 40.50h2.0v2.97h-2.0zM248.5 52.17h2.0v2.97h-2.0zM248.5 60.92h2.0v2.97h-2.0zM248.5 72.58h2.0v2.97h-2.0zM248.5 78.42h2.0v2.97h-2.0zM248.5 107.58h2.0v2.97h-2.0zM248.5 130.92h2.0v2.97h-2.0zM248.5 139.67h2.0v2.97h-2.0zM250.5 43.42h2.0v2.97h-2.0zM250.5 63.83h2.0v2.97h-2.0zM250.5 75.50h2.0v2.97h-2.0zM250.5 87.17h2.0v2.97h-2.0zM250.5 90.08h2.0v2.97h-2.0zM250.5 101.75h2.0v2.97h-2.0zM250.5 119.25h2.0v2.97h-2.0zM252.5 81.33h2.0v2.97h-2.0zM252.5 119.25h2.0v2.97h-2.0zM256.5 40.50h2.0v2.97h-2.0zM256.5 69.67h2.0v2.97h-2.0zM256.5 84.25h2.0v2.97h-2.0zM256.5 90.08h2.0v2.97h-2.0zM256.5 93.00h2.0v2.97h-2.0zM256.5 98.83h2.0v2.97h-2.0zM256.5 110.50h2.0v2.97h-2.0zM256.5 113.42h2.0v2.97h-2.0zM256.5 116.33h2.0v2.97h-2.0zM260.5 58.00h2.0v2.97h-2.0zM260.5 66.75h2.0v2.97h-2.0zM260.5 119.25h2.0v2.97h-2.0zM260.5 128.00h2.0v2.97h-2.0zM298.5 40.50h0.5v2.97h-0.5zM298.5 60.92h0.5v2.97h-0.5zM298.5 69.67h0.5v2.97h-0.5zM298.5 87.17h0.5v2.97h-0.5zM298.5 90.08h0.5v2.97h-0.5zM298.5 104.67h0.5v2.97h-0.5zM298.5 107.58h0.5v2.97h-0.5zM298.5 113.42h0.5v2.97h-0.5zM298.5 119.25h0.5v2.97h-0.5zM298.5 139.67h0.5v2.97h-0.5z"/>
<path fill="#0c1c14" d="M176.5 55.08h2.0v2.97h-2.0zM194.5 90.08h2.0v2.97h-2.0zM194.5 128.00h2.0v2.97h-2.0zM194.5 139.67h2.0v2.97h-2.0zM196.5 90.08h2.0v2.97h-2.0zM196.5 122.17h2.0v2.97h-2.0zM198.5 55.08h2.0v2.97h-2.0zM250.5 125.08h2.0v2.97h-2.0zM252.5 116.33h2.0v2.97h-2.0zM256.5 58.00h2.0v2.97h-2.0zM256.5 87.17h2.0v2.97h-2.0zM260.5 63.83h2.0v2.97h-2.0zM260.5 78.42h2.0v2.97h-2.0zM260.5 87.17h2.0v2.97h-2.0z"/>
<path fill="#1c4424" d="M176.5 58.00h2.0v2.97h-2.0zM194.5 40.50h2.0v2.97h-2.0zM250.5 52.17h2.0v2.97h-2.0zM260.5 46.33h2.0v2.97h-2.0zM260.5 52.17h2.0v2.97h-2.0zM274.5 95.92h2.0v2.97h-2.0zM284.5 113.42h2.0v2.97h-2.0zM286.5 75.50h2.0v2.97h-2.0zM286.5 78.42h2.0v2.97h-2.0zM286.5 84.25h2.0v2.97h-2.0zM286.5 90.08h2.0v2.97h-2.0zM288.5 72.58h2.0v2.97h-2.0z"/>
<path fill="#244424" d="M176.5 63.83h2.0v2.97h-2.0zM176.5 136.75h2.0v2.97h-2.0zM248.5 93.00h2.0v2.97h-2.0zM248.5 98.83h2.0v2.97h-2.0zM248.5 116.33h2.0v2.97h-2.0zM248.5 128.00h2.0v2.97h-2.0zM260.5 55.08h2.0v2.97h-2.0zM260.5 107.58h2.0v2.97h-2.0zM260.5 110.50h2.0v2.97h-2.0zM298.5 46.33h0.5v2.97h-0.5zM298.5 52.17h0.5v2.97h-0.5zM298.5 55.08h0.5v2.97h-0.5zM298.5 63.83h0.5v2.97h-0.5zM298.5 93.00h0.5v2.97h-0.5zM298.5 101.75h0.5v2.97h-0.5zM298.5 125.08h0.5v2.97h-0.5zM298.5 130.92h0.5v2.97h-0.5z"/>
<path fill="#0c2414" d="M176.5 66.75h2.0v2.97h-2.0zM194.5 110.50h2.0v2.97h-2.0zM194.5 116.33h2.0v2.97h-2.0zM194.5 119.25h2.0v2.97h-2.0zM196.5 60.92h2.0v2.97h-2.0zM196.5 87.17h2.0v2.97h-2.0zM196.5 125.08h2.0v2.97h-2.0zM198.5 49.25h2.0v2.97h-2.0zM240.5 55.08h2.0v2.97h-2.0zM240.5 119.25h2.0v2.97h-2.0zM240.5 136.75h2.0v2.97h-2.0zM250.5 49.25h2.0v2.97h-2.0zM250.5 93.00h2.0v2.97h-2.0zM250.5 136.75h2.0v2.97h-2.0zM252.5 58.00h2.0v2.97h-2.0zM252.5 78.42h2.0v2.97h-2.0zM252.5 84.25h2.0v2.97h-2.0zM252.5 93.00h2.0v2.97h-2.0zM252.5 142.58h2.0v2.97h-2.0zM258.5 84.25h2.0v2.97h-2.0zM258.5 90.08h2.0v2.97h-2.0zM260.5 101.75h2.0v2.97h-2.0zM260.5 133.83h2.0v2.97h-2.0zM270.5 40.50h2.0v2.97h-2.0zM270.5 60.92h2.0v2.97h-2.0zM270.5 69.67h2.0v2.97h-2.0zM270.5 78.42h2.0v2.97h-2.0zM270.5 130.92h2.0v2.97h-2.0zM272.5 72.58h2.0v2.97h-2.0zM272.5 84.25h2.0v2.97h-2.0zM272.5 90.08h2.0v2.97h-2.0zM272.5 128.00h2.0v2.97h-2.0zM272.5 142.58h2.0v2.97h-2.0zM274.5 49.25h2.0v2.97h-2.0zM274.5 58.00h2.0v2.97h-2.0zM274.5 60.92h2.0v2.97h-2.0zM286.5 40.50h2.0v2.97h-2.0zM286.5 49.25h2.0v2.97h-2.0zM286.5 58.00h2.0v2.97h-2.0zM286.5 87.17h2.0v2.97h-2.0zM286.5 95.92h2.0v2.97h-2.0zM286.5 107.58h2.0v2.97h-2.0zM286.5 128.00h2.0v2.97h-2.0zM286.5 139.67h2.0v2.97h-2.0zM286.5 142.58h2.0v2.97h-2.0zM288.5 40.50h2.0v2.97h-2.0zM288.5 66.75h2.0v2.97h-2.0zM288.5 78.42h2.0v2.97h-2.0zM288.5 81.33h2.0v2.97h-2.0zM288.5 84.25h2.0v2.97h-2.0zM288.5 139.67h2.0v2.97h-2.0zM288.5 142.58h2.0v2.97h-2.0z"/>
<path fill="#1c3c1c" d="M176.5 72.58h2.0v2.97h-2.0zM176.5 87.17h2.0v2.97h-2.0zM176.5 107.58h2.0v2.97h-2.0zM176.5 116.33h2.0v2.97h-2.0zM176.5 122.17h2.0v2.97h-2.0zM176.5 125.08h2.0v2.97h-2.0zM176.5 133.83h2.0v2.97h-2.0zM194.5 43.42h2.0v2.97h-2.0zM194.5 84.25h2.0v2.97h-2.0zM194.5 98.83h2.0v2.97h-2.0zM194.5 101.75h2.0v2.97h-2.0zM194.5 122.17h2.0v2.97h-2.0zM194.5 133.83h2.0v2.97h-2.0zM194.5 142.58h2.0v2.97h-2.0zM248.5 90.08h2.0v2.97h-2.0zM250.5 95.92h2.0v2.97h-2.0zM250.5 104.67h2.0v2.97h-2.0zM250.5 142.58h2.0v2.97h-2.0zM252.5 43.42h2.0v2.97h-2.0zM252.5 55.08h2.0v2.97h-2.0zM252.5 66.75h2.0v2.97h-2.0zM252.5 72.58h2.0v2.97h-2.0zM252.5 87.17h2.0v2.97h-2.0zM252.5 95.92h2.0v2.97h-2.0zM256.5 46.33h2.0v2.97h-2.0zM256.5 101.75h2.0v2.97h-2.0zM256.5 125.08h2.0v2.97h-2.0zM260.5 49.25h2.0v2.97h-2.0zM260.5 84.25h2.0v2.97h-2.0zM260.5 95.92h2.0v2.97h-2.0zM298.5 95.92h0.5v2.97h-0.5zM298.5 110.50h0.5v2.97h-0.5z"/>
<path fill="#142414" d="M176.5 78.42h2.0v2.97h-2.0zM176.5 81.33h2.0v2.97h-2.0zM176.5 84.25h2.0v2.97h-2.0zM176.5 90.08h2.0v2.97h-2.0zM194.5 104.67h2.0v2.97h-2.0zM194.5 107.58h2.0v2.97h-2.0zM196.5 43.42h2.0v2.97h-2.0zM196.5 84.25h2.0v2.97h-2.0zM196.5 116.33h2.0v2.97h-2.0zM196.5 128.00h2.0v2.97h-2.0zM196.5 142.58h2.0v2.97h-2.0zM198.5 46.33h2.0v2.97h-2.0zM198.5 52.17h2.0v2.97h-2.0zM198.5 72.58h2.0v2.97h-2.0zM198.5 75.50h2.0v2.97h-2.0zM198.5 81.33h2.0v2.97h-2.0zM198.5 90.08h2.0v2.97h-2.0zM198.5 93.00h2.0v2.97h-2.0zM198.5 104.67h2.0v2.97h-2.0zM198.5 113.42h2.0v2.97h-2.0zM198.5 119.25h2.0v2.97h-2.0zM240.5 58.00h2.0v2.97h-2.0zM240.5 60.92h2.0v2.97h-2.0zM240.5 63.83h2.0v2.97h-2.0zM240.5 69.67h2.0v2.97h-2.0zM240.5 87.17h2.0v2.97h-2.0zM240.5 90.08h2.0v2.97h-2.0zM240.5 95.92h2.0v2.97h-2.0zM240.5 98.83h2.0v2.97h-2.0zM240.5 101.75h2.0v2.97h-2.0zM240.5 104.67h2.0v2.97h-2.0zM240.5 113.42h2.0v2.97h-2.0zM240.5 142.58h2.0v2.97h-2.0zM248.5 46.33h2.0v2.97h-2.0zM248.5 49.25h2.0v2.97h-2.0zM248.5 55.08h2.0v2.97h-2.0zM248.5 63.83h2.0v2.97h-2.0zM248.5 66.75h2.0v2.97h-2.0zM248.5 81.33h2.0v2.97h-2.0zM248.5 101.75h2.0v2.97h-2.0zM248.5 113.42h2.0v2.97h-2.0zM248.5 122.17h2.0v2.97h-2.0zM248.5 136.75h2.0v2.97h-2.0zM250.5 40.50h2.0v2.97h-2.0zM250.5 58.00h2.0v2.97h-2.0zM250.5 81.33h2.0v2.97h-2.0zM250.5 113.42h2.0v2.97h-2.0zM250.5 116.33h2.0v2.97h-2.0zM250.5 128.00h2.0v2.97h-2.0zM250.5 139.67h2.0v2.97h-2.0zM252.5 46.33h2.0v2.97h-2.0zM252.5 98.83h2.0v2.97h-2.0zM252.5 101.75h2.0v2.97h-2.0zM252.5 104.67h2.0v2.97h-2.0zM252.5 113.42h2.0v2.97h-2.0zM252.5 128.00h2.0v2.97h-2.0zM256.5 55.08h2.0v2.97h-2.0zM256.5 66.75h2.0v2.97h-2.0zM256.5 72.58h2.0v2.97h-2.0zM256.5 75.50h2.0v2.97h-2.0zM256.5 119.25h2.0v2.97h-2.0zM256.5 128.00h2.0v2.97h-2.0zM256.5 136.75h2.0v2.97h-2.0zM258.5 46.33h2.0v2.97h-2.0zM258.5 52.17h2.0v2.97h-2.0zM258.5 55.08h2.0v2.97h-2.0zM258.5 95.92h2.0v2.97h-2.0zM258.5 110.50h2.0v2.97h-2.0zM258.5 122.17h2.0v2.97h-2.0zM258.5 125.08h2.0v2.97h-2.0zM258.5 128.00h2.0v2.97h-2.0zM258.5 130.92h2.0v2.97h-2.0zM258.5 133.83h2.0v2.97h-2.0zM258.5 142.58h2.0v2.97h-2.0zM260.5 60.92h2.0v2.97h-2.0zM260.5 75.50h2.0v2.97h-2.0zM260.5 81.33h2.0v2.97h-2.0zM260.5 104.67h2.0v2.97h-2.0zM260.5 113.42h2.0v2.97h-2.0zM260.5 136.75h2.0v2.97h-2.0zM260.5 139.67h2.0v2.97h-2.0zM260.5 142.58h2.0v2.97h-2.0zM296.5 40.50h2.0v2.97h-2.0zM296.5 46.33h2.0v2.97h-2.0zM296.5 52.17h2.0v2.97h-2.0zM296.5 58.00h2.0v2.97h-2.0zM296.5 63.83h2.0v2.97h-2.0zM296.5 66.75h2.0v2.97h-2.0zM296.5 75.50h2.0v2.97h-2.0zM296.5 84.25h2.0v2.97h-2.0zM296.5 87.17h2.0v2.97h-2.0zM296.5 90.08h2.0v2.97h-2.0zM296.5 93.00h2.0v2.97h-2.0zM296.5 101.75h2.0v2.97h-2.0zM296.5 104.67h2.0v2.97h-2.0zM296.5 107.58h2.0v2.97h-2.0zM296.5 113.42h2.0v2.97h-2.0zM296.5 142.58h2.0v2.97h-2.0zM298.5 43.42h0.5v2.97h-0.5zM298.5 58.00h0.5v2.97h-0.5zM298.5 78.42h0.5v2.97h-0.5zM298.5 81.33h0.5v2.97h-0.5zM298.5 128.00h0.5v2.97h-0.5zM298.5 142.58h0.5v2.97h-0.5z"/>
<path fill="#1c3c24" d="M176.5 93.00h2.0v2.97h-2.0zM176.5 128.00h2.0v2.97h-2.0zM194.5 58.00h2.0v2.97h-2.0zM194.5 66.75h2.0v2.97h-2.0zM194.5 78.42h2.0v2.97h-2.0zM194.5 113.42h2.0v2.97h-2.0zM248.5 43.42h2.0v2.97h-2.0zM248.5 87.17h2.0v2.97h-2.0zM248.5 133.83h2.0v2.97h-2.0zM250.5 98.83h2.0v2.97h-2.0zM250.5 110.50h2.0v2.97h-2.0zM250.5 122.17h2.0v2.97h-2.0zM256.5 49.25h2.0v2.97h-2.0zM256.5 52.17h2.0v2.97h-2.0zM256.5 60.92h2.0v2.97h-2.0zM256.5 122.17h2.0v2.97h-2.0zM256.5 133.83h2.0v2.97h-2.0zM256.5 142.58h2.0v2.97h-2.0zM260.5 69.67h2.0v2.97h-2.0z"/>
<path fill="#142c1c" d="M176.5 95.92h2.0v2.97h-2.0zM194.5 52.17h2.0v2.97h-2.0zM194.5 55.08h2.0v2.97h-2.0zM194.5 63.83h2.0v2.97h-2.0zM194.5 69.67h2.0v2.97h-2.0zM198.5 84.25h2.0v2.97h-2.0zM198.5 98.83h2.0v2.97h-2.0zM198.5 110.50h2.0v2.97h-2.0zM198.5 139.67h2.0v2.97h-2.0zM248.5 69.67h2.0v2.97h-2.0zM250.5 55.08h2.0v2.97h-2.0zM250.5 66.75h2.0v2.97h-2.0zM250.5 84.25h2.0v2.97h-2.0zM252.5 75.50h2.0v2.97h-2.0zM252.5 125.08h2.0v2.97h-2.0zM256.5 81.33h2.0v2.97h-2.0z"/>
<path fill="#0c1c0c" d="M194.5 46.33h2.0v2.97h-2.0zM196.5 40.50h2.0v2.97h-2.0zM196.5 58.00h2.0v2.97h-2.0zM196.5 69.67h2.0v2.97h-2.0zM196.5 72.58h2.0v2.97h-2.0zM196.5 75.50h2.0v2.97h-2.0zM196.5 78.42h2.0v2.97h-2.0zM196.5 95.92h2.0v2.97h-2.0zM196.5 107.58h2.0v2.97h-2.0zM196.5 110.50h2.0v2.97h-2.0zM196.5 119.25h2.0v2.97h-2.0zM196.5 130.92h2.0v2.97h-2.0zM196.5 136.75h2.0v2.97h-2.0zM198.5 43.42h2.0v2.97h-2.0zM198.5 58.00h2.0v2.97h-2.0zM198.5 63.83h2.0v2.97h-2.0zM198.5 107.58h2.0v2.97h-2.0zM198.5 128.00h2.0v2.97h-2.0zM198.5 130.92h2.0v2.97h-2.0zM198.5 136.75h2.0v2.97h-2.0zM198.5 142.58h2.0v2.97h-2.0zM240.5 40.50h2.0v2.97h-2.0zM240.5 43.42h2.0v2.97h-2.0zM240.5 49.25h2.0v2.97h-2.0zM240.5 72.58h2.0v2.97h-2.0zM240.5 78.42h2.0v2.97h-2.0zM240.5 93.00h2.0v2.97h-2.0zM240.5 107.58h2.0v2.97h-2.0zM240.5 116.33h2.0v2.97h-2.0zM240.5 122.17h2.0v2.97h-2.0zM240.5 125.08h2.0v2.97h-2.0zM240.5 133.83h2.0v2.97h-2.0zM240.5 139.67h2.0v2.97h-2.0zM250.5 60.92h2.0v2.97h-2.0zM250.5 69.67h2.0v2.97h-2.0zM250.5 130.92h2.0v2.97h-2.0zM252.5 52.17h2.0v2.97h-2.0zM252.5 110.50h2.0v2.97h-2.0zM252.5 122.17h2.0v2.97h-2.0zM252.5 139.67h2.0v2.97h-2.0zM256.5 104.67h2.0v2.97h-2.0zM258.5 43.42h2.0v2.97h-2.0zM258.5 49.25h2.0v2.97h-2.0zM258.5 66.75h2.0v2.97h-2.0zM258.5 75.50h2.0v2.97h-2.0zM258.5 78.42h2.0v2.97h-2.0zM258.5 93.00h2.0v2.97h-2.0zM258.5 98.83h2.0v2.97h-2.0zM258.5 104.67h2.0v2.97h-2.0zM258.5 116.33h2.0v2.97h-2.0zM272.5 78.42h2.0v2.97h-2.0zM272.5 101.75h2.0v2.97h-2.0zM272.5 116.33h2.0v2.97h-2.0zM288.5 101.75h2.0v2.97h-2.0zM296.5 43.42h2.0v2.97h-2.0zM296.5 60.92h2.0v2.97h-2.0zM296.5 69.67h2.0v2.97h-2.0zM296.5 72.58h2.0v2.97h-2.0zM296.5 78.42h2.0v2.97h-2.0zM296.5 98.83h2.0v2.97h-2.0zM296.5 116.33h2.0v2.97h-2.0zM296.5 119.25h2.0v2.97h-2.0zM296.5 128.00h2.0v2.97h-2.0zM296.5 130.92h2.0v2.97h-2.0zM296.5 136.75h2.0v2.97h-2.0zM296.5 139.67h2.0v2.97h-2.0zM298.5 75.50h0.5v2.97h-0.5zM298.5 133.83h0.5v2.97h-0.5zM298.5 136.75h0.5v2.97h-0.5z"/>
<path fill="#0c140c" d="M196.5 55.08h2.0v2.97h-2.0zM196.5 63.83h2.0v2.97h-2.0zM196.5 93.00h2.0v2.97h-2.0zM196.5 113.42h2.0v2.97h-2.0zM198.5 40.50h2.0v2.97h-2.0zM198.5 87.17h2.0v2.97h-2.0zM198.5 95.92h2.0v2.97h-2.0zM198.5 101.75h2.0v2.97h-2.0zM240.5 46.33h2.0v2.97h-2.0zM240.5 75.50h2.0v2.97h-2.0zM240.5 81.33h2.0v2.97h-2.0zM240.5 84.25h2.0v2.97h-2.0zM240.5 110.50h2.0v2.97h-2.0zM240.5 130.92h2.0v2.97h-2.0zM258.5 58.00h2.0v2.97h-2.0zM258.5 60.92h2.0v2.97h-2.0zM258.5 63.83h2.0v2.97h-2.0zM258.5 69.67h2.0v2.97h-2.0zM258.5 72.58h2.0v2.97h-2.0zM258.5 81.33h2.0v2.97h-2.0zM258.5 101.75h2.0v2.97h-2.0zM258.5 107.58h2.0v2.97h-2.0zM258.5 113.42h2.0v2.97h-2.0zM258.5 139.67h2.0v2.97h-2.0zM296.5 49.25h2.0v2.97h-2.0zM296.5 55.08h2.0v2.97h-2.0zM296.5 81.33h2.0v2.97h-2.0zM296.5 95.92h2.0v2.97h-2.0zM296.5 110.50h2.0v2.97h-2.0zM296.5 122.17h2.0v2.97h-2.0zM296.5 125.08h2.0v2.97h-2.0zM296.5 133.83h2.0v2.97h-2.0z"/>
<path fill="#2c8c34" d="M202.5 40.50h2.0v2.97h-2.0zM202.5 69.67h2.0v2.97h-2.0zM202.5 128.00h2.0v2.97h-2.0zM202.5 142.58h2.0v2.97h-2.0zM204.5 43.42h2.0v2.97h-2.0zM204.5 60.92h2.0v2.97h-2.0zM204.5 107.58h2.0v2.97h-2.0zM204.5 110.50h2.0v2.97h-2.0zM204.5 122.17h2.0v2.97h-2.0zM206.5 69.67h2.0v2.97h-2.0zM206.5 98.83h2.0v2.97h-2.0zM206.5 142.58h2.0v2.97h-2.0zM208.5 60.92h2.0v2.97h-2.0zM216.5 69.67h2.0v2.97h-2.0zM216.5 95.92h2.0v2.97h-2.0zM216.5 119.25h2.0v2.97h-2.0zM218.5 101.75h2.0v2.97h-2.0zM262.5 66.75h2.0v2.97h-2.0zM262.5 119.25h2.0v2.97h-2.0zM264.5 40.50h2.0v2.97h-2.0zM264.5 122.17h2.0v2.97h-2.0zM264.5 142.58h2.0v2.97h-2.0zM266.5 40.50h2.0v2.97h-2.0zM266.5 49.25h2.0v2.97h-2.0zM268.5 122.17h2.0v2.97h-2.0z"/>
<path fill="#24742c" d="M202.5 43.42h2.0v2.97h-2.0zM202.5 49.25h2.0v2.97h-2.0zM202.5 78.42h2.0v2.97h-2.0zM202.5 93.00h2.0v2.97h-2.0zM202.5 95.92h2.0v2.97h-2.0zM202.5 113.42h2.0v2.97h-2.0zM202.5 130.92h2.0v2.97h-2.0zM204.5 40.50h2.0v2.97h-2.0zM204.5 49.25h2.0v2.97h-2.0zM204.5 55.08h2.0v2.97h-2.0zM204.5 75.50h2.0v2.97h-2.0zM204.5 81.33h2.0v2.97h-2.0zM204.5 95.92h2.0v2.97h-2.0zM204.5 98.83h2.0v2.97h-2.0zM204.5 116.33h2.0v2.97h-2.0zM204.5 119.25h2.0v2.97h-2.0zM204.5 125.08h2.0v2.97h-2.0zM204.5 133.83h2.0v2.97h-2.0zM204.5 139.67h2.0v2.97h-2.0zM290.5 119.25h2.0v2.97h-2.0z"/>
<path fill="#2c943c" d="M202.5 46.33h2.0v2.97h-2.0zM202.5 52.17h2.0v2.97h-2.0zM202.5 55.08h2.0v2.97h-2.0zM202.5 58.00h2.0v2.97h-2.0zM202.5 75.50h2.0v2.97h-2.0zM202.5 84.25h2.0v2.97h-2.0zM202.5 101.75h2.0v2.97h-2.0zM202.5 104.67h2.0v2.97h-2.0zM202.5 110.50h2.0v2.97h-2.0zM202.5 119.25h2.0v2.97h-2.0zM202.5 125.08h2.0v2.97h-2.0zM206.5 46.33h2.0v2.97h-2.0zM206.5 52.17h2.0v2.97h-2.0zM206.5 55.08h2.0v2.97h-2.0zM206.5 58.00h2.0v2.97h-2.0zM206.5 87.17h2.0v2.97h-2.0zM206.5 93.00h2.0v2.97h-2.0zM206.5 95.92h2.0v2.97h-2.0zM206.5 119.25h2.0v2.97h-2.0zM206.5 133.83h2.0v2.97h-2.0zM208.5 72.58h2.0v2.97h-2.0zM208.5 75.50h2.0v2.97h-2.0zM208.5 84.25h2.0v2.97h-2.0zM208.5 90.08h2.0v2.97h-2.0zM208.5 93.00h2.0v2.97h-2.0zM208.5 95.92h2.0v2.97h-2.0zM208.5 128.00h2.0v2.97h-2.0zM208.5 139.67h2.0v2.97h-2.0zM210.5 43.42h2.0v2.97h-2.0zM210.5 55.08h2.0v2.97h-2.0zM210.5 101.75h2.0v2.97h-2.0zM210.5 119.25h2.0v2.97h-2.0zM212.5 55.08h2.0v2.97h-2.0zM212.5 84.25h2.0v2.97h-2.0zM212.5 116.33h2.0v2.97h-2.0zM212.5 133.83h2.0v2.97h-2.0zM212.5 139.67h2.0v2.97h-2.0zM214.5 40.50h2.0v2.97h-2.0zM214.5 78.42h2.0v2.97h-2.0zM214.5 84.25h2.0v2.97h-2.0zM214.5 93.00h2.0v2.97h-2.0zM214.5 110.50h2.0v2.97h-2.0zM214.5 133.83h2.0v2.97h-2.0zM216.5 101.75h2.0v2.97h-2.0zM216.5 110.50h2.0v2.97h-2.0zM216.5 130.92h2.0v2.97h-2.0zM216.5 136.75h2.0v2.97h-2.0zM218.5 63.83h2.0v2.97h-2.0zM218.5 66.75h2.0v2.97h-2.0zM218.5 81.33h2.0v2.97h-2.0zM218.5 90.08h2.0v2.97h-2.0zM218.5 95.92h2.0v2.97h-2.0zM218.5 116.33h2.0v2.97h-2.0zM218.5 125.08h2.0v2.97h-2.0zM218.5 133.83h2.0v2.97h-2.0zM218.5 136.75h2.0v2.97h-2.0zM262.5 40.50h2.0v2.97h-2.0zM262.5 43.42h2.0v2.97h-2.0zM262.5 49.25h2.0v2.97h-2.0zM262.5 52.17h2.0v2.97h-2.0zM262.5 75.50h2.0v2.97h-2.0zM262.5 81.33h2.0v2.97h-2.0zM262.5 87.17h2.0v2.97h-2.0zM262.5 90.08h2.0v2.97h-2.0zM262.5 101.75h2.0v2.97h-2.0zM262.5 104.67h2.0v2.97h-2.0zM262.5 107.58h2.0v2.97h-2.0zM262.5 116.33h2.0v2.97h-2.0zM262.5 133.83h2.0v2.97h-2.0zM264.5 43.42h2.0v2.97h-2.0zM264.5 49.25h2.0v2.97h-2.0zM264.5 58.00h2.0v2.97h-2.0zM264.5 60.92h2.0v2.97h-2.0zM264.5 63.83h2.0v2.97h-2.0zM264.5 75.50h2.0v2.97h-2.0zM264.5 87.17h2.0v2.97h-2.0zM264.5 93.00h2.0v2.97h-2.0zM264.5 98.83h2.0v2.97h-2.0zM264.5 107.58h2.0v2.97h-2.0zM264.5 113.42h2.0v2.97h-2.0zM266.5 46.33h2.0v2.97h-2.0zM266.5 52.17h2.0v2.97h-2.0zM266.5 69.67h2.0v2.97h-2.0zM266.5 81.33h2.0v2.97h-2.0zM266.5 84.25h2.0v2.97h-2.0zM266.5 98.83h2.0v2.97h-2.0zM266.5 107.58h2.0v2.97h-2.0zM266.5 128.00h2.0v2.97h-2.0zM266.5 136.75h2.0v2.97h-2.0zM266.5 139.67h2.0v2.97h-2.0zM268.5 58.00h2.0v2.97h-2.0zM268.5 75.50h2.0v2.97h-2.0zM268.5 84.25h2.0v2.97h-2.0zM268.5 107.58h2.0v2.97h-2.0zM268.5 110.50h2.0v2.97h-2.0zM268.5 130.92h2.0v2.97h-2.0zM268.5 133.83h2.0v2.97h-2.0zM294.5 43.42h2.0v2.97h-2.0zM294.5 119.25h2.0v2.97h-2.0z"/>
<path fill="#2c8434" d="M202.5 60.92h2.0v2.97h-2.0zM202.5 72.58h2.0v2.97h-2.0zM202.5 87.17h2.0v2.97h-2.0zM202.5 90.08h2.0v2.97h-2.0zM202.5 116.33h2.0v2.97h-2.0zM204.5 78.42h2.0v2.97h-2.0zM204.5 93.00h2.0v2.97h-2.0zM290.5 110.50h2.0v2.97h-2.0zM294.5 52.17h2.0v2.97h-2.0zM294.5 69.67h2.0v2.97h-2.0zM294.5 113.42h2.0v2.97h-2.0z"/>
<path fill="#247c34" d="M202.5 63.83h2.0v2.97h-2.0zM202.5 66.75h2.0v2.97h-2.0zM202.5 98.83h2.0v2.97h-2.0zM202.5 107.58h2.0v2.97h-2.0zM202.5 122.17h2.0v2.97h-2.0zM202.5 133.83h2.0v2.97h-2.0zM202.5 139.67h2.0v2.97h-2.0zM204.5 66.75h2.0v2.97h-2.0zM204.5 72.58h2.0v2.97h-2.0zM204.5 87.17h2.0v2.97h-2.0zM204.5 90.08h2.0v2.97h-2.0zM204.5 113.42h2.0v2.97h-2.0zM204.5 128.00h2.0v2.97h-2.0zM204.5 136.75h2.0v2.97h-2.0zM262.5 60.92h2.0v2.97h-2.0zM262.5 69.67h2.0v2.97h-2.0zM262.5 72.58h2.0v2.97h-2.0zM262.5 93.00h2.0v2.97h-2.0zM262.5 98.83h2.0v2.97h-2.0zM262.5 113.42h2.0v2.97h-2.0zM262.5 122.17h2.0v2.97h-2.0zM262.5 125.08h2.0v2.97h-2.0zM262.5 130.92h2.0v2.97h-2.0zM264.5 46.33h2.0v2.97h-2.0zM264.5 81.33h2.0v2.97h-2.0zM264.5 110.50h2.0v2.97h-2.0zM264.5 116.33h2.0v2.97h-2.0zM264.5 119.25h2.0v2.97h-2.0zM264.5 125.08h2.0v2.97h-2.0zM264.5 139.67h2.0v2.97h-2.0zM266.5 55.08h2.0v2.97h-2.0zM266.5 58.00h2.0v2.97h-2.0zM266.5 101.75h2.0v2.97h-2.0zM266.5 122.17h2.0v2.97h-2.0zM266.5 133.83h2.0v2.97h-2.0zM268.5 60.92h2.0v2.97h-2.0zM268.5 63.83h2.0v2.97h-2.0zM268.5 69.67h2.0v2.97h-2.0zM268.5 78.42h2.0v2.97h-2.0zM268.5 81.33h2.0v2.97h-2.0zM268.5 93.00h2.0v2.97h-2.0zM268.5 95.92h2.0v2.97h-2.0zM268.5 101.75h2.0v2.97h-2.0zM268.5 136.75h2.0v2.97h-2.0zM268.5 139.67h2.0v2.97h-2.0zM290.5 98.83h2.0v2.97h-2.0zM290.5 130.92h2.0v2.97h-2.0zM292.5 40.50h2.0v2.97h-2.0zM292.5 63.83h2.0v2.97h-2.0zM292.5 122.17h2.0v2.97h-2.0zM294.5 58.00h2.0v2.97h-2.0zM294.5 75.50h2.0v2.97h-2.0z"/>
<path fill="#248434" d="M202.5 81.33h2.0v2.97h-2.0zM202.5 136.75h2.0v2.97h-2.0zM204.5 52.17h2.0v2.97h-2.0zM204.5 58.00h2.0v2.97h-2.0zM204.5 63.83h2.0v2.97h-2.0zM204.5 84.25h2.0v2.97h-2.0zM204.5 130.92h2.0v2.97h-2.0zM204.5 142.58h2.0v2.97h-2.0zM262.5 46.33h2.0v2.97h-2.0zM262.5 55.08h2.0v2.97h-2.0zM262.5 78.42h2.0v2.97h-2.0zM262.5 84.25h2.0v2.97h-2.0zM262.5 110.50h2.0v2.97h-2.0zM262.5 136.75h2.0v2.97h-2.0zM262.5 139.67h2.0v2.97h-2.0zM264.5 52.17h2.0v2.97h-2.0zM264.5 55.08h2.0v2.97h-2.0zM264.5 69.67h2.0v2.97h-2.0zM264.5 72.58h2.0v2.97h-2.0zM264.5 78.42h2.0v2.97h-2.0zM264.5 84.25h2.0v2.97h-2.0zM264.5 101.75h2.0v2.97h-2.0zM264.5 104.67h2.0v2.97h-2.0zM264.5 136.75h2.0v2.97h-2.0zM266.5 43.42h2.0v2.97h-2.0zM266.5 60.92h2.0v2.97h-2.0zM266.5 66.75h2.0v2.97h-2.0zM266.5 72.58h2.0v2.97h-2.0zM266.5 75.50h2.0v2.97h-2.0zM266.5 87.17h2.0v2.97h-2.0zM266.5 110.50h2.0v2.97h-2.0zM266.5 130.92h2.0v2.97h-2.0zM268.5 43.42h2.0v2.97h-2.0zM268.5 55.08h2.0v2.97h-2.0zM268.5 87.17h2.0v2.97h-2.0zM268.5 90.08h2.0v2.97h-2.0zM268.5 104.67h2.0v2.97h-2.0zM268.5 125.08h2.0v2.97h-2.0zM268.5 128.00h2.0v2.97h-2.0z"/>
<path fill="#247c2c" d="M204.5 46.33h2.0v2.97h-2.0zM204.5 104.67h2.0v2.97h-2.0zM266.5 113.42h2.0v2.97h-2.0zM268.5 40.50h2.0v2.97h-2.0zM268.5 46.33h2.0v2.97h-2.0zM268.5 52.17h2.0v2.97h-2.0zM268.5 66.75h2.0v2.97h-2.0z"/>
<path fill="#246c2c" d="M204.5 69.67h2.0v2.97h-2.0zM276.5 43.42h2.0v2.97h-2.0zM276.5 87.17h2.0v2.97h-2.0zM276.5 101.75h2.0v2.97h-2.0zM278.5 40.50h2.0v2.97h-2.0zM278.5 55.08h2.0v2.97h-2.0zM278.5 66.75h2.0v2.97h-2.0zM278.5 69.67h2.0v2.97h-2.0zM278.5 78.42h2.0v2.97h-2.0zM278.5 142.58h2.0v2.97h-2.0zM280.5 46.33h2.0v2.97h-2.0zM280.5 49.25h2.0v2.97h-2.0zM280.5 52.17h2.0v2.97h-2.0zM280.5 55.08h2.0v2.97h-2.0zM290.5 43.42h2.0v2.97h-2.0zM290.5 66.75h2.0v2.97h-2.0zM290.5 72.58h2.0v2.97h-2.0zM290.5 113.42h2.0v2.97h-2.0zM292.5 43.42h2.0v2.97h-2.0zM292.5 49.25h2.0v2.97h-2.0zM292.5 69.67h2.0v2.97h-2.0zM292.5 87.17h2.0v2.97h-2.0zM292.5 93.00h2.0v2.97h-2.0zM292.5 104.67h2.0v2.97h-2.0zM292.5 133.83h2.0v2.97h-2.0zM292.5 136.75h2.0v2.97h-2.0zM294.5 46.33h2.0v2.97h-2.0zM294.5 66.75h2.0v2.97h-2.0zM294.5 90.08h2.0v2.97h-2.0zM294.5 104.67h2.0v2.97h-2.0zM294.5 107.58h2.0v2.97h-2.0zM294.5 136.75h2.0v2.97h-2.0z"/>
<path fill="#2c8c3c" d="M204.5 101.75h2.0v2.97h-2.0zM206.5 113.42h2.0v2.97h-2.0zM206.5 130.92h2.0v2.97h-2.0zM212.5 75.50h2.0v2.97h-2.0zM212.5 81.33h2.0v2.97h-2.0zM214.5 90.08h2.0v2.97h-2.0zM262.5 95.92h2.0v2.97h-2.0zM262.5 128.00h2.0v2.97h-2.0zM294.5 95.92h2.0v2.97h-2.0zM294.5 98.83h2.0v2.97h-2.0z"/>
<path fill="#34a43c" d="M206.5 40.50h2.0v2.97h-2.0zM206.5 63.83h2.0v2.97h-2.0zM206.5 75.50h2.0v2.97h-2.0zM208.5 55.08h2.0v2.97h-2.0zM208.5 110.50h2.0v2.97h-2.0zM210.5 139.67h2.0v2.97h-2.0zM212.5 52.17h2.0v2.97h-2.0zM212.5 90.08h2.0v2.97h-2.0zM212.5 125.08h2.0v2.97h-2.0zM214.5 63.83h2.0v2.97h-2.0zM216.5 52.17h2.0v2.97h-2.0zM216.5 60.92h2.0v2.97h-2.0z"/>
<path fill="#2c9c3c" d="M206.5 43.42h2.0v2.97h-2.0zM206.5 49.25h2.0v2.97h-2.0zM206.5 101.75h2.0v2.97h-2.0zM206.5 107.58h2.0v2.97h-2.0zM208.5 49.25h2.0v2.97h-2.0zM208.5 87.17h2.0v2.97h-2.0zM208.5 98.83h2.0v2.97h-2.0zM210.5 90.08h2.0v2.97h-2.0zM210.5 110.50h2.0v2.97h-2.0zM210.5 116.33h2.0v2.97h-2.0zM210.5 125.08h2.0v2.97h-2.0zM212.5 63.83h2.0v2.97h-2.0zM212.5 98.83h2.0v2.97h-2.0zM212.5 101.75h2.0v2.97h-2.0zM212.5 104.67h2.0v2.97h-2.0zM212.5 113.42h2.0v2.97h-2.0zM212.5 119.25h2.0v2.97h-2.0zM214.5 43.42h2.0v2.97h-2.0zM214.5 52.17h2.0v2.97h-2.0zM214.5 104.67h2.0v2.97h-2.0zM216.5 40.50h2.0v2.97h-2.0zM216.5 49.25h2.0v2.97h-2.0zM216.5 63.83h2.0v2.97h-2.0zM216.5 98.83h2.0v2.97h-2.0zM216.5 122.17h2.0v2.97h-2.0zM216.5 142.58h2.0v2.97h-2.0zM218.5 52.17h2.0v2.97h-2.0zM218.5 78.42h2.0v2.97h-2.0zM218.5 98.83h2.0v2.97h-2.0zM218.5 104.67h2.0v2.97h-2.0zM218.5 107.58h2.0v2.97h-2.0zM218.5 119.25h2.0v2.97h-2.0zM218.5 128.00h2.0v2.97h-2.0zM218.5 139.67h2.0v2.97h-2.0zM218.5 142.58h2.0v2.97h-2.0zM262.5 63.83h2.0v2.97h-2.0zM264.5 66.75h2.0v2.97h-2.0zM264.5 90.08h2.0v2.97h-2.0zM264.5 95.92h2.0v2.97h-2.0zM264.5 128.00h2.0v2.97h-2.0zM264.5 130.92h2.0v2.97h-2.0zM266.5 93.00h2.0v2.97h-2.0zM266.5 95.92h2.0v2.97h-2.0zM266.5 116.33h2.0v2.97h-2.0zM266.5 119.25h2.0v2.97h-2.0zM268.5 49.25h2.0v2.97h-2.0zM268.5 98.83h2.0v2.97h-2.0zM268.5 113.42h2.0v2.97h-2.0zM268.5 119.25h2.0v2.97h-2.0zM268.5 142.58h2.0v2.97h-2.0z"/>
<path fill="#34b444" d="M206.5 60.92h2.0v2.97h-2.0zM206.5 66.75h2.0v2.97h-2.0zM206.5 72.58h2.0v2.97h-2.0zM206.5 110.50h2.0v2.97h-2.0zM208.5 46.33h2.0v2.97h-2.0zM208.5 52.17h2.0v2.97h-2.0zM208.5 58.00h2.0v2.97h-2.0zM208.5 63.83h2.0v2.97h-2.0zM208.5 119.25h2.0v2.97h-2.0zM208.5 133.83h2.0v2.97h-2.0zM210.5 52.17h2.0v2.97h-2.0zM210.5 58.00h2.0v2.97h-2.0zM210.5 66.75h2.0v2.97h-2.0zM210.5 69.67h2.0v2.97h-2.0zM210.5 72.58h2.0v2.97h-2.0zM210.5 81.33h2.0v2.97h-2.0zM210.5 84.25h2.0v2.97h-2.0zM210.5 87.17h2.0v2.97h-2.0zM210.5 107.58h2.0v2.97h-2.0zM210.5 113.42h2.0v2.97h-2.0zM210.5 142.58h2.0v2.97h-2.0zM212.5 40.50h2.0v2.97h-2.0zM212.5 49.25h2.0v2.97h-2.0zM212.5 60.92h2.0v2.97h-2.0zM212.5 69.67h2.0v2.97h-2.0zM212.5 72.58h2.0v2.97h-2.0zM212.5 87.17h2.0v2.97h-2.0zM212.5 107.58h2.0v2.97h-2.0zM212.5 130.92h2.0v2.97h-2.0zM212.5 142.58h2.0v2.97h-2.0zM214.5 81.33h2.0v2.97h-2.0zM214.5 101.75h2.0v2.97h-2.0zM214.5 116.33h2.0v2.97h-2.0zM216.5 58.00h2.0v2.97h-2.0zM216.5 66.75h2.0v2.97h-2.0zM216.5 87.17h2.0v2.97h-2.0zM216.5 104.67h2.0v2.97h-2.0zM216.5 107.58h2.0v2.97h-2.0zM218.5 55.08h2.0v2.97h-2.0zM218.5 72.58h2.0v2.97h-2.0zM218.5 87.17h2.0v2.97h-2.0zM218.5 110.50h2.0v2.97h-2.0zM218.5 113.42h2.0v2.97h-2.0zM218.5 122.17h2.0v2.97h-2.0z"/>
<path fill="#34ac44" d="M206.5 78.42h2.0v2.97h-2.0zM206.5 84.25h2.0v2.97h-2.0zM206.5 90.08h2.0v2.97h-2.0zM206.5 125.08h2.0v2.97h-2.0zM206.5 128.00h2.0v2.97h-2.0zM208.5 40.50h2.0v2.97h-2.0zM208.5 43.42h2.0v2.97h-2.0zM208.5 78.42h2.0v2.97h-2.0zM208.5 81.33h2.0v2.97h-2.0zM208.5 107.58h2.0v2.97h-2.0zM208.5 116.33h2.0v2.97h-2.0zM208.5 122.17h2.0v2.97h-2.0zM208.5 125.08h2.0v2.97h-2.0zM208.5 130.92h2.0v2.97h-2.0zM208.5 136.75h2.0v2.97h-2.0zM208.5 142.58h2.0v2.97h-2.0zM210.5 49.25h2.0v2.97h-2.0zM210.5 75.50h2.0v2.97h-2.0zM210.5 133.83h2.0v2.97h-2.0zM210.5 136.75h2.0v2.97h-2.0zM212.5 43.42h2.0v2.97h-2.0zM212.5 58.00h2.0v2.97h-2.0zM212.5 66.75h2.0v2.97h-2.0zM212.5 93.00h2.0v2.97h-2.0zM212.5 110.50h2.0v2.97h-2.0zM212.5 122.17h2.0v2.97h-2.0zM212.5 128.00h2.0v2.97h-2.0zM212.5 136.75h2.0v2.97h-2.0zM214.5 58.00h2.0v2.97h-2.0zM214.5 130.92h2.0v2.97h-2.0zM214.5 136.75h2.0v2.97h-2.0zM216.5 55.08h2.0v2.97h-2.0zM216.5 72.58h2.0v2.97h-2.0zM216.5 75.50h2.0v2.97h-2.0zM216.5 84.25h2.0v2.97h-2.0zM216.5 90.08h2.0v2.97h-2.0zM216.5 93.00h2.0v2.97h-2.0zM216.5 125.08h2.0v2.97h-2.0zM216.5 133.83h2.0v2.97h-2.0zM218.5 43.42h2.0v2.97h-2.0zM218.5 46.33h2.0v2.97h-2.0zM218.5 49.25h2.0v2.97h-2.0zM218.5 58.00h2.0v2.97h-2.0zM218.5 60.92h2.0v2.97h-2.0zM218.5 75.50h2.0v2.97h-2.0zM218.5 93.00h2.0v2.97h-2.0z"/>
<path fill="#34a444" d="M206.5 81.33h2.0v2.97h-2.0zM206.5 104.67h2.0v2.97h-2.0zM206.5 116.33h2.0v2.97h-2.0zM206.5 122.17h2.0v2.97h-2.0zM206.5 136.75h2.0v2.97h-2.0zM208.5 113.42h2.0v2.97h-2.0zM210.5 78.42h2.0v2.97h-2.0zM210.5 95.92h2.0v2.97h-2.0zM210.5 122.17h2.0v2.97h-2.0zM210.5 128.00h2.0v2.97h-2.0zM212.5 78.42h2.0v2.97h-2.0zM212.5 95.92h2.0v2.97h-2.0zM214.5 66.75h2.0v2.97h-2.0zM214.5 72.58h2.0v2.97h-2.0zM214.5 87.17h2.0v2.97h-2.0zM214.5 98.83h2.0v2.97h-2.0zM214.5 113.42h2.0v2.97h-2.0zM214.5 119.25h2.0v2.97h-2.0zM214.5 139.67h2.0v2.97h-2.0zM216.5 43.42h2.0v2.97h-2.0zM216.5 46.33h2.0v2.97h-2.0zM216.5 78.42h2.0v2.97h-2.0zM216.5 113.42h2.0v2.97h-2.0zM216.5 116.33h2.0v2.97h-2.0zM216.5 128.00h2.0v2.97h-2.0zM216.5 139.67h2.0v2.97h-2.0zM218.5 69.67h2.0v2.97h-2.0zM218.5 84.25h2.0v2.97h-2.0z"/>
<path fill="#34b44c" d="M206.5 139.67h2.0v2.97h-2.0zM210.5 63.83h2.0v2.97h-2.0zM214.5 55.08h2.0v2.97h-2.0zM214.5 60.92h2.0v2.97h-2.0zM214.5 128.00h2.0v2.97h-2.0zM218.5 40.50h2.0v2.97h-2.0z"/>
<path fill="#349c3c" d="M208.5 66.75h2.0v2.97h-2.0zM208.5 69.67h2.0v2.97h-2.0zM210.5 40.50h2.0v2.97h-2.0zM214.5 49.25h2.0v2.97h-2.0zM214.5 107.58h2.0v2.97h-2.0zM214.5 122.17h2.0v2.97h-2.0zM216.5 81.33h2.0v2.97h-2.0zM218.5 130.92h2.0v2.97h-2.0z"/>
<path fill="#34bc4c" d="M208.5 101.75h2.0v2.97h-2.0zM210.5 130.92h2.0v2.97h-2.0zM214.5 125.08h2.0v2.97h-2.0z"/>
<path fill="#3cbc4c" d="M208.5 104.67h2.0v2.97h-2.0zM210.5 46.33h2.0v2.97h-2.0zM210.5 60.92h2.0v2.97h-2.0zM210.5 93.00h2.0v2.97h-2.0zM210.5 98.83h2.0v2.97h-2.0zM210.5 104.67h2.0v2.97h-2.0zM212.5 46.33h2.0v2.97h-2.0zM214.5 46.33h2.0v2.97h-2.0zM214.5 69.67h2.0v2.97h-2.0zM214.5 75.50h2.0v2.97h-2.0zM214.5 95.92h2.0v2.97h-2.0zM214.5 142.58h2.0v2.97h-2.0z"/>
<path fill="#2c140c" d="M220.5 58.00h2.0v2.97h-2.0zM220.5 60.92h2.0v2.97h-2.0zM220.5 69.67h2.0v2.97h-2.0zM220.5 78.42h2.0v2.97h-2.0zM220.5 81.33h2.0v2.97h-2.0zM220.5 98.83h2.0v2.97h-2.0zM220.5 104.67h2.0v2.97h-2.0zM220.5 133.83h2.0v2.97h-2.0zM220.5 136.75h2.0v2.97h-2.0zM220.5 142.58h2.0v2.97h-2.0zM224.5 75.50h2.0v2.97h-2.0zM224.5 87.17h2.0v2.97h-2.0zM224.5 107.58h2.0v2.97h-2.0zM224.5 119.25h2.0v2.97h-2.0zM224.5 130.92h2.0v2.97h-2.0zM226.5 72.58h2.0v2.97h-2.0zM226.5 119.25h2.0v2.97h-2.0zM226.5 122.17h2.0v2.97h-2.0zM226.5 128.00h2.0v2.97h-2.0zM226.5 133.83h2.0v2.97h-2.0zM228.5 93.00h2.0v2.97h-2.0zM228.5 98.83h2.0v2.97h-2.0zM228.5 101.75h2.0v2.97h-2.0zM228.5 119.25h2.0v2.97h-2.0zM228.5 139.67h2.0v2.97h-2.0zM234.5 52.17h2.0v2.97h-2.0zM234.5 75.50h2.0v2.97h-2.0zM234.5 107.58h2.0v2.97h-2.0zM234.5 113.42h2.0v2.97h-2.0zM238.5 40.50h2.0v2.97h-2.0zM238.5 52.17h2.0v2.97h-2.0zM238.5 63.83h2.0v2.97h-2.0zM238.5 98.83h2.0v2.97h-2.0zM238.5 101.75h2.0v2.97h-2.0zM238.5 104.67h2.0v2.97h-2.0zM238.5 107.58h2.0v2.97h-2.0zM238.5 110.50h2.0v2.97h-2.0zM238.5 119.25h2.0v2.97h-2.0zM238.5 125.08h2.0v2.97h-2.0zM242.5 46.33h2.0v2.97h-2.0zM242.5 69.67h2.0v2.97h-2.0zM242.5 81.33h2.0v2.97h-2.0zM242.5 84.25h2.0v2.97h-2.0zM242.5 87.17h2.0v2.97h-2.0zM242.5 101.75h2.0v2.97h-2.0zM242.5 113.42h2.0v2.97h-2.0zM242.5 116.33h2.0v2.97h-2.0zM242.5 119.25h2.0v2.97h-2.0zM242.5 122.17h2.0v2.97h-2.0zM242.5 125.08h2.0v2.97h-2.0z"/>
<path fill="#441c14" d="M224.5 40.50h2.0v2.97h-2.0zM224.5 46.33h2.0v2.97h-2.0zM224.5 49.25h2.0v2.97h-2.0zM224.5 55.08h2.0v2.97h-2.0zM224.5 60.92h2.0v2.97h-2.0zM224.5 84.25h2.0v2.97h-2.0zM224.5 104.67h2.0v2.97h-2.0zM224.5 116.33h2.0v2.97h-2.0zM224.5 142.58h2.0v2.97h-2.0z"/>
<path fill="#3c1c14" d="M224.5 52.17h2.0v2.97h-2.0z"/>
<path fill="#4c1c14" d="M224.5 101.75h2.0v2.97h-2.0z"/>
<path fill="#140c04" d="M226.5 46.33h2.0v2.97h-2.0zM226.5 95.92h2.0v2.97h-2.0zM226.5 136.75h2.0v2.97h-2.0zM226.5 142.58h2.0v2.97h-2.0zM228.5 110.50h2.0v2.97h-2.0zM238.5 66.75h2.0v2.97h-2.0zM238.5 69.67h2.0v2.97h-2.0zM238.5 113.42h2.0v2.97h-2.0z"/>
<path fill="#244c24" d="M248.5 75.50h2.0v2.97h-2.0zM248.5 95.92h2.0v2.97h-2.0zM248.5 104.67h2.0v2.97h-2.0zM260.5 98.83h2.0v2.97h-2.0z"/>
<path fill="#248c34" d="M262.5 58.00h2.0v2.97h-2.0zM262.5 142.58h2.0v2.97h-2.0zM264.5 133.83h2.0v2.97h-2.0zM266.5 63.83h2.0v2.97h-2.0zM266.5 78.42h2.0v2.97h-2.0zM266.5 90.08h2.0v2.97h-2.0zM266.5 104.67h2.0v2.97h-2.0zM266.5 125.08h2.0v2.97h-2.0zM266.5 142.58h2.0v2.97h-2.0zM268.5 72.58h2.0v2.97h-2.0zM268.5 116.33h2.0v2.97h-2.0z"/>
<path fill="#14441c" d="M270.5 43.42h2.0v2.97h-2.0zM270.5 84.25h2.0v2.97h-2.0zM270.5 113.42h2.0v2.97h-2.0zM274.5 84.25h2.0v2.97h-2.0zM274.5 104.67h2.0v2.97h-2.0zM274.5 110.50h2.0v2.97h-2.0zM276.5 107.58h2.0v2.97h-2.0zM278.5 98.83h2.0v2.97h-2.0zM278.5 101.75h2.0v2.97h-2.0zM278.5 130.92h2.0v2.97h-2.0zM280.5 40.50h2.0v2.97h-2.0zM280.5 107.58h2.0v2.97h-2.0zM280.5 110.50h2.0v2.97h-2.0zM280.5 122.17h2.0v2.97h-2.0zM280.5 130.92h2.0v2.97h-2.0zM280.5 139.67h2.0v2.97h-2.0zM282.5 55.08h2.0v2.97h-2.0zM284.5 81.33h2.0v2.97h-2.0zM284.5 84.25h2.0v2.97h-2.0zM286.5 55.08h2.0v2.97h-2.0zM288.5 116.33h2.0v2.97h-2.0zM288.5 130.92h2.0v2.97h-2.0zM290.5 128.00h2.0v2.97h-2.0zM292.5 46.33h2.0v2.97h-2.0zM292.5 107.58h2.0v2.97h-2.0zM294.5 60.92h2.0v2.97h-2.0zM294.5 87.17h2.0v2.97h-2.0zM294.5 101.75h2.0v2.97h-2.0z"/>
<path fill="#0c2c14" d="M270.5 49.25h2.0v2.97h-2.0zM270.5 52.17h2.0v2.97h-2.0zM270.5 116.33h2.0v2.97h-2.0zM270.5 133.83h2.0v2.97h-2.0zM272.5 81.33h2.0v2.97h-2.0zM272.5 122.17h2.0v2.97h-2.0zM272.5 125.08h2.0v2.97h-2.0zM274.5 43.42h2.0v2.97h-2.0zM274.5 107.58h2.0v2.97h-2.0zM284.5 75.50h2.0v2.97h-2.0zM286.5 60.92h2.0v2.97h-2.0zM286.5 66.75h2.0v2.97h-2.0zM288.5 63.83h2.0v2.97h-2.0zM288.5 122.17h2.0v2.97h-2.0z"/>
<path fill="#143414" d="M270.5 55.08h2.0v2.97h-2.0zM270.5 81.33h2.0v2.97h-2.0zM270.5 139.67h2.0v2.97h-2.0zM272.5 43.42h2.0v2.97h-2.0zM272.5 52.17h2.0v2.97h-2.0zM272.5 58.00h2.0v2.97h-2.0zM272.5 60.92h2.0v2.97h-2.0zM272.5 63.83h2.0v2.97h-2.0zM272.5 69.67h2.0v2.97h-2.0zM272.5 87.17h2.0v2.97h-2.0zM272.5 107.58h2.0v2.97h-2.0zM272.5 110.50h2.0v2.97h-2.0zM272.5 130.92h2.0v2.97h-2.0zM272.5 133.83h2.0v2.97h-2.0zM274.5 40.50h2.0v2.97h-2.0zM274.5 46.33h2.0v2.97h-2.0zM274.5 81.33h2.0v2.97h-2.0zM274.5 98.83h2.0v2.97h-2.0zM276.5 46.33h2.0v2.97h-2.0zM276.5 60.92h2.0v2.97h-2.0zM278.5 60.92h2.0v2.97h-2.0zM278.5 113.42h2.0v2.97h-2.0zM278.5 116.33h2.0v2.97h-2.0zM282.5 101.75h2.0v2.97h-2.0zM284.5 63.83h2.0v2.97h-2.0zM286.5 93.00h2.0v2.97h-2.0zM288.5 95.92h2.0v2.97h-2.0zM288.5 113.42h2.0v2.97h-2.0z"/>
<path fill="#1c4c24" d="M270.5 58.00h2.0v2.97h-2.0zM274.5 52.17h2.0v2.97h-2.0zM274.5 63.83h2.0v2.97h-2.0zM274.5 75.50h2.0v2.97h-2.0zM274.5 87.17h2.0v2.97h-2.0zM274.5 93.00h2.0v2.97h-2.0zM274.5 101.75h2.0v2.97h-2.0zM274.5 113.42h2.0v2.97h-2.0zM274.5 125.08h2.0v2.97h-2.0zM276.5 52.17h2.0v2.97h-2.0zM276.5 58.00h2.0v2.97h-2.0zM276.5 93.00h2.0v2.97h-2.0zM276.5 95.92h2.0v2.97h-2.0zM276.5 122.17h2.0v2.97h-2.0zM278.5 93.00h2.0v2.97h-2.0zM278.5 104.67h2.0v2.97h-2.0zM278.5 110.50h2.0v2.97h-2.0zM280.5 58.00h2.0v2.97h-2.0zM280.5 98.83h2.0v2.97h-2.0zM280.5 119.25h2.0v2.97h-2.0zM280.5 133.83h2.0v2.97h-2.0zM282.5 75.50h2.0v2.97h-2.0zM282.5 78.42h2.0v2.97h-2.0zM282.5 84.25h2.0v2.97h-2.0zM282.5 90.08h2.0v2.97h-2.0zM282.5 110.50h2.0v2.97h-2.0zM282.5 119.25h2.0v2.97h-2.0zM282.5 125.08h2.0v2.97h-2.0zM282.5 142.58h2.0v2.97h-2.0zM284.5 49.25h2.0v2.97h-2.0zM284.5 101.75h2.0v2.97h-2.0zM284.5 116.33h2.0v2.97h-2.0zM286.5 119.25h2.0v2.97h-2.0zM290.5 90.08h2.0v2.97h-2.0zM290.5 95.92h2.0v2.97h-2.0zM290.5 116.33h2.0v2.97h-2.0zM290.5 122.17h2.0v2.97h-2.0zM290.5 136.75h2.0v2.97h-2.0zM294.5 55.08h2.0v2.97h-2.0zM294.5 72.58h2.0v2.97h-2.0zM294.5 125.08h2.0v2.97h-2.0zM294.5 142.58h2.0v2.97h-2.0z"/>
<path fill="#1c441c" d="M270.5 63.83h2.0v2.97h-2.0zM270.5 87.17h2.0v2.97h-2.0zM270.5 101.75h2.0v2.97h-2.0zM270.5 104.67h2.0v2.97h-2.0zM270.5 110.50h2.0v2.97h-2.0zM270.5 136.75h2.0v2.97h-2.0zM274.5 128.00h2.0v2.97h-2.0zM274.5 142.58h2.0v2.97h-2.0zM276.5 72.58h2.0v2.97h-2.0zM276.5 110.50h2.0v2.97h-2.0zM278.5 52.17h2.0v2.97h-2.0zM278.5 119.25h2.0v2.97h-2.0zM280.5 104.67h2.0v2.97h-2.0zM280.5 125.08h2.0v2.97h-2.0zM284.5 46.33h2.0v2.97h-2.0zM284.5 58.00h2.0v2.97h-2.0zM284.5 95.92h2.0v2.97h-2.0zM284.5 133.83h2.0v2.97h-2.0zM286.5 101.75h2.0v2.97h-2.0zM286.5 110.50h2.0v2.97h-2.0zM288.5 49.25h2.0v2.97h-2.0zM288.5 55.08h2.0v2.97h-2.0zM288.5 69.67h2.0v2.97h-2.0zM288.5 128.00h2.0v2.97h-2.0zM288.5 133.83h2.0v2.97h-2.0z"/>
<path fill="#143c1c" d="M270.5 72.58h2.0v2.97h-2.0zM270.5 95.92h2.0v2.97h-2.0zM270.5 98.83h2.0v2.97h-2.0zM270.5 142.58h2.0v2.97h-2.0zM272.5 49.25h2.0v2.97h-2.0zM272.5 55.08h2.0v2.97h-2.0zM272.5 104.67h2.0v2.97h-2.0zM274.5 69.67h2.0v2.97h-2.0zM274.5 90.08h2.0v2.97h-2.0zM274.5 116.33h2.0v2.97h-2.0zM274.5 119.25h2.0v2.97h-2.0zM274.5 122.17h2.0v2.97h-2.0zM276.5 75.50h2.0v2.97h-2.0zM276.5 84.25h2.0v2.97h-2.0zM276.5 104.67h2.0v2.97h-2.0zM276.5 116.33h2.0v2.97h-2.0zM276.5 128.00h2.0v2.97h-2.0zM276.5 142.58h2.0v2.97h-2.0zM278.5 58.00h2.0v2.97h-2.0zM278.5 84.25h2.0v2.97h-2.0zM278.5 128.00h2.0v2.97h-2.0zM278.5 136.75h2.0v2.97h-2.0zM280.5 66.75h2.0v2.97h-2.0zM280.5 75.50h2.0v2.97h-2.0zM280.5 78.42h2.0v2.97h-2.0zM280.5 87.17h2.0v2.97h-2.0zM280.5 128.00h2.0v2.97h-2.0zM282.5 60.92h2.0v2.97h-2.0zM282.5 63.83h2.0v2.97h-2.0zM282.5 66.75h2.0v2.97h-2.0zM282.5 93.00h2.0v2.97h-2.0zM282.5 139.67h2.0v2.97h-2.0zM284.5 52.17h2.0v2.97h-2.0zM284.5 60.92h2.0v2.97h-2.0zM284.5 87.17h2.0v2.97h-2.0zM284.5 93.00h2.0v2.97h-2.0zM284.5 104.67h2.0v2.97h-2.0zM284.5 107.58h2.0v2.97h-2.0zM284.5 110.50h2.0v2.97h-2.0zM284.5 122.17h2.0v2.97h-2.0zM284.5 125.08h2.0v2.97h-2.0zM284.5 128.00h2.0v2.97h-2.0zM284.5 139.67h2.0v2.97h-2.0zM286.5 43.42h2.0v2.97h-2.0zM286.5 69.67h2.0v2.97h-2.0zM286.5 72.58h2.0v2.97h-2.0zM286.5 98.83h2.0v2.97h-2.0zM286.5 113.42h2.0v2.97h-2.0zM286.5 116.33h2.0v2.97h-2.0zM286.5 133.83h2.0v2.97h-2.0zM286.5 136.75h2.0v2.97h-2.0zM288.5 46.33h2.0v2.97h-2.0zM288.5 75.50h2.0v2.97h-2.0zM288.5 90.08h2.0v2.97h-2.0zM288.5 98.83h2.0v2.97h-2.0zM288.5 107.58h2.0v2.97h-2.0zM290.5 142.58h2.0v2.97h-2.0zM292.5 66.75h2.0v2.97h-2.0zM292.5 72.58h2.0v2.97h-2.0zM292.5 78.42h2.0v2.97h-2.0zM292.5 98.83h2.0v2.97h-2.0z"/>
<path fill="#0c240c" d="M270.5 93.00h2.0v2.97h-2.0zM272.5 46.33h2.0v2.97h-2.0zM272.5 66.75h2.0v2.97h-2.0zM272.5 139.67h2.0v2.97h-2.0zM286.5 46.33h2.0v2.97h-2.0zM286.5 52.17h2.0v2.97h-2.0zM286.5 63.83h2.0v2.97h-2.0zM286.5 122.17h2.0v2.97h-2.0zM286.5 125.08h2.0v2.97h-2.0zM286.5 130.92h2.0v2.97h-2.0zM288.5 93.00h2.0v2.97h-2.0z"/>
<path fill="#1c5424" d="M274.5 78.42h2.0v2.97h-2.0zM274.5 139.67h2.0v2.97h-2.0zM276.5 49.25h2.0v2.97h-2.0zM276.5 63.83h2.0v2.97h-2.0zM276.5 119.25h2.0v2.97h-2.0zM276.5 136.75h2.0v2.97h-2.0zM278.5 43.42h2.0v2.97h-2.0zM278.5 63.83h2.0v2.97h-2.0zM278.5 75.50h2.0v2.97h-2.0zM278.5 81.33h2.0v2.97h-2.0zM278.5 95.92h2.0v2.97h-2.0zM278.5 107.58h2.0v2.97h-2.0zM278.5 133.83h2.0v2.97h-2.0zM278.5 139.67h2.0v2.97h-2.0zM280.5 72.58h2.0v2.97h-2.0zM280.5 90.08h2.0v2.97h-2.0zM280.5 113.42h2.0v2.97h-2.0zM280.5 142.58h2.0v2.97h-2.0zM282.5 40.50h2.0v2.97h-2.0zM282.5 46.33h2.0v2.97h-2.0zM282.5 52.17h2.0v2.97h-2.0zM282.5 81.33h2.0v2.97h-2.0zM282.5 122.17h2.0v2.97h-2.0zM284.5 40.50h2.0v2.97h-2.0zM284.5 43.42h2.0v2.97h-2.0zM284.5 69.67h2.0v2.97h-2.0zM284.5 72.58h2.0v2.97h-2.0zM284.5 90.08h2.0v2.97h-2.0zM284.5 130.92h2.0v2.97h-2.0zM284.5 142.58h2.0v2.97h-2.0zM290.5 40.50h2.0v2.97h-2.0zM290.5 63.83h2.0v2.97h-2.0zM290.5 75.50h2.0v2.97h-2.0zM290.5 93.00h2.0v2.97h-2.0zM292.5 60.92h2.0v2.97h-2.0zM292.5 84.25h2.0v2.97h-2.0zM292.5 116.33h2.0v2.97h-2.0zM292.5 128.00h2.0v2.97h-2.0zM292.5 139.67h2.0v2.97h-2.0zM294.5 81.33h2.0v2.97h-2.0zM294.5 122.17h2.0v2.97h-2.0zM294.5 133.83h2.0v2.97h-2.0z"/>
<path fill="#245c2c" d="M276.5 55.08h2.0v2.97h-2.0zM276.5 78.42h2.0v2.97h-2.0zM276.5 98.83h2.0v2.97h-2.0zM276.5 113.42h2.0v2.97h-2.0zM278.5 122.17h2.0v2.97h-2.0zM278.5 125.08h2.0v2.97h-2.0zM280.5 43.42h2.0v2.97h-2.0zM282.5 58.00h2.0v2.97h-2.0zM282.5 98.83h2.0v2.97h-2.0zM282.5 113.42h2.0v2.97h-2.0z"/>
<path fill="#24642c" d="M276.5 66.75h2.0v2.97h-2.0zM276.5 69.67h2.0v2.97h-2.0zM276.5 81.33h2.0v2.97h-2.0zM276.5 139.67h2.0v2.97h-2.0zM278.5 46.33h2.0v2.97h-2.0zM278.5 49.25h2.0v2.97h-2.0zM278.5 90.08h2.0v2.97h-2.0zM280.5 84.25h2.0v2.97h-2.0zM280.5 93.00h2.0v2.97h-2.0zM280.5 116.33h2.0v2.97h-2.0zM282.5 69.67h2.0v2.97h-2.0zM282.5 87.17h2.0v2.97h-2.0zM282.5 107.58h2.0v2.97h-2.0zM282.5 130.92h2.0v2.97h-2.0zM282.5 133.83h2.0v2.97h-2.0zM290.5 87.17h2.0v2.97h-2.0zM290.5 125.08h2.0v2.97h-2.0zM292.5 95.92h2.0v2.97h-2.0zM292.5 110.50h2.0v2.97h-2.0zM294.5 40.50h2.0v2.97h-2.0z"/>
<path fill="#246c34" d="M276.5 90.08h2.0v2.97h-2.0zM276.5 130.92h2.0v2.97h-2.0zM276.5 133.83h2.0v2.97h-2.0zM278.5 72.58h2.0v2.97h-2.0zM280.5 81.33h2.0v2.97h-2.0zM280.5 101.75h2.0v2.97h-2.0zM282.5 95.92h2.0v2.97h-2.0zM282.5 104.67h2.0v2.97h-2.0z"/>
<path fill="#1c5c2c" d="M276.5 125.08h2.0v2.97h-2.0zM284.5 55.08h2.0v2.97h-2.0zM290.5 55.08h2.0v2.97h-2.0zM292.5 52.17h2.0v2.97h-2.0zM292.5 58.00h2.0v2.97h-2.0zM292.5 130.92h2.0v2.97h-2.0zM294.5 116.33h2.0v2.97h-2.0z"/>
<path fill="#1c5c24" d="M278.5 87.17h2.0v2.97h-2.0zM280.5 136.75h2.0v2.97h-2.0zM282.5 128.00h2.0v2.97h-2.0zM290.5 133.83h2.0v2.97h-2.0zM292.5 101.75h2.0v2.97h-2.0zM294.5 139.67h2.0v2.97h-2.0z"/>
<path fill="#247434" d="M280.5 60.92h2.0v2.97h-2.0zM290.5 49.25h2.0v2.97h-2.0zM290.5 52.17h2.0v2.97h-2.0zM290.5 60.92h2.0v2.97h-2.0zM290.5 101.75h2.0v2.97h-2.0zM290.5 104.67h2.0v2.97h-2.0zM290.5 107.58h2.0v2.97h-2.0zM292.5 55.08h2.0v2.97h-2.0zM292.5 81.33h2.0v2.97h-2.0zM292.5 119.25h2.0v2.97h-2.0zM292.5 142.58h2.0v2.97h-2.0z"/>
<path fill="#2c7434" d="M280.5 63.83h2.0v2.97h-2.0zM282.5 43.42h2.0v2.97h-2.0zM282.5 49.25h2.0v2.97h-2.0zM282.5 72.58h2.0v2.97h-2.0zM282.5 116.33h2.0v2.97h-2.0zM282.5 136.75h2.0v2.97h-2.0z"/>
<path fill="#2c7c34" d="M280.5 69.67h2.0v2.97h-2.0zM280.5 95.92h2.0v2.97h-2.0zM290.5 78.42h2.0v2.97h-2.0zM290.5 81.33h2.0v2.97h-2.0zM290.5 84.25h2.0v2.97h-2.0zM290.5 139.67h2.0v2.97h-2.0zM292.5 125.08h2.0v2.97h-2.0zM294.5 110.50h2.0v2.97h-2.0z"/>
<path fill="#1c542c" d="M284.5 98.83h2.0v2.97h-2.0z"/>
<path fill="#143c14" d="M290.5 46.33h2.0v2.97h-2.0zM290.5 58.00h2.0v2.97h-2.0z"/>
<path fill="#1c642c" d="M290.5 69.67h2.0v2.97h-2.0zM294.5 78.42h2.0v2.97h-2.0z"/>
<path fill="#144c1c" d="M292.5 75.50h2.0v2.97h-2.0zM292.5 90.08h2.0v2.97h-2.0zM292.5 113.42h2.0v2.97h-2.0zM294.5 93.00h2.0v2.97h-2.0z"/>
<path fill="#1c4c1c" d="M294.5 49.25h2.0v2.97h-2.0zM294.5 130.92h2.0v2.97h-2.0z"/>
<path fill="#34943c" d="M294.5 63.83h2.0v2.97h-2.0z"/>
<path fill="#2c843c" d="M294.5 84.25h2.0v2.97h-2.0zM294.5 128.00h2.0v2.97h-2.0z"/>
</g></g>
<!-- lower heatmap -->
<rect x="28" y="195.8" width="271" height="101.9" fill="#2a2416"/>
<clipPath id="cl"><rect x="28" y="195.8" width="271" height="101.9"/></clipPath>
<filter id="bl2" x="0" y="0" width="1" height="1"><feGaussianBlur stdDeviation="0.55"/></filter>
<g clip-path="url(#cl)"><g shape-rendering="crispEdges" filter="url(#bl2)">
<path fill="#18130e" d="M28.00 195.80h5.07v4.48h-5.07zM273.91 195.80h5.07v4.48h-5.07zM163.50 200.23h5.07v4.48h-5.07zM198.63 204.66h5.07v4.48h-5.07zM213.69 204.66h5.07v4.48h-5.07zM203.65 209.09h5.07v4.48h-5.07zM213.69 209.09h5.07v4.48h-5.07zM218.70 209.09h5.07v4.48h-5.07zM258.85 209.09h5.07v4.48h-5.07zM183.57 213.52h5.07v4.48h-5.07zM228.74 213.52h5.07v4.48h-5.07zM178.56 222.38h5.07v4.48h-5.07zM208.67 222.38h5.07v4.48h-5.07zM213.69 222.38h5.07v4.48h-5.07zM198.63 226.81h5.07v4.48h-5.07zM208.67 226.81h5.07v4.48h-5.07zM268.89 226.81h5.07v4.48h-5.07zM278.93 226.81h5.07v4.48h-5.07zM213.69 231.24h5.07v4.48h-5.07zM118.33 240.10h5.07v4.48h-5.07zM238.78 240.10h5.07v4.48h-5.07zM148.44 244.53h5.07v4.48h-5.07zM163.50 244.53h5.07v4.48h-5.07zM193.61 244.53h5.07v4.48h-5.07zM198.63 244.53h5.07v4.48h-5.07zM263.87 244.53h5.07v4.48h-5.07zM143.43 248.97h5.07v4.48h-5.07zM178.56 248.97h5.07v4.48h-5.07zM248.81 248.97h5.07v4.48h-5.07zM293.98 248.97h5.07v4.48h-5.07zM248.81 253.40h5.07v4.48h-5.07zM288.96 253.40h5.07v4.48h-5.07zM283.94 257.83h5.07v4.48h-5.07zM108.30 262.26h5.07v4.48h-5.07zM178.56 262.26h5.07v4.48h-5.07zM243.80 262.26h5.07v4.48h-5.07zM283.94 266.69h5.07v4.48h-5.07zM188.59 271.12h5.07v4.48h-5.07zM198.63 271.12h5.07v4.48h-5.07zM198.63 275.55h5.07v4.48h-5.07zM238.78 275.55h5.07v4.48h-5.07zM263.87 275.55h5.07v4.48h-5.07zM218.70 279.98h5.07v4.48h-5.07zM148.44 284.41h5.07v4.48h-5.07zM258.85 284.41h5.07v4.48h-5.07zM178.56 288.84h5.07v4.48h-5.07zM133.39 293.27h5.07v4.48h-5.07zM183.57 293.27h5.07v4.48h-5.07zM288.96 293.27h5.07v4.48h-5.07z"/>
<path fill="#152717" d="M33.02 195.80h5.07v4.48h-5.07zM268.89 217.95h5.07v4.48h-5.07zM173.54 231.24h5.07v4.48h-5.07zM153.46 248.97h5.07v4.48h-5.07zM223.72 248.97h5.07v4.48h-5.07zM28.00 257.83h5.07v4.48h-5.07zM228.74 262.26h5.07v4.48h-5.07zM118.33 271.12h5.07v4.48h-5.07zM103.28 279.98h5.07v4.48h-5.07zM268.89 279.98h5.07v4.48h-5.07z"/>
<path fill="#1a301d" d="M38.04 195.80h5.07v4.48h-5.07zM143.43 195.80h5.07v4.48h-5.07zM108.30 200.23h5.07v4.48h-5.07zM133.39 240.10h5.07v4.48h-5.07zM148.44 253.40h5.07v4.48h-5.07zM168.52 253.40h5.07v4.48h-5.07zM133.39 271.12h5.07v4.48h-5.07zM148.44 279.98h5.07v4.48h-5.07zM188.59 279.98h5.07v4.48h-5.07zM163.50 288.84h5.07v4.48h-5.07z"/>
<path fill="#1b3f21" d="M43.06 195.80h5.07v4.48h-5.07zM48.07 195.80h5.07v4.48h-5.07zM143.43 213.52h5.07v4.48h-5.07zM263.87 271.12h5.07v4.48h-5.07z"/>
<path fill="#1b321d" d="M53.09 195.80h5.07v4.48h-5.07zM143.43 240.10h5.07v4.48h-5.07zM38.04 262.26h5.07v4.48h-5.07zM118.33 266.69h5.07v4.48h-5.07zM133.39 275.55h5.07v4.48h-5.07zM123.35 279.98h5.07v4.48h-5.07zM118.33 288.84h5.07v4.48h-5.07zM33.02 293.27h5.07v4.48h-5.07zM163.50 293.27h5.07v4.48h-5.07z"/>
<path fill="#1e4524" d="M58.11 195.80h5.07v4.48h-5.07zM133.39 222.38h5.07v4.48h-5.07zM108.30 257.83h5.07v4.48h-5.07z"/>
<path fill="#192e1b" d="M63.13 195.80h5.07v4.48h-5.07zM148.44 200.23h5.07v4.48h-5.07zM138.41 204.66h5.07v4.48h-5.07zM208.67 204.66h5.07v4.48h-5.07zM103.28 209.09h5.07v4.48h-5.07zM133.39 209.09h5.07v4.48h-5.07zM138.41 213.52h5.07v4.48h-5.07zM148.44 213.52h5.07v4.48h-5.07zM143.43 217.95h5.07v4.48h-5.07zM163.50 217.95h5.07v4.48h-5.07zM138.41 226.81h5.07v4.48h-5.07zM163.50 226.81h5.07v4.48h-5.07zM118.33 231.24h5.07v4.48h-5.07zM28.00 240.10h5.07v4.48h-5.07zM28.00 248.97h5.07v4.48h-5.07zM33.02 248.97h5.07v4.48h-5.07zM113.31 257.83h5.07v4.48h-5.07zM153.46 266.69h5.07v4.48h-5.07zM118.33 275.55h5.07v4.48h-5.07z"/>
<path fill="#421510" d="M68.15 195.80h5.07v4.48h-5.07zM268.89 195.80h5.07v4.48h-5.07zM93.24 209.09h5.07v4.48h-5.07zM68.15 213.52h5.07v4.48h-5.07zM83.20 213.52h5.07v4.48h-5.07zM223.72 213.52h5.07v4.48h-5.07zM188.59 222.38h5.07v4.48h-5.07zM68.15 231.24h5.07v4.48h-5.07zM238.78 231.24h5.07v4.48h-5.07zM78.19 244.53h5.07v4.48h-5.07zM283.94 244.53h5.07v4.48h-5.07zM83.20 253.40h5.07v4.48h-5.07zM33.02 266.69h5.07v4.48h-5.07zM193.61 275.55h5.07v4.48h-5.07zM138.41 284.41h5.07v4.48h-5.07zM153.46 293.27h5.07v4.48h-5.07z"/>
<path fill="#b3251e" d="M73.17 195.80h5.07v4.48h-5.07z"/>
<path fill="#771914" d="M78.19 195.80h5.07v4.48h-5.07zM83.20 275.55h5.07v4.48h-5.07z"/>
<path fill="#3d140f" d="M83.20 195.80h5.07v4.48h-5.07zM78.19 209.09h5.07v4.48h-5.07zM268.89 213.52h5.07v4.48h-5.07zM273.91 213.52h5.07v4.48h-5.07zM88.22 217.95h5.07v4.48h-5.07zM78.19 226.81h5.07v4.48h-5.07zM98.26 226.81h5.07v4.48h-5.07zM108.30 231.24h5.07v4.48h-5.07zM283.94 231.24h5.07v4.48h-5.07zM293.98 231.24h5.07v4.48h-5.07zM273.91 248.97h5.07v4.48h-5.07zM88.22 275.55h5.07v4.48h-5.07zM228.74 284.41h5.07v4.48h-5.07zM83.20 288.84h5.07v4.48h-5.07zM68.15 293.27h5.07v4.48h-5.07zM253.83 293.27h5.07v4.48h-5.07z"/>
<path fill="#f03228" d="M88.22 195.80h5.07v4.48h-5.07zM73.17 209.09h5.07v4.48h-5.07z"/>
<path fill="#c62a21" d="M93.24 195.80h5.07v4.48h-5.07z"/>
<path fill="#3f140f" d="M98.26 195.80h5.07v4.48h-5.07zM98.26 222.38h5.07v4.48h-5.07zM288.96 222.38h5.07v4.48h-5.07zM293.98 271.12h5.07v4.48h-5.07zM73.17 275.55h5.07v4.48h-5.07zM93.24 275.55h5.07v4.48h-5.07zM233.76 284.41h5.07v4.48h-5.07zM78.19 293.27h5.07v4.48h-5.07z"/>
<path fill="#142616" d="M103.28 195.80h5.07v4.48h-5.07zM123.35 217.95h5.07v4.48h-5.07z"/>
<path fill="#193a1e" d="M108.30 195.80h5.07v4.48h-5.07zM103.28 204.66h5.07v4.48h-5.07zM128.37 217.95h5.07v4.48h-5.07zM28.00 222.38h5.07v4.48h-5.07zM168.52 222.38h5.07v4.48h-5.07zM38.04 244.53h5.07v4.48h-5.07zM128.37 248.97h5.07v4.48h-5.07zM208.67 248.97h5.07v4.48h-5.07zM48.07 257.83h5.07v4.48h-5.07zM123.35 266.69h5.07v4.48h-5.07zM28.00 271.12h5.07v4.48h-5.07zM38.04 271.12h5.07v4.48h-5.07zM163.50 284.41h5.07v4.48h-5.07zM158.48 288.84h5.07v4.48h-5.07zM158.48 293.27h5.07v4.48h-5.07z"/>
<path fill="#1b311d" d="M113.31 195.80h5.07v4.48h-5.07zM153.46 209.09h5.07v4.48h-5.07zM168.52 209.09h5.07v4.48h-5.07zM153.46 262.26h5.07v4.48h-5.07zM283.94 262.26h5.07v4.48h-5.07zM148.44 275.55h5.07v4.48h-5.07zM28.00 288.84h5.07v4.48h-5.07zM128.37 288.84h5.07v4.48h-5.07zM108.30 293.27h5.07v4.48h-5.07z"/>
<path fill="#192d1b" d="M118.33 195.80h5.07v4.48h-5.07zM38.04 209.09h5.07v4.48h-5.07zM203.65 217.95h5.07v4.48h-5.07zM263.87 235.67h5.07v4.48h-5.07zM158.48 271.12h5.07v4.48h-5.07zM233.76 271.12h5.07v4.48h-5.07z"/>
<path fill="#1d4222" d="M123.35 195.80h5.07v4.48h-5.07zM153.46 200.23h5.07v4.48h-5.07zM38.04 217.95h5.07v4.48h-5.07zM48.07 217.95h5.07v4.48h-5.07zM33.02 231.24h5.07v4.48h-5.07zM158.48 244.53h5.07v4.48h-5.07zM203.65 248.97h5.07v4.48h-5.07zM43.06 262.26h5.07v4.48h-5.07zM43.06 271.12h5.07v4.48h-5.07zM148.44 271.12h5.07v4.48h-5.07zM33.02 279.98h5.07v4.48h-5.07zM173.54 279.98h5.07v4.48h-5.07z"/>
<path fill="#16331a" d="M128.37 195.80h5.07v4.48h-5.07zM138.41 209.09h5.07v4.48h-5.07zM63.13 244.53h5.07v4.48h-5.07zM243.80 244.53h5.07v4.48h-5.07z"/>
<path fill="#162818" d="M133.39 195.80h5.07v4.48h-5.07zM143.43 200.23h5.07v4.48h-5.07zM108.30 204.66h5.07v4.48h-5.07zM28.00 235.67h5.07v4.48h-5.07zM148.44 240.10h5.07v4.48h-5.07zM173.54 240.10h5.07v4.48h-5.07zM153.46 257.83h5.07v4.48h-5.07zM103.28 271.12h5.07v4.48h-5.07zM133.39 279.98h5.07v4.48h-5.07z"/>
<path fill="#162817" d="M138.41 195.80h5.07v4.48h-5.07zM138.41 257.83h5.07v4.48h-5.07zM273.91 266.69h5.07v4.48h-5.07zM28.00 279.98h5.07v4.48h-5.07zM28.00 293.27h5.07v4.48h-5.07z"/>
<path fill="#15110c" d="M148.44 195.80h5.07v4.48h-5.07zM118.33 200.23h5.07v4.48h-5.07zM83.20 204.66h5.07v4.48h-5.07zM113.31 204.66h5.07v4.48h-5.07zM168.52 204.66h5.07v4.48h-5.07zM253.83 204.66h5.07v4.48h-5.07zM123.35 209.09h5.07v4.48h-5.07zM213.69 213.52h5.07v4.48h-5.07zM113.31 222.38h5.07v4.48h-5.07zM138.41 222.38h5.07v4.48h-5.07zM263.87 222.38h5.07v4.48h-5.07zM213.69 226.81h5.07v4.48h-5.07zM248.81 231.24h5.07v4.48h-5.07zM198.63 235.67h5.07v4.48h-5.07zM248.81 240.10h5.07v4.48h-5.07zM223.72 244.53h5.07v4.48h-5.07zM268.89 244.53h5.07v4.48h-5.07zM143.43 253.40h5.07v4.48h-5.07zM208.67 253.40h5.07v4.48h-5.07zM213.69 253.40h5.07v4.48h-5.07zM278.93 253.40h5.07v4.48h-5.07zM168.52 257.83h5.07v4.48h-5.07zM188.59 266.69h5.07v4.48h-5.07zM218.70 266.69h5.07v4.48h-5.07zM238.78 279.98h5.07v4.48h-5.07zM253.83 284.41h5.07v4.48h-5.07zM203.65 288.84h5.07v4.48h-5.07zM253.83 288.84h5.07v4.48h-5.07zM258.85 288.84h5.07v4.48h-5.07zM143.43 293.27h5.07v4.48h-5.07z"/>
<path fill="#1b1510" d="M153.46 195.80h5.07v4.48h-5.07zM168.52 200.23h5.07v4.48h-5.07zM223.72 200.23h5.07v4.48h-5.07zM228.74 204.66h5.07v4.48h-5.07zM113.31 209.09h5.07v4.48h-5.07zM178.56 209.09h5.07v4.48h-5.07zM253.83 213.52h5.07v4.48h-5.07zM263.87 213.52h5.07v4.48h-5.07zM188.59 217.95h5.07v4.48h-5.07zM263.87 217.95h5.07v4.48h-5.07zM233.76 222.38h5.07v4.48h-5.07zM138.41 231.24h5.07v4.48h-5.07zM198.63 231.24h5.07v4.48h-5.07zM268.89 231.24h5.07v4.48h-5.07zM113.31 235.67h5.07v4.48h-5.07zM258.85 240.10h5.07v4.48h-5.07zM178.56 244.53h5.07v4.48h-5.07zM278.93 248.97h5.07v4.48h-5.07zM283.94 248.97h5.07v4.48h-5.07zM203.65 253.40h5.07v4.48h-5.07zM193.61 262.26h5.07v4.48h-5.07zM273.91 262.26h5.07v4.48h-5.07zM143.43 266.69h5.07v4.48h-5.07zM213.69 266.69h5.07v4.48h-5.07zM273.91 271.12h5.07v4.48h-5.07zM68.15 275.55h5.07v4.48h-5.07zM143.43 279.98h5.07v4.48h-5.07zM248.81 279.98h5.07v4.48h-5.07zM198.63 284.41h5.07v4.48h-5.07zM218.70 284.41h5.07v4.48h-5.07zM238.78 284.41h5.07v4.48h-5.07z"/>
<path fill="#3a130e" d="M158.48 195.80h5.07v4.48h-5.07zM68.15 209.09h5.07v4.48h-5.07zM283.94 209.09h5.07v4.48h-5.07zM248.81 217.95h5.07v4.48h-5.07zM233.76 226.81h5.07v4.48h-5.07zM73.17 231.24h5.07v4.48h-5.07zM188.59 231.24h5.07v4.48h-5.07zM223.72 231.24h5.07v4.48h-5.07zM273.91 244.53h5.07v4.48h-5.07zM83.20 248.97h5.07v4.48h-5.07zM233.76 253.40h5.07v4.48h-5.07zM73.17 279.98h5.07v4.48h-5.07zM283.94 279.98h5.07v4.48h-5.07zM73.17 288.84h5.07v4.48h-5.07z"/>
<path fill="#451611" d="M163.50 195.80h5.07v4.48h-5.07zM283.94 195.80h5.07v4.48h-5.07zM88.22 204.66h5.07v4.48h-5.07zM288.96 235.67h5.07v4.48h-5.07zM233.76 244.53h5.07v4.48h-5.07zM238.78 248.97h5.07v4.48h-5.07zM73.17 257.83h5.07v4.48h-5.07zM238.78 271.12h5.07v4.48h-5.07zM243.80 279.98h5.07v4.48h-5.07zM233.76 288.84h5.07v4.48h-5.07z"/>
<path fill="#3e140f" d="M168.52 195.80h5.07v4.48h-5.07zM193.61 204.66h5.07v4.48h-5.07zM238.78 204.66h5.07v4.48h-5.07zM233.76 209.09h5.07v4.48h-5.07zM253.83 209.09h5.07v4.48h-5.07zM243.80 213.52h5.07v4.48h-5.07zM193.61 222.38h5.07v4.48h-5.07zM218.70 226.81h5.07v4.48h-5.07zM88.22 235.67h5.07v4.48h-5.07zM93.24 235.67h5.07v4.48h-5.07zM68.15 240.10h5.07v4.48h-5.07zM113.31 240.10h5.07v4.48h-5.07zM288.96 240.10h5.07v4.48h-5.07zM268.89 248.97h5.07v4.48h-5.07zM238.78 253.40h5.07v4.48h-5.07zM183.57 257.83h5.07v4.48h-5.07zM293.98 266.69h5.07v4.48h-5.07zM68.15 271.12h5.07v4.48h-5.07zM83.20 271.12h5.07v4.48h-5.07zM98.26 279.98h5.07v4.48h-5.07zM68.15 288.84h5.07v4.48h-5.07zM263.87 288.84h5.07v4.48h-5.07zM203.65 293.27h5.07v4.48h-5.07z"/>
<path fill="#17120d" d="M173.54 195.80h5.07v4.48h-5.07zM238.78 200.23h5.07v4.48h-5.07zM223.72 204.66h5.07v4.48h-5.07zM163.50 209.09h5.07v4.48h-5.07zM228.74 209.09h5.07v4.48h-5.07zM208.67 213.52h5.07v4.48h-5.07zM118.33 217.95h5.07v4.48h-5.07zM138.41 217.95h5.07v4.48h-5.07zM208.67 217.95h5.07v4.48h-5.07zM218.70 217.95h5.07v4.48h-5.07zM258.85 217.95h5.07v4.48h-5.07zM218.70 222.38h5.07v4.48h-5.07zM238.78 222.38h5.07v4.48h-5.07zM288.96 226.81h5.07v4.48h-5.07zM183.57 231.24h5.07v4.48h-5.07zM118.33 235.67h5.07v4.48h-5.07zM188.59 235.67h5.07v4.48h-5.07zM208.67 240.10h5.07v4.48h-5.07zM68.15 244.53h5.07v4.48h-5.07zM123.35 244.53h5.07v4.48h-5.07zM193.61 248.97h5.07v4.48h-5.07zM183.57 262.26h5.07v4.48h-5.07zM198.63 262.26h5.07v4.48h-5.07zM183.57 266.69h5.07v4.48h-5.07zM183.57 279.98h5.07v4.48h-5.07zM188.59 284.41h5.07v4.48h-5.07zM213.69 284.41h5.07v4.48h-5.07zM218.70 288.84h5.07v4.48h-5.07zM248.81 288.84h5.07v4.48h-5.07zM173.54 293.27h5.07v4.48h-5.07z"/>
<path fill="#1b1610" d="M178.56 195.80h5.07v4.48h-5.07zM203.65 195.80h5.07v4.48h-5.07zM188.59 209.09h5.07v4.48h-5.07zM198.63 209.09h5.07v4.48h-5.07zM178.56 213.52h5.07v4.48h-5.07zM283.94 213.52h5.07v4.48h-5.07zM198.63 222.38h5.07v4.48h-5.07zM48.07 226.81h5.07v4.48h-5.07zM188.59 253.40h5.07v4.48h-5.07zM258.85 262.26h5.07v4.48h-5.07zM238.78 266.69h5.07v4.48h-5.07zM268.89 266.69h5.07v4.48h-5.07zM218.70 275.55h5.07v4.48h-5.07zM178.56 279.98h5.07v4.48h-5.07zM208.67 288.84h5.07v4.48h-5.07zM238.78 288.84h5.07v4.48h-5.07z"/>
<path fill="#3c130f" d="M183.57 195.80h5.07v4.48h-5.07zM68.15 200.23h5.07v4.48h-5.07zM83.20 226.81h5.07v4.48h-5.07zM118.33 244.53h5.07v4.48h-5.07zM213.69 257.83h5.07v4.48h-5.07zM243.80 257.83h5.07v4.48h-5.07zM203.65 271.12h5.07v4.48h-5.07zM283.94 293.27h5.07v4.48h-5.07z"/>
<path fill="#19140f" d="M188.59 195.80h5.07v4.48h-5.07zM233.76 195.80h5.07v4.48h-5.07zM253.83 195.80h5.07v4.48h-5.07zM118.33 204.66h5.07v4.48h-5.07zM258.85 204.66h5.07v4.48h-5.07zM263.87 204.66h5.07v4.48h-5.07zM268.89 209.09h5.07v4.48h-5.07zM283.94 222.38h5.07v4.48h-5.07zM178.56 226.81h5.07v4.48h-5.07zM238.78 226.81h5.07v4.48h-5.07zM138.41 235.67h5.07v4.48h-5.07zM268.89 235.67h5.07v4.48h-5.07zM203.65 240.10h5.07v4.48h-5.07zM223.72 240.10h5.07v4.48h-5.07zM248.81 244.53h5.07v4.48h-5.07zM293.98 244.53h5.07v4.48h-5.07zM198.63 248.97h5.07v4.48h-5.07zM218.70 253.40h5.07v4.48h-5.07zM273.91 253.40h5.07v4.48h-5.07zM173.54 257.83h5.07v4.48h-5.07zM238.78 257.83h5.07v4.48h-5.07zM208.67 266.69h5.07v4.48h-5.07zM178.56 271.12h5.07v4.48h-5.07zM208.67 279.98h5.07v4.48h-5.07zM263.87 279.98h5.07v4.48h-5.07zM203.65 284.41h5.07v4.48h-5.07zM188.59 293.27h5.07v4.48h-5.07zM218.70 293.27h5.07v4.48h-5.07zM278.93 293.27h5.07v4.48h-5.07z"/>
<path fill="#36110d" d="M193.61 195.80h5.07v4.48h-5.07zM83.20 200.23h5.07v4.48h-5.07zM183.57 200.23h5.07v4.48h-5.07zM278.93 204.66h5.07v4.48h-5.07zM198.63 257.83h5.07v4.48h-5.07zM183.57 271.12h5.07v4.48h-5.07zM253.83 271.12h5.07v4.48h-5.07zM68.15 284.41h5.07v4.48h-5.07zM88.22 293.27h5.07v4.48h-5.07z"/>
<path fill="#1a150f" d="M198.63 195.80h5.07v4.48h-5.07zM233.76 204.66h5.07v4.48h-5.07zM218.70 213.52h5.07v4.48h-5.07zM113.31 231.24h5.07v4.48h-5.07zM218.70 231.24h5.07v4.48h-5.07zM288.96 231.24h5.07v4.48h-5.07zM173.54 235.67h5.07v4.48h-5.07zM193.61 235.67h5.07v4.48h-5.07zM253.83 235.67h5.07v4.48h-5.07zM178.56 240.10h5.07v4.48h-5.07zM253.83 240.10h5.07v4.48h-5.07zM273.91 257.83h5.07v4.48h-5.07zM253.83 266.69h5.07v4.48h-5.07zM218.70 271.12h5.07v4.48h-5.07zM268.89 275.55h5.07v4.48h-5.07zM278.93 279.98h5.07v4.48h-5.07zM133.39 284.41h5.07v4.48h-5.07zM193.61 288.84h5.07v4.48h-5.07zM103.28 293.27h5.07v4.48h-5.07zM168.52 293.27h5.07v4.48h-5.07zM248.81 293.27h5.07v4.48h-5.07zM268.89 293.27h5.07v4.48h-5.07z"/>
<path fill="#37120d" d="M208.67 195.80h5.07v4.48h-5.07zM273.91 200.23h5.07v4.48h-5.07zM188.59 204.66h5.07v4.48h-5.07zM293.98 204.66h5.07v4.48h-5.07zM278.93 222.38h5.07v4.48h-5.07zM183.57 226.81h5.07v4.48h-5.07zM228.74 226.81h5.07v4.48h-5.07zM73.17 240.10h5.07v4.48h-5.07zM93.24 240.10h5.07v4.48h-5.07zM73.17 244.53h5.07v4.48h-5.07zM98.26 248.97h5.07v4.48h-5.07zM98.26 253.40h5.07v4.48h-5.07zM183.57 253.40h5.07v4.48h-5.07zM178.56 257.83h5.07v4.48h-5.07zM208.67 271.12h5.07v4.48h-5.07zM228.74 271.12h5.07v4.48h-5.07zM68.15 279.98h5.07v4.48h-5.07zM88.22 279.98h5.07v4.48h-5.07zM288.96 279.98h5.07v4.48h-5.07z"/>
<path fill="#1a140f" d="M213.69 195.80h5.07v4.48h-5.07zM118.33 209.09h5.07v4.48h-5.07zM113.31 213.52h5.07v4.48h-5.07zM118.33 213.52h5.07v4.48h-5.07zM248.81 213.52h5.07v4.48h-5.07zM113.31 226.81h5.07v4.48h-5.07zM283.94 226.81h5.07v4.48h-5.07zM183.57 235.67h5.07v4.48h-5.07zM188.59 240.10h5.07v4.48h-5.07zM213.69 248.97h5.07v4.48h-5.07zM253.83 248.97h5.07v4.48h-5.07zM233.76 257.83h5.07v4.48h-5.07zM233.76 262.26h5.07v4.48h-5.07zM178.56 266.69h5.07v4.48h-5.07zM213.69 271.12h5.07v4.48h-5.07zM98.26 275.55h5.07v4.48h-5.07zM178.56 284.41h5.07v4.48h-5.07zM173.54 288.84h5.07v4.48h-5.07zM198.63 288.84h5.07v4.48h-5.07zM213.69 293.27h5.07v4.48h-5.07zM258.85 293.27h5.07v4.48h-5.07z"/>
<path fill="#4e130f" d="M218.70 195.80h5.07v4.48h-5.07zM248.81 235.67h5.07v4.48h-5.07zM163.50 262.26h5.07v4.48h-5.07zM243.80 284.41h5.07v4.48h-5.07z"/>
<path fill="#4b120e" d="M223.72 195.80h5.07v4.48h-5.07zM243.80 204.66h5.07v4.48h-5.07zM293.98 213.52h5.07v4.48h-5.07zM273.91 231.24h5.07v4.48h-5.07zM273.91 235.67h5.07v4.48h-5.07zM128.37 262.26h5.07v4.48h-5.07zM223.72 266.69h5.07v4.48h-5.07z"/>
<path fill="#3b130e" d="M228.74 195.80h5.07v4.48h-5.07zM278.93 195.80h5.07v4.48h-5.07zM223.72 209.09h5.07v4.48h-5.07zM243.80 222.38h5.07v4.48h-5.07zM293.98 222.38h5.07v4.48h-5.07zM68.15 262.26h5.07v4.48h-5.07zM113.31 266.69h5.07v4.48h-5.07zM88.22 271.12h5.07v4.48h-5.07zM288.96 288.84h5.07v4.48h-5.07zM98.26 293.27h5.07v4.48h-5.07zM263.87 293.27h5.07v4.48h-5.07z"/>
<path fill="#461711" d="M238.78 195.80h5.07v4.48h-5.07zM183.57 204.66h5.07v4.48h-5.07zM113.31 244.53h5.07v4.48h-5.07zM68.15 253.40h5.07v4.48h-5.07zM83.20 257.83h5.07v4.48h-5.07zM263.87 257.83h5.07v4.48h-5.07zM98.26 266.69h5.07v4.48h-5.07zM33.02 271.12h5.07v4.48h-5.07zM228.74 275.55h5.07v4.48h-5.07zM98.26 288.84h5.07v4.48h-5.07z"/>
<path fill="#9e211a" d="M243.80 195.80h5.07v4.48h-5.07zM268.89 262.26h5.07v4.48h-5.07zM243.80 271.12h5.07v4.48h-5.07zM278.93 284.41h5.07v4.48h-5.07z"/>
<path fill="#601712" d="M248.81 195.80h5.07v4.48h-5.07zM193.61 213.52h5.07v4.48h-5.07zM208.67 231.24h5.07v4.48h-5.07zM78.19 257.83h5.07v4.48h-5.07z"/>
<path fill="#411510" d="M258.85 195.80h5.07v4.48h-5.07zM203.65 200.23h5.07v4.48h-5.07zM283.94 200.23h5.07v4.48h-5.07zM68.15 204.66h5.07v4.48h-5.07zM193.61 209.09h5.07v4.48h-5.07zM188.59 213.52h5.07v4.48h-5.07zM223.72 217.95h5.07v4.48h-5.07zM68.15 226.81h5.07v4.48h-5.07zM208.67 235.67h5.07v4.48h-5.07zM68.15 248.97h5.07v4.48h-5.07zM93.24 262.26h5.07v4.48h-5.07zM203.65 279.98h5.07v4.48h-5.07zM98.26 284.41h5.07v4.48h-5.07zM148.44 293.27h5.07v4.48h-5.07z"/>
<path fill="#16110d" d="M263.87 195.80h5.07v4.48h-5.07zM178.56 200.23h5.07v4.48h-5.07zM233.76 200.23h5.07v4.48h-5.07zM263.87 200.23h5.07v4.48h-5.07zM288.96 200.23h5.07v4.48h-5.07zM143.43 204.66h5.07v4.48h-5.07zM163.50 204.66h5.07v4.48h-5.07zM203.65 204.66h5.07v4.48h-5.07zM108.30 209.09h5.07v4.48h-5.07zM208.67 209.09h5.07v4.48h-5.07zM273.91 209.09h5.07v4.48h-5.07zM128.37 213.52h5.07v4.48h-5.07zM203.65 213.52h5.07v4.48h-5.07zM178.56 217.95h5.07v4.48h-5.07zM193.61 217.95h5.07v4.48h-5.07zM243.80 217.95h5.07v4.48h-5.07zM203.65 222.38h5.07v4.48h-5.07zM193.61 226.81h5.07v4.48h-5.07zM263.87 226.81h5.07v4.48h-5.07zM178.56 231.24h5.07v4.48h-5.07zM178.56 235.67h5.07v4.48h-5.07zM108.30 240.10h5.07v4.48h-5.07zM193.61 240.10h5.07v4.48h-5.07zM183.57 248.97h5.07v4.48h-5.07zM243.80 253.40h5.07v4.48h-5.07zM258.85 257.83h5.07v4.48h-5.07zM98.26 262.26h5.07v4.48h-5.07zM213.69 262.26h5.07v4.48h-5.07zM183.57 284.41h5.07v4.48h-5.07zM268.89 284.41h5.07v4.48h-5.07zM168.52 288.84h5.07v4.48h-5.07zM188.59 288.84h5.07v4.48h-5.07zM213.69 288.84h5.07v4.48h-5.07zM193.61 293.27h5.07v4.48h-5.07zM238.78 293.27h5.07v4.48h-5.07z"/>
<path fill="#16120d" d="M288.96 195.80h5.07v4.48h-5.07zM113.31 200.23h5.07v4.48h-5.07zM228.74 200.23h5.07v4.48h-5.07zM288.96 217.95h5.07v4.48h-5.07zM48.07 222.38h5.07v4.48h-5.07zM118.33 222.38h5.07v4.48h-5.07zM183.57 222.38h5.07v4.48h-5.07zM258.85 222.38h5.07v4.48h-5.07zM268.89 240.10h5.07v4.48h-5.07zM208.67 244.53h5.07v4.48h-5.07zM218.70 248.97h5.07v4.48h-5.07zM253.83 253.40h5.07v4.48h-5.07zM268.89 253.40h5.07v4.48h-5.07zM293.98 257.83h5.07v4.48h-5.07zM218.70 262.26h5.07v4.48h-5.07zM253.83 262.26h5.07v4.48h-5.07zM203.65 266.69h5.07v4.48h-5.07zM173.54 271.12h5.07v4.48h-5.07zM268.89 271.12h5.07v4.48h-5.07zM178.56 275.55h5.07v4.48h-5.07zM293.98 279.98h5.07v4.48h-5.07z"/>
<path fill="#7b1a15" d="M293.98 195.80h5.07v4.48h-5.07z"/>
<path fill="#162717" d="M28.00 200.23h5.07v4.48h-5.07zM153.46 235.67h5.07v4.48h-5.07z"/>
<path fill="#17361c" d="M33.02 200.23h5.07v4.48h-5.07zM158.48 226.81h5.07v4.48h-5.07zM168.52 244.53h5.07v4.48h-5.07zM263.87 248.97h5.07v4.48h-5.07zM113.31 253.40h5.07v4.48h-5.07zM103.28 262.26h5.07v4.48h-5.07zM258.85 275.55h5.07v4.48h-5.07zM63.13 279.98h5.07v4.48h-5.07zM43.06 284.41h5.07v4.48h-5.07zM63.13 284.41h5.07v4.48h-5.07zM113.31 288.84h5.07v4.48h-5.07z"/>
<path fill="#1b3e20" d="M38.04 200.23h5.07v4.48h-5.07zM148.44 217.95h5.07v4.48h-5.07zM168.52 217.95h5.07v4.48h-5.07zM223.72 253.40h5.07v4.48h-5.07zM148.44 257.83h5.07v4.48h-5.07zM193.61 266.69h5.07v4.48h-5.07zM153.46 271.12h5.07v4.48h-5.07zM43.06 275.55h5.07v4.48h-5.07zM168.52 279.98h5.07v4.48h-5.07zM43.06 288.84h5.07v4.48h-5.07zM38.04 293.27h5.07v4.48h-5.07zM273.91 293.27h5.07v4.48h-5.07z"/>
<path fill="#1c4122" d="M43.06 200.23h5.07v4.48h-5.07zM173.54 209.09h5.07v4.48h-5.07zM28.00 213.52h5.07v4.48h-5.07zM38.04 222.38h5.07v4.48h-5.07zM253.83 226.81h5.07v4.48h-5.07zM43.06 244.53h5.07v4.48h-5.07zM273.91 279.98h5.07v4.48h-5.07z"/>
<path fill="#215c2e" d="M48.07 200.23h5.07v4.48h-5.07zM63.13 204.66h5.07v4.48h-5.07zM63.13 226.81h5.07v4.48h-5.07zM133.39 248.97h5.07v4.48h-5.07z"/>
<path fill="#256633" d="M53.09 200.23h5.07v4.48h-5.07zM48.07 213.52h5.07v4.48h-5.07zM228.74 266.69h5.07v4.48h-5.07z"/>
<path fill="#266834" d="M58.11 200.23h5.07v4.48h-5.07zM258.85 226.81h5.07v4.48h-5.07zM63.13 275.55h5.07v4.48h-5.07z"/>
<path fill="#1a3d20" d="M63.13 200.23h5.07v4.48h-5.07zM253.83 222.38h5.07v4.48h-5.07z"/>
<path fill="#d52d23" d="M73.17 200.23h5.07v4.48h-5.07zM88.22 248.97h5.07v4.48h-5.07z"/>
<path fill="#48110e" d="M78.19 200.23h5.07v4.48h-5.07zM228.74 248.97h5.07v4.48h-5.07zM163.50 271.12h5.07v4.48h-5.07z"/>
<path fill="#871c16" d="M88.22 200.23h5.07v4.48h-5.07z"/>
<path fill="#c12920" d="M93.24 200.23h5.07v4.48h-5.07z"/>
<path fill="#5a1611" d="M98.26 200.23h5.07v4.48h-5.07zM73.17 284.41h5.07v4.48h-5.07z"/>
<path fill="#18371d" d="M103.28 200.23h5.07v4.48h-5.07zM163.50 253.40h5.07v4.48h-5.07zM113.31 293.27h5.07v4.48h-5.07z"/>
<path fill="#256533" d="M123.35 200.23h5.07v4.48h-5.07z"/>
<path fill="#246331" d="M128.37 200.23h5.07v4.48h-5.07zM63.13 235.67h5.07v4.48h-5.07zM63.13 266.69h5.07v4.48h-5.07z"/>
<path fill="#172a19" d="M133.39 200.23h5.07v4.48h-5.07zM28.00 209.09h5.07v4.48h-5.07zM128.37 209.09h5.07v4.48h-5.07zM148.44 209.09h5.07v4.48h-5.07zM108.30 213.52h5.07v4.48h-5.07zM233.76 213.52h5.07v4.48h-5.07zM118.33 262.26h5.07v4.48h-5.07zM148.44 262.26h5.07v4.48h-5.07zM168.52 271.12h5.07v4.48h-5.07zM193.61 271.12h5.07v4.48h-5.07zM28.00 275.55h5.07v4.48h-5.07zM123.35 284.41h5.07v4.48h-5.07zM33.02 288.84h5.07v4.48h-5.07z"/>
<path fill="#1a2f1c" d="M138.41 200.23h5.07v4.48h-5.07zM123.35 222.38h5.07v4.48h-5.07zM108.30 235.67h5.07v4.48h-5.07zM103.28 244.53h5.07v4.48h-5.07zM103.28 248.97h5.07v4.48h-5.07zM123.35 248.97h5.07v4.48h-5.07z"/>
<path fill="#1a3b1f" d="M158.48 200.23h5.07v4.48h-5.07zM143.43 222.38h5.07v4.48h-5.07zM33.02 244.53h5.07v4.48h-5.07zM33.02 284.41h5.07v4.48h-5.07zM273.91 288.84h5.07v4.48h-5.07z"/>
<path fill="#19140e" d="M173.54 200.23h5.07v4.48h-5.07zM183.57 209.09h5.07v4.48h-5.07zM238.78 209.09h5.07v4.48h-5.07zM228.74 217.95h5.07v4.48h-5.07zM248.81 222.38h5.07v4.48h-5.07zM48.07 231.24h5.07v4.48h-5.07zM263.87 231.24h5.07v4.48h-5.07zM198.63 253.40h5.07v4.48h-5.07z"/>
<path fill="#49110e" d="M188.59 200.23h5.07v4.48h-5.07z"/>
<path fill="#50130f" d="M193.61 200.23h5.07v4.48h-5.07zM243.80 200.23h5.07v4.48h-5.07zM133.39 266.69h5.07v4.48h-5.07zM108.30 271.12h5.07v4.48h-5.07zM208.67 275.55h5.07v4.48h-5.07zM248.81 275.55h5.07v4.48h-5.07z"/>
<path fill="#4a120e" d="M198.63 200.23h5.07v4.48h-5.07zM88.22 209.09h5.07v4.48h-5.07zM73.17 253.40h5.07v4.48h-5.07zM128.37 266.69h5.07v4.48h-5.07z"/>
<path fill="#17130e" d="M208.67 200.23h5.07v4.48h-5.07zM263.87 209.09h5.07v4.48h-5.07zM218.70 257.83h5.07v4.48h-5.07zM283.94 288.84h5.07v4.48h-5.07zM293.98 288.84h5.07v4.48h-5.07z"/>
<path fill="#172919" d="M213.69 200.23h5.07v4.48h-5.07z"/>
<path fill="#182c1a" d="M218.70 200.23h5.07v4.48h-5.07zM148.44 226.81h5.07v4.48h-5.07zM148.44 235.67h5.07v4.48h-5.07zM163.50 235.67h5.07v4.48h-5.07zM138.41 253.40h5.07v4.48h-5.07zM38.04 257.83h5.07v4.48h-5.07zM158.48 257.83h5.07v4.48h-5.07zM253.83 257.83h5.07v4.48h-5.07zM208.67 284.41h5.07v4.48h-5.07zM103.28 288.84h5.07v4.48h-5.07zM128.37 293.27h5.07v4.48h-5.07z"/>
<path fill="#461611" d="M248.81 200.23h5.07v4.48h-5.07zM93.24 288.84h5.07v4.48h-5.07z"/>
<path fill="#1c4021" d="M253.83 200.23h5.07v4.48h-5.07zM133.39 235.67h5.07v4.48h-5.07zM243.80 240.10h5.07v4.48h-5.07zM43.06 257.83h5.07v4.48h-5.07zM163.50 257.83h5.07v4.48h-5.07zM28.00 262.26h5.07v4.48h-5.07zM33.02 262.26h5.07v4.48h-5.07zM128.37 275.55h5.07v4.48h-5.07zM153.46 284.41h5.07v4.48h-5.07zM48.07 288.84h5.07v4.48h-5.07z"/>
<path fill="#193b1e" d="M258.85 200.23h5.07v4.48h-5.07zM158.48 204.66h5.07v4.48h-5.07zM153.46 253.40h5.07v4.48h-5.07zM48.07 293.27h5.07v4.48h-5.07z"/>
<path fill="#15100c" d="M268.89 200.23h5.07v4.48h-5.07zM213.69 217.95h5.07v4.48h-5.07zM68.15 222.38h5.07v4.48h-5.07zM138.41 240.10h5.07v4.48h-5.07zM173.54 253.40h5.07v4.48h-5.07zM223.72 262.26h5.07v4.48h-5.07zM143.43 288.84h5.07v4.48h-5.07zM138.41 293.27h5.07v4.48h-5.07zM198.63 293.27h5.07v4.48h-5.07zM208.67 293.27h5.07v4.48h-5.07z"/>
<path fill="#5d1612" d="M278.93 200.23h5.07v4.48h-5.07zM98.26 209.09h5.07v4.48h-5.07zM223.72 222.38h5.07v4.48h-5.07zM78.19 231.24h5.07v4.48h-5.07zM83.20 240.10h5.07v4.48h-5.07zM83.20 262.26h5.07v4.48h-5.07zM148.44 288.84h5.07v4.48h-5.07z"/>
<path fill="#571511" d="M293.98 200.23h5.07v4.48h-5.07zM223.72 226.81h5.07v4.48h-5.07zM88.22 266.69h5.07v4.48h-5.07zM93.24 271.12h5.07v4.48h-5.07z"/>
<path fill="#152617" d="M28.00 204.66h5.07v4.48h-5.07zM163.50 213.52h5.07v4.48h-5.07zM163.50 231.24h5.07v4.48h-5.07zM128.37 244.53h5.07v4.48h-5.07zM108.30 248.97h5.07v4.48h-5.07zM178.56 293.27h5.07v4.48h-5.07z"/>
<path fill="#1a3c1f" d="M33.02 204.66h5.07v4.48h-5.07zM33.02 213.52h5.07v4.48h-5.07zM233.76 217.95h5.07v4.48h-5.07zM143.43 226.81h5.07v4.48h-5.07zM168.52 235.67h5.07v4.48h-5.07zM128.37 240.10h5.07v4.48h-5.07zM138.41 244.53h5.07v4.48h-5.07zM158.48 248.97h5.07v4.48h-5.07zM103.28 253.40h5.07v4.48h-5.07zM33.02 257.83h5.07v4.48h-5.07zM63.13 262.26h5.07v4.48h-5.07zM113.31 275.55h5.07v4.48h-5.07zM63.13 293.27h5.07v4.48h-5.07z"/>
<path fill="#19391d" d="M38.04 204.66h5.07v4.48h-5.07zM28.00 226.81h5.07v4.48h-5.07zM38.04 226.81h5.07v4.48h-5.07zM203.65 226.81h5.07v4.48h-5.07zM233.76 266.69h5.07v4.48h-5.07zM48.07 275.55h5.07v4.48h-5.07zM63.13 288.84h5.07v4.48h-5.07zM58.11 293.27h5.07v4.48h-5.07z"/>
<path fill="#215a2d" d="M43.06 204.66h5.07v4.48h-5.07zM43.06 231.24h5.07v4.48h-5.07zM58.11 240.10h5.07v4.48h-5.07zM53.09 244.53h5.07v4.48h-5.07zM48.07 284.41h5.07v4.48h-5.07z"/>
<path fill="#286d37" d="M48.07 204.66h5.07v4.48h-5.07zM43.06 235.67h5.07v4.48h-5.07z"/>
<path fill="#276d36" d="M53.09 204.66h5.07v4.48h-5.07zM43.06 209.09h5.07v4.48h-5.07zM48.07 244.53h5.07v4.48h-5.07z"/>
<path fill="#2e803f" d="M58.11 204.66h5.07v4.48h-5.07z"/>
<path fill="#871c17" d="M73.17 204.66h5.07v4.48h-5.07zM233.76 235.67h5.07v4.48h-5.07z"/>
<path fill="#581511" d="M78.19 204.66h5.07v4.48h-5.07zM73.17 226.81h5.07v4.48h-5.07z"/>
<path fill="#47110e" d="M93.24 204.66h5.07v4.48h-5.07zM238.78 235.67h5.07v4.48h-5.07z"/>
<path fill="#39120e" d="M98.26 204.66h5.07v4.48h-5.07zM88.22 213.52h5.07v4.48h-5.07zM123.35 213.52h5.07v4.48h-5.07zM278.93 217.95h5.07v4.48h-5.07zM228.74 222.38h5.07v4.48h-5.07zM88.22 226.81h5.07v4.48h-5.07zM68.15 235.67h5.07v4.48h-5.07zM288.96 244.53h5.07v4.48h-5.07zM288.96 248.97h5.07v4.48h-5.07zM113.31 262.26h5.07v4.48h-5.07zM248.81 262.26h5.07v4.48h-5.07zM188.59 275.55h5.07v4.48h-5.07zM233.76 275.55h5.07v4.48h-5.07zM93.24 284.41h5.07v4.48h-5.07zM233.76 293.27h5.07v4.48h-5.07z"/>
<path fill="#2a753b" d="M123.35 204.66h5.07v4.48h-5.07z"/>
<path fill="#236130" d="M128.37 204.66h5.07v4.48h-5.07zM43.06 217.95h5.07v4.48h-5.07zM153.46 231.24h5.07v4.48h-5.07zM48.07 248.97h5.07v4.48h-5.07zM143.43 275.55h5.07v4.48h-5.07zM58.11 279.98h5.07v4.48h-5.07z"/>
<path fill="#162918" d="M133.39 204.66h5.07v4.48h-5.07zM38.04 213.52h5.07v4.48h-5.07zM158.48 213.52h5.07v4.48h-5.07zM173.54 226.81h5.07v4.48h-5.07zM258.85 248.97h5.07v4.48h-5.07zM143.43 257.83h5.07v4.48h-5.07zM128.37 284.41h5.07v4.48h-5.07zM193.61 284.41h5.07v4.48h-5.07z"/>
<path fill="#17120e" d="M148.44 204.66h5.07v4.48h-5.07zM113.31 217.95h5.07v4.48h-5.07zM143.43 235.67h5.07v4.48h-5.07zM108.30 244.53h5.07v4.48h-5.07zM183.57 244.53h5.07v4.48h-5.07zM173.54 248.97h5.07v4.48h-5.07zM193.61 253.40h5.07v4.48h-5.07zM168.52 262.26h5.07v4.48h-5.07zM183.57 275.55h5.07v4.48h-5.07z"/>
<path fill="#276c36" d="M153.46 204.66h5.07v4.48h-5.07zM63.13 209.09h5.07v4.48h-5.07zM133.39 226.81h5.07v4.48h-5.07zM168.52 226.81h5.07v4.48h-5.07zM58.11 235.67h5.07v4.48h-5.07zM58.11 253.40h5.07v4.48h-5.07z"/>
<path fill="#182d1a" d="M173.54 204.66h5.07v4.48h-5.07zM123.35 257.83h5.07v4.48h-5.07z"/>
<path fill="#1c1610" d="M178.56 204.66h5.07v4.48h-5.07z"/>
<path fill="#441610" d="M218.70 204.66h5.07v4.48h-5.07zM288.96 204.66h5.07v4.48h-5.07zM198.63 213.52h5.07v4.48h-5.07zM108.30 222.38h5.07v4.48h-5.07zM273.91 226.81h5.07v4.48h-5.07zM88.22 231.24h5.07v4.48h-5.07zM243.80 235.67h5.07v4.48h-5.07zM283.94 253.40h5.07v4.48h-5.07zM78.19 262.26h5.07v4.48h-5.07zM278.93 271.12h5.07v4.48h-5.07zM153.46 288.84h5.07v4.48h-5.07z"/>
<path fill="#541410" d="M248.81 204.66h5.07v4.48h-5.07zM78.19 213.52h5.07v4.48h-5.07zM288.96 275.55h5.07v4.48h-5.07zM283.94 284.41h5.07v4.48h-5.07z"/>
<path fill="#19130e" d="M268.89 204.66h5.07v4.48h-5.07zM198.63 217.95h5.07v4.48h-5.07zM223.72 235.67h5.07v4.48h-5.07zM163.50 240.10h5.07v4.48h-5.07zM198.63 240.10h5.07v4.48h-5.07zM203.65 244.53h5.07v4.48h-5.07zM258.85 253.40h5.07v4.48h-5.07zM248.81 257.83h5.07v4.48h-5.07zM238.78 262.26h5.07v4.48h-5.07zM213.69 275.55h5.07v4.48h-5.07zM268.89 288.84h5.07v4.48h-5.07z"/>
<path fill="#471711" d="M273.91 204.66h5.07v4.48h-5.07zM273.91 217.95h5.07v4.48h-5.07zM188.59 248.97h5.07v4.48h-5.07zM68.15 257.83h5.07v4.48h-5.07zM208.67 257.83h5.07v4.48h-5.07zM278.93 257.83h5.07v4.48h-5.07zM243.80 266.69h5.07v4.48h-5.07zM98.26 271.12h5.07v4.48h-5.07zM78.19 275.55h5.07v4.48h-5.07zM138.41 288.84h5.07v4.48h-5.07zM278.93 288.84h5.07v4.48h-5.07zM73.17 293.27h5.07v4.48h-5.07z"/>
<path fill="#591511" d="M283.94 204.66h5.07v4.48h-5.07zM278.93 244.53h5.07v4.48h-5.07zM193.61 257.83h5.07v4.48h-5.07zM78.19 279.98h5.07v4.48h-5.07z"/>
<path fill="#17341b" d="M33.02 209.09h5.07v4.48h-5.07zM158.48 231.24h5.07v4.48h-5.07zM63.13 253.40h5.07v4.48h-5.07zM128.37 257.83h5.07v4.48h-5.07zM278.93 266.69h5.07v4.48h-5.07zM123.35 271.12h5.07v4.48h-5.07zM153.46 275.55h5.07v4.48h-5.07z"/>
<path fill="#236131" d="M48.07 209.09h5.07v4.48h-5.07zM128.37 235.67h5.07v4.48h-5.07zM58.11 248.97h5.07v4.48h-5.07zM53.09 284.41h5.07v4.48h-5.07z"/>
<path fill="#318843" d="M53.09 209.09h5.07v4.48h-5.07z"/>
<path fill="#2c7b3c" d="M58.11 209.09h5.07v4.48h-5.07z"/>
<path fill="#14100c" d="M83.20 209.09h5.07v4.48h-5.07zM173.54 262.26h5.07v4.48h-5.07zM138.41 279.98h5.07v4.48h-5.07z"/>
<path fill="#16341b" d="M143.43 209.09h5.07v4.48h-5.07zM153.46 240.10h5.07v4.48h-5.07zM263.87 240.10h5.07v4.48h-5.07zM33.02 253.40h5.07v4.48h-5.07zM163.50 275.55h5.07v4.48h-5.07zM118.33 284.41h5.07v4.48h-5.07z"/>
<path fill="#1c331e" d="M158.48 209.09h5.07v4.48h-5.07z"/>
<path fill="#c12820" d="M243.80 209.09h5.07v4.48h-5.07zM78.19 222.38h5.07v4.48h-5.07z"/>
<path fill="#c42921" d="M248.81 209.09h5.07v4.48h-5.07zM283.94 275.55h5.07v4.48h-5.07zM223.72 293.27h5.07v4.48h-5.07z"/>
<path fill="#551410" d="M278.93 209.09h5.07v4.48h-5.07zM243.80 226.81h5.07v4.48h-5.07zM93.24 231.24h5.07v4.48h-5.07zM213.69 244.53h5.07v4.48h-5.07z"/>
<path fill="#431610" d="M288.96 209.09h5.07v4.48h-5.07zM68.15 217.95h5.07v4.48h-5.07zM293.98 235.67h5.07v4.48h-5.07zM83.20 266.69h5.07v4.48h-5.07z"/>
<path fill="#921f18" d="M293.98 209.09h5.07v4.48h-5.07zM278.93 231.24h5.07v4.48h-5.07zM228.74 240.10h5.07v4.48h-5.07zM228.74 257.83h5.07v4.48h-5.07z"/>
<path fill="#2a733a" d="M43.06 213.52h5.07v4.48h-5.07zM58.11 231.24h5.07v4.48h-5.07zM253.83 231.24h5.07v4.48h-5.07zM58.11 275.55h5.07v4.48h-5.07z"/>
<path fill="#246231" d="M53.09 213.52h5.07v4.48h-5.07zM223.72 257.83h5.07v4.48h-5.07z"/>
<path fill="#2b783b" d="M58.11 213.52h5.07v4.48h-5.07z"/>
<path fill="#246332" d="M63.13 213.52h5.07v4.48h-5.07zM43.06 226.81h5.07v4.48h-5.07zM58.11 226.81h5.07v4.48h-5.07zM63.13 240.10h5.07v4.48h-5.07zM53.09 257.83h5.07v4.48h-5.07zM108.30 284.41h5.07v4.48h-5.07z"/>
<path fill="#972019" d="M73.17 213.52h5.07v4.48h-5.07zM93.24 248.97h5.07v4.48h-5.07z"/>
<path fill="#531410" d="M93.24 213.52h5.07v4.48h-5.07zM293.98 226.81h5.07v4.48h-5.07zM248.81 266.69h5.07v4.48h-5.07z"/>
<path fill="#c92a22" d="M98.26 213.52h5.07v4.48h-5.07z"/>
<path fill="#172918" d="M103.28 213.52h5.07v4.48h-5.07zM183.57 240.10h5.07v4.48h-5.07zM28.00 244.53h5.07v4.48h-5.07zM263.87 253.40h5.07v4.48h-5.07z"/>
<path fill="#286f37" d="M133.39 213.52h5.07v4.48h-5.07zM58.11 262.26h5.07v4.48h-5.07zM48.07 271.12h5.07v4.48h-5.07z"/>
<path fill="#1c3f21" d="M153.46 213.52h5.07v4.48h-5.07z"/>
<path fill="#19391e" d="M168.52 213.52h5.07v4.48h-5.07zM53.09 226.81h5.07v4.48h-5.07zM143.43 231.24h5.07v4.48h-5.07z"/>
<path fill="#152616" d="M173.54 213.52h5.07v4.48h-5.07zM108.30 217.95h5.07v4.48h-5.07zM158.48 217.95h5.07v4.48h-5.07zM33.02 222.38h5.07v4.48h-5.07zM118.33 226.81h5.07v4.48h-5.07zM148.44 231.24h5.07v4.48h-5.07zM108.30 253.40h5.07v4.48h-5.07z"/>
<path fill="#18381d" d="M238.78 213.52h5.07v4.48h-5.07zM28.00 217.95h5.07v4.48h-5.07zM173.54 217.95h5.07v4.48h-5.07zM38.04 235.67h5.07v4.48h-5.07zM163.50 248.97h5.07v4.48h-5.07zM158.48 253.40h5.07v4.48h-5.07zM63.13 257.83h5.07v4.48h-5.07zM158.48 262.26h5.07v4.48h-5.07zM33.02 275.55h5.07v4.48h-5.07zM173.54 284.41h5.07v4.48h-5.07zM53.09 293.27h5.07v4.48h-5.07z"/>
<path fill="#1b150f" d="M258.85 213.52h5.07v4.48h-5.07zM183.57 217.95h5.07v4.48h-5.07zM283.94 217.95h5.07v4.48h-5.07zM143.43 262.26h5.07v4.48h-5.07zM213.69 279.98h5.07v4.48h-5.07z"/>
<path fill="#4f130f" d="M278.93 213.52h5.07v4.48h-5.07zM283.94 235.67h5.07v4.48h-5.07zM73.17 248.97h5.07v4.48h-5.07z"/>
<path fill="#38120e" d="M288.96 213.52h5.07v4.48h-5.07zM98.26 240.10h5.07v4.48h-5.07zM243.80 248.97h5.07v4.48h-5.07zM68.15 266.69h5.07v4.48h-5.07zM243.80 293.27h5.07v4.48h-5.07zM293.98 293.27h5.07v4.48h-5.07z"/>
<path fill="#1d4423" d="M33.02 217.95h5.07v4.48h-5.07zM228.74 231.24h5.07v4.48h-5.07zM158.48 235.67h5.07v4.48h-5.07zM133.39 244.53h5.07v4.48h-5.07zM113.31 248.97h5.07v4.48h-5.07zM158.48 266.69h5.07v4.48h-5.07zM48.07 279.98h5.07v4.48h-5.07z"/>
<path fill="#297239" d="M53.09 217.95h5.07v4.48h-5.07zM58.11 257.83h5.07v4.48h-5.07zM258.85 271.12h5.07v4.48h-5.07zM58.11 284.41h5.07v4.48h-5.07z"/>
<path fill="#2d7d3e" d="M58.11 217.95h5.07v4.48h-5.07z"/>
<path fill="#225d2e" d="M63.13 217.95h5.07v4.48h-5.07zM153.46 226.81h5.07v4.48h-5.07z"/>
<path fill="#51130f" d="M73.17 217.95h5.07v4.48h-5.07zM73.17 222.38h5.07v4.48h-5.07zM273.91 222.38h5.07v4.48h-5.07zM73.17 271.12h5.07v4.48h-5.07z"/>
<path fill="#ba271f" d="M78.19 217.95h5.07v4.48h-5.07z"/>
<path fill="#eb3127" d="M83.20 217.95h5.07v4.48h-5.07z"/>
<path fill="#861c16" d="M93.24 217.95h5.07v4.48h-5.07z"/>
<path fill="#8e1e18" d="M98.26 217.95h5.07v4.48h-5.07zM293.98 217.95h5.07v4.48h-5.07zM223.72 271.12h5.07v4.48h-5.07zM203.65 275.55h5.07v4.48h-5.07z"/>
<path fill="#801b15" d="M103.28 217.95h5.07v4.48h-5.07zM278.93 240.10h5.07v4.48h-5.07zM248.81 284.41h5.07v4.48h-5.07z"/>
<path fill="#1c4121" d="M133.39 217.95h5.07v4.48h-5.07zM103.28 235.67h5.07v4.48h-5.07zM158.48 240.10h5.07v4.48h-5.07zM153.46 244.53h5.07v4.48h-5.07zM38.04 275.55h5.07v4.48h-5.07zM158.48 279.98h5.07v4.48h-5.07zM263.87 284.41h5.07v4.48h-5.07z"/>
<path fill="#18361c" d="M153.46 217.95h5.07v4.48h-5.07z"/>
<path fill="#17351b" d="M238.78 217.95h5.07v4.48h-5.07zM158.48 222.38h5.07v4.48h-5.07zM163.50 222.38h5.07v4.48h-5.07zM123.35 262.26h5.07v4.48h-5.07zM153.46 279.98h5.07v4.48h-5.07zM38.04 288.84h5.07v4.48h-5.07z"/>
<path fill="#172b19" d="M253.83 217.95h5.07v4.48h-5.07zM173.54 244.53h5.07v4.48h-5.07zM138.41 248.97h5.07v4.48h-5.07zM148.44 248.97h5.07v4.48h-5.07zM28.00 253.40h5.07v4.48h-5.07zM128.37 271.12h5.07v4.48h-5.07zM38.04 279.98h5.07v4.48h-5.07zM133.39 288.84h5.07v4.48h-5.07zM183.57 288.84h5.07v4.48h-5.07z"/>
<path fill="#287038" d="M43.06 222.38h5.07v4.48h-5.07z"/>
<path fill="#286e37" d="M53.09 222.38h5.07v4.48h-5.07z"/>
<path fill="#2e7f3f" d="M58.11 222.38h5.07v4.48h-5.07z"/>
<path fill="#2a753a" d="M63.13 222.38h5.07v4.48h-5.07z"/>
<path fill="#8f1e18" d="M83.20 222.38h5.07v4.48h-5.07z"/>
<path fill="#5b1611" d="M88.22 222.38h5.07v4.48h-5.07zM93.24 226.81h5.07v4.48h-5.07zM278.93 235.67h5.07v4.48h-5.07zM163.50 266.69h5.07v4.48h-5.07z"/>
<path fill="#441611" d="M93.24 222.38h5.07v4.48h-5.07zM258.85 244.53h5.07v4.48h-5.07zM288.96 257.83h5.07v4.48h-5.07zM88.22 262.26h5.07v4.48h-5.07zM293.98 284.41h5.07v4.48h-5.07z"/>
<path fill="#851c16" d="M103.28 222.38h5.07v4.48h-5.07z"/>
<path fill="#246432" d="M128.37 222.38h5.07v4.48h-5.07zM113.31 284.41h5.07v4.48h-5.07zM273.91 284.41h5.07v4.48h-5.07z"/>
<path fill="#18371c" d="M148.44 222.38h5.07v4.48h-5.07zM123.35 226.81h5.07v4.48h-5.07zM133.39 231.24h5.07v4.48h-5.07zM123.35 235.67h5.07v4.48h-5.07zM228.74 235.67h5.07v4.48h-5.07zM133.39 253.40h5.07v4.48h-5.07zM103.28 257.83h5.07v4.48h-5.07zM138.41 262.26h5.07v4.48h-5.07zM118.33 279.98h5.07v4.48h-5.07z"/>
<path fill="#142516" d="M153.46 222.38h5.07v4.48h-5.07z"/>
<path fill="#182b19" d="M173.54 222.38h5.07v4.48h-5.07z"/>
<path fill="#1b321e" d="M268.89 222.38h5.07v4.48h-5.07zM143.43 271.12h5.07v4.48h-5.07z"/>
<path fill="#1a311d" d="M33.02 226.81h5.07v4.48h-5.07z"/>
<path fill="#982019" d="M103.28 226.81h5.07v4.48h-5.07z"/>
<path fill="#3c130e" d="M108.30 226.81h5.07v4.48h-5.07zM218.70 235.67h5.07v4.48h-5.07zM228.74 244.53h5.07v4.48h-5.07zM73.17 262.26h5.07v4.48h-5.07zM243.80 275.55h5.07v4.48h-5.07zM288.96 284.41h5.07v4.48h-5.07z"/>
<path fill="#2a743a" d="M128.37 226.81h5.07v4.48h-5.07zM63.13 231.24h5.07v4.48h-5.07zM48.07 240.10h5.07v4.48h-5.07zM208.67 262.26h5.07v4.48h-5.07z"/>
<path fill="#401510" d="M188.59 226.81h5.07v4.48h-5.07zM248.81 226.81h5.07v4.48h-5.07zM253.83 244.53h5.07v4.48h-5.07zM98.26 257.83h5.07v4.48h-5.07zM258.85 266.69h5.07v4.48h-5.07zM108.30 275.55h5.07v4.48h-5.07zM243.80 288.84h5.07v4.48h-5.07z"/>
<path fill="#1e4423" d="M28.00 231.24h5.07v4.48h-5.07zM33.02 235.67h5.07v4.48h-5.07zM168.52 248.97h5.07v4.48h-5.07zM103.28 275.55h5.07v4.48h-5.07zM108.30 288.84h5.07v4.48h-5.07z"/>
<path fill="#1b3f20" d="M38.04 231.24h5.07v4.48h-5.07zM188.59 244.53h5.07v4.48h-5.07zM148.44 266.69h5.07v4.48h-5.07zM168.52 275.55h5.07v4.48h-5.07zM58.11 288.84h5.07v4.48h-5.07z"/>
<path fill="#20582c" d="M53.09 231.24h5.07v4.48h-5.07z"/>
<path fill="#be2820" d="M83.20 231.24h5.07v4.48h-5.07z"/>
<path fill="#35110d" d="M98.26 231.24h5.07v4.48h-5.07zM98.26 235.67h5.07v4.48h-5.07zM98.26 244.53h5.07v4.48h-5.07zM113.31 271.12h5.07v4.48h-5.07z"/>
<path fill="#5e1612" d="M103.28 231.24h5.07v4.48h-5.07zM88.22 288.84h5.07v4.48h-5.07z"/>
<path fill="#1a3d1f" d="M123.35 231.24h5.07v4.48h-5.07zM258.85 231.24h5.07v4.48h-5.07zM258.85 235.67h5.07v4.48h-5.07zM168.52 240.10h5.07v4.48h-5.07zM38.04 266.69h5.07v4.48h-5.07zM123.35 275.55h5.07v4.48h-5.07zM43.06 279.98h5.07v4.48h-5.07zM43.06 293.27h5.07v4.48h-5.07z"/>
<path fill="#297139" d="M128.37 231.24h5.07v4.48h-5.07zM203.65 231.24h5.07v4.48h-5.07z"/>
<path fill="#266a35" d="M168.52 231.24h5.07v4.48h-5.07z"/>
<path fill="#9b211a" d="M193.61 231.24h5.07v4.48h-5.07z"/>
<path fill="#5c1611" d="M233.76 231.24h5.07v4.48h-5.07zM93.24 279.98h5.07v4.48h-5.07z"/>
<path fill="#4d120f" d="M243.80 231.24h5.07v4.48h-5.07zM73.17 235.67h5.07v4.48h-5.07zM78.19 240.10h5.07v4.48h-5.07zM83.20 293.27h5.07v4.48h-5.07z"/>
<path fill="#297038" d="M48.07 235.67h5.07v4.48h-5.07zM113.31 279.98h5.07v4.48h-5.07z"/>
<path fill="#225e2f" d="M53.09 235.67h5.07v4.48h-5.07zM58.11 244.53h5.07v4.48h-5.07zM118.33 253.40h5.07v4.48h-5.07zM228.74 279.98h5.07v4.48h-5.07z"/>
<path fill="#ef3228" d="M78.19 235.67h5.07v4.48h-5.07z"/>
<path fill="#ca2a22" d="M83.20 235.67h5.07v4.48h-5.07zM93.24 253.40h5.07v4.48h-5.07zM263.87 262.26h5.07v4.48h-5.07z"/>
<path fill="#811b15" d="M203.65 235.67h5.07v4.48h-5.07zM223.72 279.98h5.07v4.48h-5.07z"/>
<path fill="#891d17" d="M213.69 235.67h5.07v4.48h-5.07zM213.69 240.10h5.07v4.48h-5.07z"/>
<path fill="#1c4222" d="M33.02 240.10h5.07v4.48h-5.07zM118.33 257.83h5.07v4.48h-5.07zM28.00 266.69h5.07v4.48h-5.07zM43.06 266.69h5.07v4.48h-5.07zM198.63 266.69h5.07v4.48h-5.07zM108.30 279.98h5.07v4.48h-5.07zM128.37 279.98h5.07v4.48h-5.07z"/>
<path fill="#1a3b1e" d="M38.04 240.10h5.07v4.48h-5.07zM43.06 248.97h5.07v4.48h-5.07zM38.04 253.40h5.07v4.48h-5.07zM168.52 266.69h5.07v4.48h-5.07zM123.35 293.27h5.07v4.48h-5.07z"/>
<path fill="#276b36" d="M43.06 240.10h5.07v4.48h-5.07z"/>
<path fill="#225c2e" d="M53.09 240.10h5.07v4.48h-5.07z"/>
<path fill="#cb2b22" d="M88.22 240.10h5.07v4.48h-5.07z"/>
<path fill="#1b3d20" d="M103.28 240.10h5.07v4.48h-5.07z"/>
<path fill="#182b1a" d="M123.35 240.10h5.07v4.48h-5.07zM143.43 244.53h5.07v4.48h-5.07z"/>
<path fill="#781914" d="M218.70 240.10h5.07v4.48h-5.07z"/>
<path fill="#38120d" d="M233.76 240.10h5.07v4.48h-5.07zM93.24 293.27h5.07v4.48h-5.07z"/>
<path fill="#36120d" d="M273.91 240.10h5.07v4.48h-5.07zM78.19 284.41h5.07v4.48h-5.07z"/>
<path fill="#791914" d="M283.94 240.10h5.07v4.48h-5.07zM88.22 284.41h5.07v4.48h-5.07z"/>
<path fill="#39130e" d="M293.98 240.10h5.07v4.48h-5.07zM88.22 257.83h5.07v4.48h-5.07z"/>
<path fill="#961f19" d="M83.20 244.53h5.07v4.48h-5.07zM223.72 275.55h5.07v4.48h-5.07z"/>
<path fill="#f13328" d="M88.22 244.53h5.07v4.48h-5.07z"/>
<path fill="#c02820" d="M93.24 244.53h5.07v4.48h-5.07z"/>
<path fill="#99201a" d="M218.70 244.53h5.07v4.48h-5.07z"/>
<path fill="#1e4523" d="M238.78 244.53h5.07v4.48h-5.07z"/>
<path fill="#16331b" d="M38.04 248.97h5.07v4.48h-5.07zM118.33 248.97h5.07v4.48h-5.07z"/>
<path fill="#266934" d="M53.09 248.97h5.07v4.48h-5.07zM53.09 253.40h5.07v4.48h-5.07zM53.09 271.12h5.07v4.48h-5.07z"/>
<path fill="#17351c" d="M63.13 248.97h5.07v4.48h-5.07zM278.93 262.26h5.07v4.48h-5.07zM158.48 284.41h5.07v4.48h-5.07z"/>
<path fill="#e43026" d="M78.19 248.97h5.07v4.48h-5.07z"/>
<path fill="#881d17" d="M233.76 248.97h5.07v4.48h-5.07zM78.19 288.84h5.07v4.48h-5.07zM228.74 293.27h5.07v4.48h-5.07z"/>
<path fill="#1d4323" d="M43.06 253.40h5.07v4.48h-5.07zM48.07 262.26h5.07v4.48h-5.07z"/>
<path fill="#236030" d="M48.07 253.40h5.07v4.48h-5.07zM63.13 271.12h5.07v4.48h-5.07zM198.63 279.98h5.07v4.48h-5.07zM168.52 284.41h5.07v4.48h-5.07z"/>
<path fill="#821b16" d="M78.19 253.40h5.07v4.48h-5.07z"/>
<path fill="#761914" d="M88.22 253.40h5.07v4.48h-5.07zM278.93 275.55h5.07v4.48h-5.07z"/>
<path fill="#20592d" d="M123.35 253.40h5.07v4.48h-5.07zM128.37 253.40h5.07v4.48h-5.07z"/>
<path fill="#431510" d="M178.56 253.40h5.07v4.48h-5.07z"/>
<path fill="#5a1511" d="M228.74 253.40h5.07v4.48h-5.07z"/>
<path fill="#7f1b15" d="M293.98 253.40h5.07v4.48h-5.07z"/>
<path fill="#5c1612" d="M93.24 257.83h5.07v4.48h-5.07z"/>
<path fill="#1d4322" d="M133.39 257.83h5.07v4.48h-5.07zM103.28 284.41h5.07v4.48h-5.07z"/>
<path fill="#901e18" d="M188.59 257.83h5.07v4.48h-5.07zM78.19 271.12h5.07v4.48h-5.07z"/>
<path fill="#4c120f" d="M203.65 257.83h5.07v4.48h-5.07z"/>
<path fill="#9d211a" d="M268.89 257.83h5.07v4.48h-5.07z"/>
<path fill="#225f2f" d="M53.09 262.26h5.07v4.48h-5.07zM58.11 266.69h5.07v4.48h-5.07z"/>
<path fill="#931f18" d="M133.39 262.26h5.07v4.48h-5.07zM293.98 262.26h5.07v4.48h-5.07zM73.17 266.69h5.07v4.48h-5.07z"/>
<path fill="#b3261e" d="M188.59 262.26h5.07v4.48h-5.07z"/>
<path fill="#1f572b" d="M203.65 262.26h5.07v4.48h-5.07z"/>
<path fill="#b4261e" d="M288.96 262.26h5.07v4.48h-5.07zM288.96 266.69h5.07v4.48h-5.07z"/>
<path fill="#215b2e" d="M48.07 266.69h5.07v4.48h-5.07z"/>
<path fill="#256734" d="M53.09 266.69h5.07v4.48h-5.07zM53.09 275.55h5.07v4.48h-5.07z"/>
<path fill="#d72d24" d="M78.19 266.69h5.07v4.48h-5.07zM83.20 279.98h5.07v4.48h-5.07z"/>
<path fill="#40150f" d="M93.24 266.69h5.07v4.48h-5.07z"/>
<path fill="#1a301c" d="M103.28 266.69h5.07v4.48h-5.07zM158.48 275.55h5.07v4.48h-5.07zM253.83 275.55h5.07v4.48h-5.07zM163.50 279.98h5.07v4.48h-5.07zM28.00 284.41h5.07v4.48h-5.07zM38.04 284.41h5.07v4.48h-5.07zM143.43 284.41h5.07v4.48h-5.07zM118.33 293.27h5.07v4.48h-5.07z"/>
<path fill="#561410" d="M108.30 266.69h5.07v4.48h-5.07zM228.74 288.84h5.07v4.48h-5.07z"/>
<path fill="#192f1c" d="M138.41 266.69h5.07v4.48h-5.07zM138.41 271.12h5.07v4.48h-5.07z"/>
<path fill="#256532" d="M173.54 266.69h5.07v4.48h-5.07z"/>
<path fill="#4c120e" d="M263.87 266.69h5.07v4.48h-5.07z"/>
<path fill="#2a763a" d="M58.11 271.12h5.07v4.48h-5.07z"/>
<path fill="#951f19" d="M248.81 271.12h5.07v4.48h-5.07z"/>
<path fill="#9a201a" d="M283.94 271.12h5.07v4.48h-5.07z"/>
<path fill="#4e120f" d="M288.96 271.12h5.07v4.48h-5.07z"/>
<path fill="#20572c" d="M138.41 275.55h5.07v4.48h-5.07z"/>
<path fill="#286f38" d="M173.54 275.55h5.07v4.48h-5.07z"/>
<path fill="#ed3228" d="M273.91 275.55h5.07v4.48h-5.07z"/>
<path fill="#5f1712" d="M293.98 275.55h5.07v4.48h-5.07zM223.72 284.41h5.07v4.48h-5.07z"/>
<path fill="#20592c" d="M53.09 279.98h5.07v4.48h-5.07z"/>
<path fill="#2a7339" d="M193.61 279.98h5.07v4.48h-5.07zM53.09 288.84h5.07v4.48h-5.07z"/>
<path fill="#8c1d17" d="M233.76 279.98h5.07v4.48h-5.07z"/>
<path fill="#c22920" d="M253.83 279.98h5.07v4.48h-5.07z"/>
<path fill="#de2f25" d="M258.85 279.98h5.07v4.48h-5.07z"/>
<path fill="#dd2e25" d="M83.20 284.41h5.07v4.48h-5.07z"/>
<path fill="#276a35" d="M123.35 288.84h5.07v4.48h-5.07z"/>
<path fill="#cd2b22" d="M223.72 288.84h5.07v4.48h-5.07z"/>
</g></g>
<path fill="none" stroke="#b0b0b0" stroke-width="0.6" d="M28.3 44.9H27.3V47.8H28.3M28.3 42.0H25.8V46.3H27.3M28.3 56.5H27.3V59.5H28.3M27.3 58.0H26.2V62.4H28.3M28.3 53.6H25.1V60.2H26.2M28.3 50.7H23.2V56.9H25.1M25.8 44.1H22.0V53.8H23.2M28.3 68.2H27.2V71.1H28.3M28.3 65.3H26.6V69.7H27.2M28.3 77.0H27.6V79.9H28.3M28.3 82.8H27.3V85.7H28.3M27.6 78.4H25.6V84.2H27.3M28.3 74.0H24.3V81.3H25.6M26.6 67.5H22.2V77.7H24.3M28.3 91.5H27.0V94.5H28.3M27.0 93.0H26.3V97.4H28.3M28.3 88.6H25.2V95.2H26.3M22.2 72.6H21.1V91.9H25.2M22.0 49.0H18.5V82.2H21.1M28.3 100.3H27.3V103.2H28.3M27.3 101.8H26.2V106.1H28.3M28.3 109.0H27.0V112.0H28.3M28.3 117.8H27.1V120.7H28.3M28.3 114.9H25.5V119.2H27.1M27.0 110.5H23.9V117.1H25.5M26.2 103.9H22.8V113.8H23.9M28.3 126.5H27.2V129.5H28.3M28.3 123.6H26.4V128.0H27.2M26.4 125.8H24.8V132.4H28.3M22.8 108.9H20.6V129.1H24.8M28.3 138.2H27.1V141.1H28.3M27.1 139.7H25.5V144.0H28.3M28.3 135.3H24.7V141.9H25.5M20.6 119.0H17.6V138.6H24.7M18.5 65.6H14.5V128.8H17.6M30.0 40.5V40.4H33.0V40.5M36.0 40.5V40.4H39.0V40.5M31.5 40.4V40.2H37.5V40.4M42.0 40.5V40.4H45.0V40.5M57.1 40.5V40.3H60.1V40.5M54.0 40.5V40.1H58.6V40.3M51.0 40.5V39.9H56.3V40.1M48.0 40.5V39.7H53.7V39.9M43.5 40.4V39.5H50.9V39.7M63.1 40.5V40.4H66.1V40.5M69.1 40.5V40.4H72.1V40.5M75.1 40.5V40.4H78.1V40.5M76.6 40.4V40.2H81.1V40.5M84.1 40.5V40.3H87.1V40.5M78.8 40.2V40.0H85.6V40.3M70.6 40.4V39.8H82.2V40.0M64.6 40.4V39.4H76.4V39.8M47.2 39.5V39.2H70.5V39.4M34.5 40.2V38.5H58.8V39.2M96.1 40.5V40.4H99.1V40.5M93.1 40.5V40.2H97.6V40.4M90.1 40.5V40.0H95.4V40.2M108.1 40.5V40.3H111.2V40.5M109.7 40.3V40.2H114.2V40.5M117.2 40.5V40.4H120.2V40.5M111.9 40.2V40.0H118.7V40.4M105.1 40.5V39.9H115.3V40.0M102.1 40.5V39.5H110.2V39.9M92.7 40.0V39.1H106.2V39.5M46.7 38.5V38.1H99.5V39.1M123.2 40.5V40.3H126.2V40.5M132.2 40.5V40.4H135.2V40.5M129.2 40.5V40.3H133.7V40.4M124.7 40.3V40.0H131.4V40.3M138.2 40.5V40.4H141.2V40.5M147.2 40.5V40.3H150.2V40.5M144.2 40.5V40.1H148.7V40.3M153.2 40.5V40.4H156.2V40.5M146.5 40.1V39.9H154.7V40.4M139.7 40.4V39.7H150.6V39.9M128.1 40.0V39.2H145.2V39.7M168.3 40.5V40.3H171.3V40.5M165.3 40.5V40.1H169.8V40.3M162.2 40.5V40.0H167.5V40.1M159.2 40.5V39.7H164.9V40.0M174.3 40.5V40.3H177.3V40.5M183.3 40.5V40.4H186.3V40.5M195.3 40.5V40.3H198.3V40.5M192.3 40.5V40.1H196.8V40.3M189.3 40.5V39.8H194.6V40.1M184.8 40.4V39.6H191.9V39.8M180.3 40.5V39.5H188.4V39.6M175.8 40.3V39.0H184.3V39.5M162.1 39.7V38.7H180.0V39.0M201.3 40.5V40.3H204.3V40.5M210.3 40.5V40.4H213.3V40.5M207.3 40.5V40.2H211.8V40.4M202.8 40.3V40.1H209.6V40.2M171.1 38.7V38.3H206.2V40.1M216.3 40.5V40.4H219.4V40.5M222.4 40.5V40.4H225.4V40.5M228.4 40.5V40.3H231.4V40.5M223.9 40.4V40.1H229.9V40.3M217.8 40.4V39.9H226.9V40.1M234.4 40.5V40.3H237.4V40.5M235.9 40.3V40.2H240.4V40.5M222.4 39.9V39.7H238.1V40.2M243.4 40.5V40.3H246.4V40.5M249.4 40.5V40.4H252.4V40.5M244.9 40.3V40.1H250.9V40.4M230.2 39.7V39.2H247.9V40.1M255.4 40.5V40.3H258.4V40.5M261.4 40.5V40.4H264.4V40.5M262.9 40.4V40.1H267.4V40.5M256.9 40.3V39.9H265.2V40.1M270.4 40.5V40.3H273.5V40.5M271.9 40.3V40.1H276.5V40.5M261.1 39.9V39.7H274.2V40.1M279.5 40.5V40.4H282.5V40.5M285.5 40.5V40.3H288.5V40.5M281.0 40.4V40.1H287.0V40.3M291.5 40.5V40.4H294.5V40.5M293.0 40.4V40.2H297.5V40.5M284.0 40.1V39.8H295.2V40.2M267.6 39.7V39.2H289.6V39.8M239.1 39.2V38.8H278.6V39.2M188.6 38.3V37.5H258.8V38.8M136.6 39.2V36.5H223.7V37.5M73.1 38.1V35.5H180.2V36.5M51.3 35.2V28.2H232V33 M28.5 36.5V35.2H74.8V36.5 M210.5 37V33H253V35.5 M235.5 37V35.5H280V37M28.0 202.4H27.0V206.9H28.0M28.0 198.0H25.8V204.7H27.0M28.0 211.3H26.7V215.7H28.0M28.0 220.2H27.2V224.6H28.0M26.7 213.5H24.5V222.4H27.2M28.0 237.9H26.5V242.3H28.0M28.0 246.8H26.8V251.2H28.0M26.5 240.1H24.6V249.0H26.8M28.0 233.5H23.1V244.5H24.6M28.0 229.0H20.9V239.0H23.1M24.5 218.0H19.5V234.0H20.9M25.8 201.3H17.5V226.0H19.5M28.0 255.6H27.0V260.0H28.0M28.0 264.5H27.0V268.9H28.0M27.0 257.8H26.1V266.7H27.0M28.0 273.3H26.7V277.8H28.0M26.1 262.3H25.2V275.5H26.7M28.0 286.6H26.5V291.1H28.0M26.5 288.8H25.6V295.5H28.0M28.0 282.2H24.5V292.2H25.6M25.2 268.9H21.7V287.2H24.5M17.5 213.7H13.0V278.0H21.7M40.5 195.8V195.4H45.6V195.8M35.5 195.8V195.1H43.1V195.4M30.5 195.8V194.8H39.3V195.1M55.6 195.8V195.3H60.6V195.8M50.6 195.8V194.7H58.1V195.3M34.9 194.8V194.4H54.3V194.7M65.6 195.8V195.4H70.7V195.8M75.7 195.8V195.3H80.7V195.8M68.1 195.4V194.7H78.2V195.3M44.6 194.4V193.8H73.2V194.7M85.7 195.8V195.5H90.7V195.8M95.8 195.8V195.5H100.8V195.8M88.2 195.5V195.0H98.3V195.5M105.8 195.8V195.5H110.8V195.8M115.8 195.8V195.4H120.8V195.8M118.3 195.4V194.9H125.9V195.8M108.3 195.5V194.3H122.1V194.9M93.2 195.0V193.8H115.2V194.3M58.9 193.8V192.6H104.2V193.8M140.9 195.8V195.5H145.9V195.8M143.4 195.5V195.2H151.0V195.8M135.9 195.8V194.7H147.2V195.2M130.9 195.8V194.3H141.5V194.7M161.0 195.8V195.5H166.0V195.8M156.0 195.8V195.0H163.5V195.5M171.0 195.8V195.4H176.0V195.8M186.1 195.8V195.5H191.1V195.8M181.1 195.8V195.1H188.6V195.5M173.5 195.4V194.5H184.8V195.1M159.7 195.0V193.9H179.2V194.5M201.1 195.8V195.4H206.2V195.8M203.6 195.4V195.0H211.2V195.8M196.1 195.8V194.4H207.4V195.0M169.5 193.9V193.2H201.8V194.4M136.2 194.3V192.1H185.6V193.2M216.2 195.8V195.3H221.2V195.8M226.2 195.8V195.4H231.2V195.8M246.3 195.8V195.5H251.3V195.8M241.3 195.8V195.0H248.8V195.5M236.3 195.8V194.6H245.1V195.0M228.7 195.4V194.1H240.7V194.6M218.7 195.3V193.7H234.7V194.1M261.4 195.8V195.4H266.4V195.8M263.9 195.4V195.0H271.4V195.8M276.4 195.8V195.6H281.4V195.8M267.6 195.0V194.5H278.9V195.6M256.3 195.8V194.0H273.3V194.5M286.5 195.8V195.4H291.5V195.8M289.0 195.4V194.9H296.5V195.8M264.8 194.0V193.0H292.7V194.9M226.7 193.7V192.1H278.8V193.0M160.9 192.1V190.3H252.7V192.1M81.6 192.6V189.5H206.8V190.3M45.2 191.2V182.5H142.3V185.5 M34.4 193V191.2H69.5V193 M85 187V185.5H200V188 M73.5 190V187H95V189 M160 190V188H260V189.5 M230 189.5H295V191"/>
<path stroke="#7c7c7c" stroke-width="1.00" fill="none" d="M28.60 298.9v4.7M30.72 298.9v5.2M32.84 298.9v5.1M34.96 298.9v5.0M37.08 298.9v4.8M39.20 298.9v5.2M41.32 298.9v5.2M43.44 298.9v5.0M45.56 298.9v5.0M47.68 298.9v4.8M49.80 298.9v4.6M51.92 298.9v4.9M54.04 298.9v5.1M56.16 298.9v4.7M58.28 298.9v5.2M60.40 298.9v4.8M62.52 298.9v4.8M64.64 298.9v4.6M66.76 298.9v5.4M68.88 298.9v5.2M71.00 298.9v5.3M73.12 298.9v5.1M75.24 298.9v4.6M77.36 298.9v4.9M79.48 298.9v5.0M81.60 298.9v4.7M83.72 298.9v5.4M85.84 298.9v4.9M87.96 298.9v4.7M90.08 298.9v5.3M92.20 298.9v4.7M94.32 298.9v5.3M96.44 298.9v5.0M98.56 298.9v5.0M100.68 298.9v4.9M102.80 298.9v5.0M104.92 298.9v4.7M107.04 298.9v4.6M109.16 298.9v5.3M111.28 298.9v4.8M113.40 298.9v5.2M115.52 298.9v4.8M117.64 298.9v5.4M119.76 298.9v5.3M121.88 298.9v5.2M124.00 298.9v5.2M126.12 298.9v5.1M128.24 298.9v5.2M130.36 298.9v4.7M132.48 298.9v5.0M134.60 298.9v5.3M136.72 298.9v4.8M138.84 298.9v5.3M140.96 298.9v5.3M143.08 298.9v4.9M145.20 298.9v4.9M147.32 298.9v5.0M149.44 298.9v4.9M151.56 298.9v5.4M153.68 298.9v4.9M155.80 298.9v4.6M157.92 298.9v4.7M160.04 298.9v5.2M162.16 298.9v5.4M164.28 298.9v5.0M166.40 298.9v5.0M168.52 298.9v5.0M170.64 298.9v5.2M172.76 298.9v4.8M174.88 298.9v5.1M177.00 298.9v5.0M179.12 298.9v5.1M181.24 298.9v4.7M183.36 298.9v4.7M185.48 298.9v4.9M187.60 298.9v5.3M189.72 298.9v4.9M191.84 298.9v5.1M193.96 298.9v4.8M196.08 298.9v4.7M198.20 298.9v4.7M200.32 298.9v5.3M202.44 298.9v5.2M204.56 298.9v4.9M206.68 298.9v5.1M208.80 298.9v5.1M210.92 298.9v5.3M213.04 298.9v5.4M215.16 298.9v4.9M217.28 298.9v5.4M219.40 298.9v5.4M221.52 298.9v5.1M223.64 298.9v5.3M225.76 298.9v5.0M227.88 298.9v4.9M230.00 298.9v4.8M232.12 298.9v5.3M234.24 298.9v4.7M236.36 298.9v4.7M238.48 298.9v5.2M240.60 298.9v5.2M242.72 298.9v5.0M244.84 298.9v5.3M246.96 298.9v4.6M249.08 298.9v4.8M251.20 298.9v4.8M253.32 298.9v4.9M255.44 298.9v4.7M257.56 298.9v4.7M259.68 298.9v4.9M261.80 298.9v5.3M263.92 298.9v5.4M266.04 298.9v5.2M268.16 298.9v5.0M270.28 298.9v4.8M272.40 298.9v5.4M274.52 298.9v5.0M276.64 298.9v5.2M278.76 298.9v4.6M280.88 298.9v4.8M283.00 298.9v5.3M285.12 298.9v5.2M287.24 298.9v5.3M289.36 298.9v5.1M291.48 298.9v4.9M293.60 298.9v5.1M295.72 298.9v5.3M297.84 298.9v4.8"/><path stroke="#9c9c9c" stroke-width="0.90" fill="none" d="M28.60 305.0v3.2M30.72 305.0v1.9M32.84 305.0v4.3M34.96 305.0v0.6M37.08 305.0v3.9M39.20 305.0v5.3M41.32 305.0v0.6M43.44 305.0v3.5M45.56 305.0v3.7M47.68 305.0v4.8M49.80 305.0v3.4M51.92 305.0v1.8M54.04 305.0v2.5M56.16 305.0v5.3M58.28 305.0v5.0M60.40 305.0v1.2M62.52 305.0v1.0M64.64 305.0v1.0M66.76 305.0v0.6M68.88 305.0v2.7M71.00 305.0v1.2M73.12 305.0v4.8M75.24 305.0v3.8M77.36 305.0v1.1M79.48 305.0v3.2M81.60 305.0v2.1M83.72 305.0v3.0M85.84 305.0v1.6M87.96 305.0v1.3M90.08 305.0v1.4M92.20 305.0v2.4M94.32 305.0v4.0M96.44 305.0v3.3M98.56 305.0v0.7M100.68 305.0v4.1M102.80 305.0v4.9M104.92 305.0v4.4M107.04 305.0v4.5M109.16 305.0v0.5M111.28 305.0v2.8M113.40 305.0v0.8M115.52 305.0v4.3M117.64 305.0v1.4M119.76 305.0v4.1M121.88 305.0v1.8M124.00 305.0v4.0M126.12 305.0v2.1M128.24 305.0v0.7M130.36 305.0v2.4M132.48 305.0v2.0M134.60 305.0v5.0M136.72 305.0v2.0M138.84 305.0v3.0M140.96 305.0v3.2M143.08 305.0v5.2M145.20 305.0v1.0M147.32 305.0v3.5M149.44 305.0v3.0M151.56 305.0v4.2M153.68 305.0v5.3M155.80 305.0v2.1M157.92 305.0v4.0M160.04 305.0v3.1M162.16 305.0v3.3M164.28 305.0v0.8M166.40 305.0v4.6M168.52 305.0v5.4M170.64 305.0v2.3M172.76 305.0v2.1M174.88 305.0v5.5M177.00 305.0v1.0M179.12 305.0v0.9M181.24 305.0v0.9M183.36 305.0v4.6M185.48 305.0v4.3M187.60 305.0v2.7M189.72 305.0v3.6M191.84 305.0v0.6M193.96 305.0v3.7M196.08 305.0v2.7M198.20 305.0v3.1M200.32 305.0v2.4M202.44 305.0v2.5M204.56 305.0v1.6M206.68 305.0v0.7M208.80 305.0v2.7M210.92 305.0v1.7M213.04 305.0v4.0M215.16 305.0v4.6M217.28 305.0v4.1M219.40 305.0v2.8M221.52 305.0v1.7M223.64 305.0v2.4M225.76 305.0v2.9M227.88 305.0v3.7M230.00 305.0v5.3M232.12 305.0v0.9M234.24 305.0v2.9M236.36 305.0v3.0M238.48 305.0v4.1M240.60 305.0v5.0M242.72 305.0v4.4M244.84 305.0v3.6M246.96 305.0v4.3M249.08 305.0v3.8M251.20 305.0v4.8M253.32 305.0v4.0M255.44 305.0v3.9M257.56 305.0v1.7M259.68 305.0v5.1M261.80 305.0v2.4M263.92 305.0v3.6M266.04 305.0v4.6M268.16 305.0v5.3M270.28 305.0v5.4M272.40 305.0v0.5M274.52 305.0v2.1M276.64 305.0v2.1M278.76 305.0v2.5M280.88 305.0v1.2M283.00 305.0v3.3M285.12 305.0v0.9M287.24 305.0v2.0M289.36 305.0v5.2M291.48 305.0v4.2M293.60 305.0v2.8M295.72 305.0v1.0M297.84 305.0v5.3"/>
<rect x="28.5" y="38.4" width="270.5" height="1.6" fill="#b4b4b4" opacity="0.8"/>
<rect x="28" y="193.8" width="271" height="1.6" fill="#c0c0c0" opacity="0.6"/>
<!-- upper col labels -->
<defs><linearGradient id="cb" x1="0" y1="0" x2="0" y2="1"><stop offset="0" stop-color="#7e7e80"/><stop offset="0.5" stop-color="#8f8f92"/><stop offset="1" stop-color="#b8b8ba"/></linearGradient></defs>
<rect x="28" y="146.5" width="271" height="1.1" fill="#8e8e8e"/>
<rect x="28" y="148.5" width="271" height="6.8" fill="url(#cb)"/>
<rect x="28" y="155.3" width="271" height="1.2" fill="#dadada"/>
<path fill="#a0a0a0" d="M299.8 41.36h8.9v1.2h-8.9zM299.8 44.27h7.5v1.2h-7.5zM299.8 47.19h6.9v1.2h-6.9zM299.8 50.11h7.4v1.2h-7.4zM299.8 53.02h5.0v1.2h-5.0zM299.8 55.94h6.0v1.2h-6.0zM299.8 58.86h5.5v1.2h-5.5zM299.8 61.77h8.3v1.2h-8.3zM299.8 64.69h4.6v1.2h-4.6zM299.8 67.61h6.5v1.2h-6.5zM299.8 70.52h8.4v1.2h-8.4zM299.8 73.44h8.0v1.2h-8.0zM299.8 76.36h7.7v1.2h-7.7zM299.8 79.27h5.9v1.2h-5.9zM299.8 82.19h5.5v1.2h-5.5zM299.8 85.11h7.7v1.2h-7.7zM299.8 88.02h5.8v1.2h-5.8zM299.8 90.94h7.8v1.2h-7.8zM299.8 93.86h6.1v1.2h-6.1zM299.8 96.77h7.9v1.2h-7.9zM299.8 99.69h7.1v1.2h-7.1zM299.8 102.61h8.2v1.2h-8.2zM299.8 105.52h8.9v1.2h-8.9zM299.8 108.44h6.2v1.2h-6.2zM299.8 111.36h8.9v1.2h-8.9zM299.8 114.27h4.5v1.2h-4.5zM299.8 117.19h8.4v1.2h-8.4zM299.8 120.11h4.6v1.2h-4.6zM299.8 123.02h7.0v1.2h-7.0zM299.8 125.94h6.2v1.2h-6.2zM299.8 128.86h8.0v1.2h-8.0zM299.8 131.78h5.9v1.2h-5.9zM299.8 134.69h5.4v1.2h-5.4zM299.8 137.61h8.0v1.2h-8.0zM299.8 140.53h7.0v1.2h-7.0zM299.8 143.44h7.9v1.2h-7.9z"/>
<path fill="#8c8c8c" d="M300.0 197.27h6.7v1.5h-6.7zM300.0 201.70h4.7v1.5h-4.7zM300.0 206.13h8.0v1.5h-8.0zM300.0 210.56h5.5v1.5h-5.5zM300.0 214.99h6.6v1.5h-6.6zM300.0 219.42h4.5v1.5h-4.5zM300.0 223.85h5.7v1.5h-5.7zM300.0 228.28h7.5v1.5h-7.5zM300.0 232.71h7.9v1.5h-7.9zM300.0 237.14h7.4v1.5h-7.4zM300.0 241.57h6.5v1.5h-6.5zM300.0 246.00h7.8v1.5h-7.8zM300.0 250.43h7.5v1.5h-7.5zM300.0 254.86h5.4v1.5h-5.4zM300.0 259.29h6.9v1.5h-6.9zM300.0 263.72h7.2v1.5h-7.2zM300.0 268.15h7.8v1.5h-7.8zM300.0 272.58h5.4v1.5h-5.4zM300.0 277.01h5.9v1.5h-5.9zM300.0 281.44h6.0v1.5h-6.0zM300.0 285.87h4.9v1.5h-4.9zM300.0 290.30h6.1v1.5h-6.1zM300.0 294.73h7.8v1.5h-7.8z"/>
<!-- legends -->
<defs>
<linearGradient id="lg" x1="0" y1="0" x2="0" y2="1">
<stop offset="0" stop-color="#b84848"/><stop offset="0.5" stop-color="#141414"/><stop offset="1" stop-color="#68c480"/>
</linearGradient>
</defs>
<rect x="311" y="41.3" width="2.8" height="36.7" fill="url(#lg)"/>
<path stroke="#777" stroke-width="1.4" d="M315.3 42.5v1.6M315.3 50.5v1.6M315.3 58.9v1.6M315.3 67.6v1.6M315.3 76.2v1.6"/>
<rect x="311" y="196" width="2.6" height="36" fill="url(#lg)"/>
<path stroke="#777" stroke-width="1.4" d="M315.3 197.2v1.6M315.3 205.3v1.6M315.3 213.5v1.6M315.3 221.7v1.6M315.3 229.9v1.6"/>
<!-- Venn -->
<defs>
<clipPath id="cO"><circle cx="433" cy="56.5" r="38"/></clipPath>
<clipPath id="cG"><circle cx="460" cy="97" r="36"/></clipPath>
</defs>
<circle cx="433" cy="56.5" r="37.6" fill="#fac696" stroke="#f0bd8e" stroke-width="0.9"/>
<circle cx="460" cy="97" r="36" fill="#eae7e2"/>
<circle cx="460" cy="97" r="36" fill="#dac8af" clip-path="url(#cO)"/>
<circle cx="411.8" cy="98.4" r="37.2" fill="#fce173"/>
<circle cx="411.8" cy="98.4" r="37.2" fill="#fcc850" clip-path="url(#cO)"/>
<circle cx="411.8" cy="98.4" r="37.2" fill="#f8d76e" clip-path="url(#cG)"/>
<g clip-path="url(#cO)"><circle cx="411.8" cy="98.4" r="37.2" fill="#ebcd50" clip-path="url(#cG)"/></g>
<g font-size="9.6" fill="#222">
<text x="363.4" y="14.2" font-size="9.85">Mus81 coexpression (571 tissues)</text>
<text x="420.6" y="50.9">5,044</text>
<text x="390.4" y="103.5">4,422</text>
<text x="431.5" y="90.4">15</text>
<text x="462.3" y="103.5">81</text>
</g>
<g font-size="8.7" fill="#222">
<text x="355.8" y="143.7">Mus81 Coexpression</text>
<text x="376" y="153.8">(108 cells)</text>
<text x="465.4" y="146.5">BRD4 Targets</text>
</g>
<!-- Bar chart 1 -->
<g font-size="8.6" fill="#222"><text x="370" y="176.8">SGC7901</text><text x="470.3" y="176.3">BGC823</text></g>
<g stroke="#0a0a0a" stroke-width="1.25" fill="none">
<path d="M360.3 181.5V278.2H419 M357.6 182H360.3 M357.6 214.1H360.3 M357.6 246.1H360.3 M357.6 278.2H360.3 M370.1 278.2V281.5 M389.8 278.2V281.5 M409.3 278.2V281.5"/>
<path d="M370.1 213.8V202.3 M366.6 202.3H373.8 M389.9 245V231.4 M386.1 231.4H393.8 M409.2 244.2V226.7 M405.5 226.7H413"/>
</g>
<g fill="#221b12" stroke="#111" stroke-width="0.6">
<rect x="363.1" y="213.8" width="14.2" height="64.4"/>
<rect x="382.9" y="245" width="14" height="33.2"/>
<rect x="402.3" y="244.2" width="14" height="34"/>
</g>
<g font-size="8.6" fill="#222" text-anchor="end" style="stroke-width:0.1px">
<text x="355.8" y="185.2">1.5</text><text x="355.8" y="217.3">1.0</text><text x="355.8" y="249.3">0.5</text><text x="355.8" y="281.4">0.0</text>
</g>
<circle cx="389.9" cy="227.2" r="1.6" fill="#9a9a9a"/><circle cx="409.1" cy="222.6" r="1.6" fill="#9a9a9a"/>
<text transform="translate(338.5,220) rotate(-90)" text-anchor="middle" font-size="8.2" fill="#222">Mus81 mRNA Level</text>
<g font-size="8.6" fill="#222" text-anchor="end" style="stroke-width:0.08px">
<text transform="translate(371.8,289) rotate(-45)">Control</text>
<text transform="translate(391.8,289) rotate(-45)">Sirt5 siRNA#1</text>
<text transform="translate(411.5,289.3) rotate(-45)">Sirt5 siRNA#2</text>
</g>
<!-- Bar chart 2 -->
<g stroke="#0a0a0a" stroke-width="1.25" fill="none">
<path d="M460.8 181.5V278.7H518.5 M458 181.9H460.8 M458 206.1H460.8 M458 230.3H460.8 M458 254.5H460.8 M458 278.7H460.8 M470.3 278.7V282 M490 278.7V282 M509.7 278.7V282"/>
<path d="M470.6 219.7V198.8 M466.6 198.8H474.2 M490 260V251.7 M486.3 251.7H493.7 M509.6 257V251.7 M505.8 251.7H513.3"/>
</g>
<g fill="#221b12" stroke="#111" stroke-width="0.6">
<rect x="463.4" y="219.7" width="14" height="59"/>
<rect x="483.2" y="260" width="13.8" height="18.7"/>
<rect x="502.7" y="257" width="13.8" height="21.7"/>
</g>
<g font-size="8.6" fill="#222" text-anchor="end" style="stroke-width:0.1px">
<text x="455.6" y="185.1">2.0</text><text x="455.6" y="209.3">1.5</text><text x="455.6" y="233.5">1.0</text><text x="455.6" y="257.7">0.5</text><text x="455.6" y="281.9">0.0</text>
</g>
<circle cx="489.7" cy="247.5" r="1.6" fill="#9a9a9a"/><circle cx="509.7" cy="246.7" r="1.6" fill="#9a9a9a"/>
<text transform="translate(439.5,230) rotate(-90)" text-anchor="middle" font-size="8.2" fill="#222">Mus81 mRNA Level</text>
<g font-size="8.6" fill="#222" text-anchor="end" style="stroke-width:0.08px">
<text transform="translate(471.8,289.3) rotate(-45)">Control</text>
<text transform="translate(491.8,289.3) rotate(-45)">Sirt5 siRNA#1</text>
<text transform="translate(511.5,289.6) rotate(-45)">Sirt5 siRNA#2</text>
</g>
</svg>
</body></html>
